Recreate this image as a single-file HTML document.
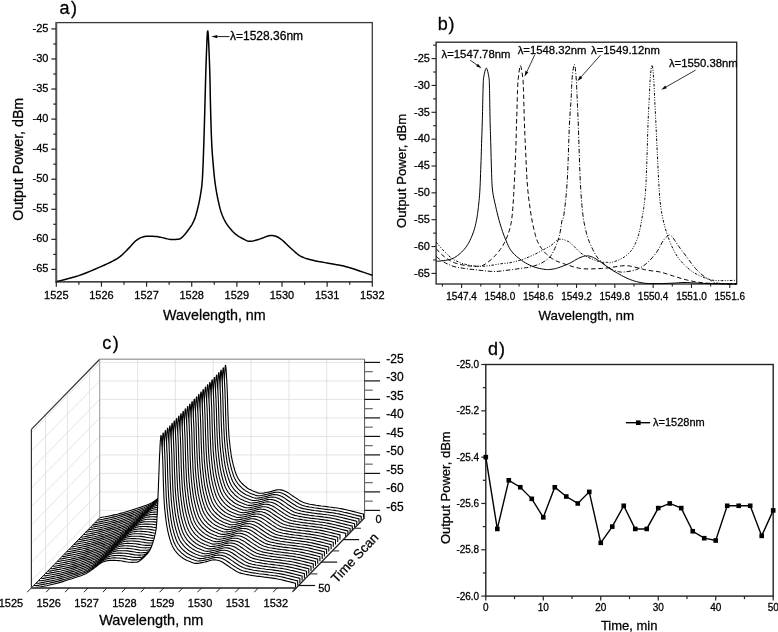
<!DOCTYPE html>
<html><head><meta charset="utf-8"><style>
html,body{margin:0;padding:0;background:#fff;width:778px;height:632px;overflow:hidden}
svg{display:block;will-change:transform}
text{font-family:"Liberation Sans", sans-serif;fill:#000;stroke:#000;stroke-width:0.28px}
</style></head><body>
<svg width="778" height="632" viewBox="0 0 778 632">
<rect x="436.1" y="42.2" width="300.6" height="241.8" fill="none" stroke="#222" stroke-width="1.3"/>
<line x1="442.44" y1="284" x2="442.44" y2="286.5" stroke="#222" stroke-width="1.1" />
<line x1="461.6" y1="284" x2="461.6" y2="288" stroke="#222" stroke-width="1.1" />
<text x="461.6" y="300.2" font-size="10" text-anchor="middle" >1547.4</text>
<line x1="480.75" y1="284" x2="480.75" y2="286.5" stroke="#222" stroke-width="1.1" />
<line x1="499.91" y1="284" x2="499.91" y2="288" stroke="#222" stroke-width="1.1" />
<text x="499.91" y="300.2" font-size="10" text-anchor="middle" >1548.0</text>
<line x1="519.06" y1="284" x2="519.06" y2="286.5" stroke="#222" stroke-width="1.1" />
<line x1="538.22" y1="284" x2="538.22" y2="288" stroke="#222" stroke-width="1.1" />
<text x="538.22" y="300.2" font-size="10" text-anchor="middle" >1548.6</text>
<line x1="557.37" y1="284" x2="557.37" y2="286.5" stroke="#222" stroke-width="1.1" />
<line x1="576.53" y1="284" x2="576.53" y2="288" stroke="#222" stroke-width="1.1" />
<text x="576.53" y="300.2" font-size="10" text-anchor="middle" >1549.2</text>
<line x1="595.68" y1="284" x2="595.68" y2="286.5" stroke="#222" stroke-width="1.1" />
<line x1="614.84" y1="284" x2="614.84" y2="288" stroke="#222" stroke-width="1.1" />
<text x="614.84" y="300.2" font-size="10" text-anchor="middle" >1549.8</text>
<line x1="633.99" y1="284" x2="633.99" y2="286.5" stroke="#222" stroke-width="1.1" />
<line x1="653.15" y1="284" x2="653.15" y2="288" stroke="#222" stroke-width="1.1" />
<text x="653.15" y="300.2" font-size="10" text-anchor="middle" >1550.4</text>
<line x1="672.3" y1="284" x2="672.3" y2="286.5" stroke="#222" stroke-width="1.1" />
<line x1="691.46" y1="284" x2="691.46" y2="288" stroke="#222" stroke-width="1.1" />
<text x="691.46" y="300.2" font-size="10" text-anchor="middle" >1551.0</text>
<line x1="710.61" y1="284" x2="710.61" y2="286.5" stroke="#222" stroke-width="1.1" />
<line x1="729.77" y1="284" x2="729.77" y2="288" stroke="#222" stroke-width="1.1" />
<text x="729.77" y="300.2" font-size="10" text-anchor="middle" >1551.6</text>
<line x1="431.5" y1="273.4" x2="436.1" y2="273.4" stroke="#222" stroke-width="1.1" />
<text x="429.9" y="276.6" font-size="11" text-anchor="end" >-65</text>
<line x1="433.1" y1="259.97" x2="436.1" y2="259.97" stroke="#222" stroke-width="1.1" />
<line x1="431.5" y1="246.55" x2="436.1" y2="246.55" stroke="#222" stroke-width="1.1" />
<text x="429.9" y="249.75" font-size="11" text-anchor="end" >-60</text>
<line x1="433.1" y1="233.12" x2="436.1" y2="233.12" stroke="#222" stroke-width="1.1" />
<line x1="431.5" y1="219.7" x2="436.1" y2="219.7" stroke="#222" stroke-width="1.1" />
<text x="429.9" y="222.9" font-size="11" text-anchor="end" >-55</text>
<line x1="433.1" y1="206.27" x2="436.1" y2="206.27" stroke="#222" stroke-width="1.1" />
<line x1="431.5" y1="192.85" x2="436.1" y2="192.85" stroke="#222" stroke-width="1.1" />
<text x="429.9" y="196.05" font-size="11" text-anchor="end" >-50</text>
<line x1="433.1" y1="179.42" x2="436.1" y2="179.42" stroke="#222" stroke-width="1.1" />
<line x1="431.5" y1="166" x2="436.1" y2="166" stroke="#222" stroke-width="1.1" />
<text x="429.9" y="169.2" font-size="11" text-anchor="end" >-45</text>
<line x1="433.1" y1="152.57" x2="436.1" y2="152.57" stroke="#222" stroke-width="1.1" />
<line x1="431.5" y1="139.15" x2="436.1" y2="139.15" stroke="#222" stroke-width="1.1" />
<text x="429.9" y="142.35" font-size="11" text-anchor="end" >-40</text>
<line x1="433.1" y1="125.72" x2="436.1" y2="125.72" stroke="#222" stroke-width="1.1" />
<line x1="431.5" y1="112.3" x2="436.1" y2="112.3" stroke="#222" stroke-width="1.1" />
<text x="429.9" y="115.5" font-size="11" text-anchor="end" >-35</text>
<line x1="433.1" y1="98.87" x2="436.1" y2="98.87" stroke="#222" stroke-width="1.1" />
<line x1="431.5" y1="85.45" x2="436.1" y2="85.45" stroke="#222" stroke-width="1.1" />
<text x="429.9" y="88.65" font-size="11" text-anchor="end" >-30</text>
<line x1="433.1" y1="72.02" x2="436.1" y2="72.02" stroke="#222" stroke-width="1.1" />
<line x1="431.5" y1="58.6" x2="436.1" y2="58.6" stroke="#222" stroke-width="1.1" />
<text x="429.9" y="61.8" font-size="11" text-anchor="end" >-25</text>
<line x1="433.1" y1="45.17" x2="436.1" y2="45.17" stroke="#222" stroke-width="1.1" />
<text x="437.7" y="30.2" font-size="18" text-anchor="start" letter-spacing="0.8">b)</text>
<text x="405.8" y="170.85" font-size="13.2" text-anchor="middle" transform="rotate(-90 405.8 170.85)">Output Power, dBm</text>
<text x="586.3" y="319.5" font-size="13.3" text-anchor="middle" >Wavelength, nm</text>
<text x="441.6" y="57.8" font-size="11.3" text-anchor="start" >λ=1547.78nm</text>
<text x="517.7" y="54.3" font-size="11.3" text-anchor="start" >λ=1548.32nm</text>
<text x="591.1" y="54.3" font-size="11.3" text-anchor="start" >λ=1549.12nm</text>
<text x="668.9" y="66.9" font-size="11.3" text-anchor="start" >λ=1550.38nm</text>
<line x1="470.1" y1="60.1" x2="477.02" y2="65.01" stroke="#000" stroke-width="0.8" /><path d="M481.5 68.2 L476.09 66.32 L477.94 63.71 Z" fill="#000"/>
<line x1="534.7" y1="55" x2="526.94" y2="71.52" stroke="#000" stroke-width="0.8" /><path d="M524.6 76.5 L525.49 70.84 L528.39 72.2 Z" fill="#000"/>
<line x1="600.6" y1="55" x2="581.15" y2="76.89" stroke="#000" stroke-width="0.8" /><path d="M577.5 81 L579.96 75.83 L582.35 77.95 Z" fill="#000"/>
<line x1="695.6" y1="70.1" x2="666.08" y2="86.97" stroke="#000" stroke-width="0.8" /><path d="M661.3 89.7 L665.28 85.58 L666.87 88.36 Z" fill="#000"/>
<path d="M436.2 261.2L436.75 261.19L437.19 261.2L437.62 261.21L438.17 261.2L438.93 261.14L440 261L441.49 260.81L443.33 260.6L445.38 260.34L447.5 260.01L449.56 259.57L451.4 259L453.04 258.3L454.6 257.49L456.09 256.58L457.53 255.57L458.93 254.48L460.3 253.3L461.65 252.04L462.97 250.71L464.25 249.28L465.49 247.76L466.67 246.13L467.8 244.4L468.88 242.52L469.93 240.48L470.92 238.34L471.85 236.14L472.72 233.95L473.5 231.8L474.19 229.7L474.8 227.62L475.34 225.53L475.82 223.43L476.27 221.29L476.7 219.1L477.1 216.87L477.45 214.6L477.77 212.31L478.06 209.97L478.33 207.61L478.6 205.2L478.85 202.86L479.09 200.59L479.31 198.29L479.51 195.84L479.71 193.12L479.9 190L480.09 186.4L480.26 182.39L480.43 178.11L480.59 173.7L480.75 169.28L480.9 165L481.05 160.72L481.19 156.3L481.33 151.88L481.46 147.59L481.59 143.59L481.7 140L481.8 136.98L481.89 134.45L481.97 132.19L482.04 130.01L482.12 127.68L482.2 125L482.28 121.91L482.37 118.55L482.46 115.06L482.54 111.54L482.62 108.11L482.7 104.9L482.77 101.85L482.83 98.87L482.89 95.98L482.96 93.22L483.02 90.61L483.1 88.2L483.17 86.01L483.21 84.04L483.26 82.23L483.34 80.51L483.48 78.86L483.7 77.2L484.02 75.36L484.42 73.35L484.88 71.39L485.36 69.71L485.84 68.54L486.3 68.1L486.76 68.54L487.24 69.71L487.73 71.39L488.18 73.35L488.58 75.36L488.9 77.2L489.12 78.86L489.26 80.51L489.34 82.23L489.4 84.04L489.44 86.01L489.5 88.2L489.57 90.61L489.62 93.22L489.66 95.98L489.7 98.87L489.75 101.85L489.8 104.9L489.86 108.05L489.92 111.35L489.98 114.74L490.05 118.18L490.12 121.62L490.2 125L490.29 128.28L490.38 131.49L490.48 134.69L490.59 137.97L490.69 141.38L490.8 145L490.91 148.94L491.01 153.15L491.12 157.5L491.24 161.85L491.36 166.06L491.5 170L491.62 173.66L491.73 177.17L491.84 180.53L491.99 183.78L492.2 186.93L492.5 190L492.89 192.95L493.36 195.74L493.89 198.44L494.47 201.09L495.08 203.76L495.7 206.5L496.34 209.32L497.01 212.19L497.72 215.08L498.45 217.94L499.21 220.76L500 223.5L500.82 226.18L501.66 228.83L502.53 231.44L503.43 233.98L504.35 236.44L505.3 238.8L506.23 241.07L507.15 243.27L508.09 245.38L509.1 247.41L510.22 249.35L511.5 251.2L512.95 252.95L514.56 254.61L516.28 256.19L518.06 257.67L519.88 259.08L521.7 260.4L523.52 261.65L525.39 262.81L527.29 263.9L529.22 264.9L531.16 265.8L533.1 266.6L535.11 267.3L537.21 267.9L539.32 268.4L541.38 268.81L543.29 269.15L545 269.4L546.45 269.56L547.7 269.61L548.82 269.57L549.86 269.48L550.9 269.35L552 269.2L553.1 269.05L554.13 268.87L555.15 268.66L556.23 268.39L557.43 268.04L558.8 267.6L560.41 267.04L562.23 266.36L564.17 265.61L566.13 264.81L568.04 264L569.8 263.2L571.43 262.37L573.01 261.47L574.52 260.56L575.98 259.68L577.37 258.88L578.7 258.2L579.94 257.64L581.1 257.16L582.19 256.75L583.24 256.42L584.27 256.17L585.3 256L586.29 255.9L587.23 255.87L588.14 255.91L589.06 256.04L590.04 256.27L591.1 256.6L592.25 257.04L593.46 257.59L594.71 258.24L596.01 258.96L597.34 259.76L598.7 260.6L600.08 261.53L601.5 262.56L602.94 263.66L604.43 264.79L605.94 265.91L607.5 267L609.08 268.06L610.67 269.11L612.31 270.16L613.99 271.2L615.75 272.25L617.6 273.3L619.57 274.38L621.64 275.51L623.79 276.63L625.97 277.71L628.15 278.72L630.3 279.6L632.42 280.37L634.56 281.05L636.69 281.66L638.82 282.18L640.92 282.63L643 283L644.98 283.27L646.87 283.44L648.73 283.54L650.66 283.58L652.72 283.59L655 283.6L657.6 283.59L660.48 283.55L663.5 283.48L666.52 283.39L669.4 283.3L672 283.2L674.29 283.09L676.37 282.94L678.31 282.79L680.19 282.66L682.06 282.55L684 282.5L685.95 282.51L687.85 282.57L689.75 282.66L691.7 282.77L693.77 282.89L696 283L698.34 283.11L700.72 283.23L703.22 283.36L705.89 283.49L708.8 283.6L712 283.7L715.59 283.77L719.54 283.83L723.72 283.87L728.02 283.91L732.32 283.95L736.5 284" fill="none" stroke="#000" stroke-width="1" stroke-linejoin="round" />
<path d="M436.2 248.8L437.28 249.92L438.31 251.04L439.35 252.16L440.43 253.27L441.6 254.39L442.9 255.5L444.34 256.64L445.88 257.83L447.51 259.01L449.21 260.15L450.98 261.19L452.8 262.1L454.71 262.87L456.74 263.53L458.83 264.11L460.93 264.6L463 265.03L465 265.4L466.96 265.71L468.94 265.94L470.89 266.11L472.77 266.22L474.52 266.28L476.1 266.3L477.47 266.3L478.64 266.28L479.69 266.21L480.69 266.06L481.71 265.8L482.8 265.4L484 264.81L485.24 264.06L486.51 263.19L487.74 262.27L488.92 261.35L490 260.5L490.95 259.74L491.79 259.03L492.56 258.33L493.33 257.58L494.12 256.75L495 255.8L495.98 254.71L497.02 253.51L498.09 252.24L499.17 250.9L500.22 249.51L501.2 248.1L502.13 246.68L503.02 245.23L503.88 243.74L504.71 242.18L505.52 240.54L506.3 238.8L507.06 236.95L507.81 235L508.54 232.97L509.22 230.87L509.84 228.71L510.4 226.5L510.87 224.37L511.26 222.33L511.6 220.22L511.9 217.92L512.2 215.26L512.5 212.1L512.81 208.35L513.11 204.11L513.39 199.52L513.67 194.72L513.94 189.83L514.2 185L514.46 180.17L514.71 175.21L514.95 170.18L515.18 165.11L515.4 160.03L515.6 155L515.78 149.89L515.95 144.63L516.1 139.38L516.24 134.27L516.37 129.43L516.5 125L516.62 121.04L516.73 117.44L516.83 114.12L516.92 110.98L517.01 107.94L517.1 104.9L517.19 101.85L517.26 98.87L517.34 95.98L517.41 93.22L517.5 90.61L517.6 88.2L517.7 86.04L517.8 84.14L517.91 82.39L518.03 80.71L518.19 79.01L518.4 77.2L518.66 75.02L518.97 72.49L519.31 69.93L519.67 67.69L520.04 66.1L520.4 65.5L520.78 66.1L521.2 67.69L521.63 69.93L522.04 72.49L522.41 75.02L522.7 77.2L522.91 79.01L523.06 80.71L523.16 82.39L523.24 84.14L523.31 86.04L523.4 88.2L523.49 90.61L523.58 93.22L523.66 95.98L523.73 98.87L523.81 101.85L523.9 104.9L523.99 107.94L524.07 110.98L524.15 114.12L524.24 117.44L524.36 121.04L524.5 125L524.67 129.41L524.87 134.21L525.08 139.29L525.31 144.52L525.55 149.8L525.8 155L526.04 160.23L526.29 165.61L526.54 171.04L526.81 176.4L527.13 181.59L527.5 186.5L527.93 191.16L528.41 195.66L528.92 199.98L529.47 204.13L530.03 208.11L530.6 211.9L531.18 215.51L531.77 218.95L532.39 222.21L533.01 225.29L533.65 228.18L534.3 230.9L534.93 233.39L535.53 235.65L536.14 237.73L536.8 239.67L537.54 241.55L538.4 243.4L539.39 245.23L540.48 246.98L541.66 248.66L542.9 250.26L544.18 251.78L545.5 253.2L546.84 254.52L548.22 255.75L549.65 256.89L551.13 257.95L552.68 258.95L554.3 259.9L556.02 260.78L557.83 261.58L559.71 262.31L561.61 263L563.52 263.66L565.4 264.3L567.27 264.94L569.16 265.56L571.05 266.14L572.92 266.69L574.74 267.18L576.5 267.6L578.07 267.96L579.43 268.26L580.76 268.5L582.19 268.69L583.89 268.82L586 268.9L588.62 268.92L591.63 268.88L594.91 268.79L598.31 268.64L601.72 268.44L605 268.2L608.27 267.84L611.66 267.36L615.06 266.82L618.33 266.32L621.35 265.92L624 265.7L626.17 265.68L627.93 265.79L629.44 266L630.87 266.29L632.37 266.64L634.1 267L636.06 267.43L638.12 267.94L640.26 268.51L642.43 269.09L644.62 269.63L646.8 270.1L648.98 270.46L651.18 270.75L653.4 271.01L655.62 271.27L657.82 271.59L660 272L662.15 272.52L664.27 273.13L666.39 273.78L668.49 274.46L670.59 275.14L672.7 275.8L674.8 276.45L676.9 277.11L679 277.78L681.1 278.42L683.2 279.04L685.3 279.6L687.41 280.12L689.53 280.61L691.65 281.06L693.77 281.48L695.89 281.86L698 282.2L700.08 282.49L702.14 282.73L704.19 282.93L706.27 283.1L708.4 283.26L710.6 283.4L712.93 283.53L715.37 283.63L717.87 283.72L720.35 283.79L722.75 283.85L725 283.9L727.08 283.94L729.05 283.96L730.93 283.97L732.77 283.98L734.62 283.99L736.5 284" fill="none" stroke="#000" stroke-width="1" stroke-linejoin="round" stroke-dasharray="4.5 2.8"/>
<path d="M436.2 256.6L437.48 257.53L438.72 258.47L439.97 259.42L441.24 260.35L442.58 261.25L444 262.1L445.49 262.92L447.02 263.73L448.61 264.5L450.27 265.23L452.03 265.9L453.9 266.5L455.88 267.01L457.96 267.44L460.12 267.81L462.39 268.14L464.75 268.46L467.2 268.8L469.85 269.15L472.73 269.5L475.69 269.84L478.63 270.16L481.41 270.45L483.9 270.7L486.06 270.92L487.99 271.12L489.75 271.29L491.44 271.41L493.13 271.49L494.9 271.5L496.71 271.44L498.49 271.3L500.26 271.12L502.08 270.9L503.98 270.65L506 270.4L508.19 270.13L510.52 269.83L512.93 269.51L515.36 269.17L517.74 268.83L520 268.5L522.15 268.2L524.24 267.93L526.29 267.66L528.29 267.35L530.26 266.97L532.2 266.5L534.14 265.93L536.07 265.29L537.98 264.59L539.81 263.82L541.57 262.99L543.2 262.1L544.71 261.18L546.12 260.23L547.44 259.22L548.69 258.11L549.87 256.89L551 255.5L552.07 253.91L553.08 252.13L554.03 250.23L554.91 248.27L555.73 246.3L556.5 244.4L557.2 242.58L557.83 240.78L558.41 238.99L558.93 237.16L559.43 235.28L559.9 233.3L560.34 231.12L560.74 228.73L561.1 226.28L561.44 223.91L561.77 221.77L562.1 220L562.41 218.99L562.67 218.71L562.93 218.65L563.2 218.31L563.52 217.2L563.9 214.8L564.38 211.14L564.93 206.64L565.52 201.36L566.13 195.36L566.7 188.72L567.2 181.5L567.64 173.07L568.03 163.24L568.4 152.78L568.74 142.41L569.08 132.9L569.4 125L569.72 118.89L570.03 114.02L570.32 110L570.6 106.46L570.86 103.02L571.1 99.3L571.31 95.3L571.47 91.32L571.62 87.44L571.77 83.74L571.96 80.3L572.2 77.2L572.51 74.23L572.87 71.3L573.26 68.62L573.66 66.43L574.05 64.94L574.4 64.4L574.72 64.94L575.03 66.43L575.32 68.62L575.6 71.3L575.86 74.23L576.1 77.2L576.32 80.3L576.51 83.74L576.69 87.44L576.86 91.32L577.02 95.3L577.2 99.3L577.37 103.02L577.53 106.46L577.69 110L577.87 114.02L578.06 118.89L578.3 125L578.57 132.9L578.88 142.41L579.21 152.78L579.56 163.24L579.92 173.07L580.3 181.5L580.69 188.56L581.09 194.87L581.5 200.53L581.94 205.66L582.4 210.38L582.9 214.8L583.45 218.84L584.04 222.39L584.66 225.53L585.29 228.34L585.91 230.9L586.5 233.3L587.03 235.38L587.51 237.04L587.98 238.46L588.49 239.8L589.08 241.22L589.8 242.9L590.67 244.9L591.66 247.1L592.73 249.39L593.84 251.64L594.98 253.75L596.1 255.6L597.21 257.16L598.35 258.53L599.51 259.75L600.67 260.87L601.84 261.94L603 263L604.15 264.06L605.3 265.07L606.46 266.03L607.62 266.93L608.8 267.76L610 268.5L611.25 269.16L612.53 269.74L613.84 270.26L615.13 270.7L616.4 271.08L617.6 271.4L618.66 271.67L619.59 271.89L620.49 272.04L621.45 272.11L622.59 272.11L624 272L625.77 271.81L627.83 271.54L630.06 271.18L632.35 270.73L634.57 270.17L636.6 269.5L638.44 268.73L640.18 267.87L641.86 266.91L643.5 265.82L645.13 264.59L646.8 263.2L648.54 261.59L650.32 259.76L652.11 257.78L653.83 255.74L655.45 253.72L656.9 251.8L658.17 249.9L659.29 247.94L660.29 246L661.23 244.15L662.12 242.46L663 241L663.86 239.77L664.67 238.72L665.44 237.82L666.18 237.08L666.9 236.48L667.6 236L668.24 235.59L668.79 235.23L669.31 235.02L669.88 235.02L670.56 235.32L671.4 236L672.45 237.17L673.65 238.8L674.96 240.72L676.33 242.78L677.69 244.83L679 246.7L680.27 248.42L681.53 250.11L682.8 251.78L684.07 253.45L685.33 255.12L686.6 256.8L687.87 258.52L689.13 260.29L690.4 262.06L691.67 263.79L692.93 265.45L694.2 267L695.47 268.45L696.73 269.82L698 271.12L699.27 272.36L700.53 273.51L701.8 274.6L703.08 275.6L704.38 276.53L705.68 277.38L706.96 278.16L708.21 278.9L709.4 279.6L710.49 280.26L711.49 280.88L712.44 281.45L713.43 281.96L714.49 282.41L715.7 282.8L717.05 283.1L718.5 283.33L720.03 283.49L721.63 283.61L723.29 283.71L725 283.8L726.79 283.88L728.67 283.93L730.61 283.95L732.59 283.96L734.56 283.98L736.5 284" fill="none" stroke="#000" stroke-width="1" stroke-linejoin="round" stroke-dasharray="4.5 1.8 1 1.8"/>
<path d="M436.2 242.2L437.29 243.48L438.36 244.74L439.42 246.01L440.51 247.29L441.66 248.58L442.9 249.9L444.23 251.29L445.63 252.74L447.09 254.22L448.6 255.66L450.14 257L451.7 258.2L453.27 259.25L454.86 260.19L456.49 261.04L458.16 261.82L459.89 262.53L461.7 263.2L463.61 263.83L465.6 264.4L467.66 264.91L469.75 265.36L471.84 265.72L473.9 266L475.91 266.19L477.89 266.29L479.86 266.31L481.87 266.27L483.94 266.16L486.1 266L488.43 265.75L490.92 265.39L493.47 264.97L495.98 264.53L498.36 264.13L500.5 263.8L502.35 263.57L503.97 263.41L505.46 263.29L506.9 263.15L508.38 262.97L510 262.7L511.76 262.35L513.58 261.95L515.45 261.51L517.34 261.01L519.23 260.48L521.1 259.9L522.95 259.27L524.8 258.6L526.66 257.87L528.51 257.11L530.36 256.32L532.2 255.5L534.06 254.63L535.95 253.71L537.84 252.76L539.69 251.79L541.49 250.83L543.2 249.9L544.85 248.99L546.45 248.09L548 247.2L549.47 246.32L550.84 245.45L552.1 244.6L553.21 243.72L554.19 242.8L555.07 241.9L555.9 241.06L556.69 240.35L557.5 239.8L558.31 239.45L559.09 239.25L559.84 239.18L560.57 239.18L561.29 239.24L562 239.3L562.69 239.38L563.34 239.51L563.98 239.69L564.62 239.92L565.29 240.19L566 240.5L566.72 240.8L567.42 241.09L568.14 241.43L568.94 241.86L569.84 242.47L570.9 243.3L572.18 244.47L573.65 245.95L575.24 247.59L576.85 249.26L578.4 250.81L579.8 252.1L580.98 253.09L581.99 253.9L582.94 254.59L583.94 255.23L585.09 255.88L586.5 256.6L588.26 257.44L590.31 258.36L592.52 259.28L594.74 260.16L596.85 260.92L598.7 261.5L600.32 261.88L601.8 262.09L603.17 262.19L604.44 262.23L605.61 262.25L606.7 262.3L607.6 262.41L608.28 262.56L608.87 262.69L609.49 262.75L610.25 262.71L611.3 262.5L612.68 262.13L614.3 261.64L616.08 261.04L617.92 260.34L619.72 259.56L621.4 258.7L622.99 257.76L624.57 256.74L626.12 255.62L627.61 254.43L629.02 253.15L630.3 251.8L631.46 250.35L632.51 248.8L633.48 247.17L634.37 245.48L635.21 243.75L636 242L636.74 240.23L637.4 238.43L638.01 236.59L638.57 234.7L639.09 232.78L639.6 230.8L640.07 228.76L640.5 226.66L640.89 224.51L641.27 222.34L641.63 220.16L642 218L642.37 215.97L642.73 214.07L643.08 212.17L643.42 210.12L643.76 207.78L644.1 205L644.44 202.11L644.77 199.3L645.11 196.19L645.44 192.43L645.77 187.65L646.1 181.5L646.44 173.17L646.8 162.8L647.16 151.42L647.5 140.05L647.82 129.73L648.1 121.5L648.34 115.61L648.53 111.3L648.71 108.03L648.87 105.29L649.03 102.56L649.2 99.3L649.38 95.5L649.54 91.56L649.71 87.62L649.89 83.83L650.08 80.31L650.3 77.2L650.55 74.31L650.83 71.5L651.12 68.96L651.42 66.89L651.72 65.51L652 65L652.28 65.51L652.56 66.89L652.84 68.96L653.11 71.5L653.36 74.31L653.6 77.2L653.81 80.31L654 83.83L654.18 87.63L654.35 91.56L654.52 95.5L654.7 99.3L654.86 102.56L655 105.29L655.14 108.03L655.3 111.3L655.51 115.61L655.8 121.5L656.19 129.73L656.67 140.05L657.21 151.42L657.75 162.8L658.26 173.17L658.7 181.5L659.05 187.6L659.33 192.25L659.58 195.89L659.83 198.95L660.13 201.84L660.5 205L660.94 208.3L661.42 211.38L661.94 214.29L662.51 217.11L663.13 219.89L663.8 222.7L664.53 225.54L665.32 228.36L666.16 231.14L667.04 233.87L667.96 236.53L668.9 239.1L669.87 241.6L670.86 244.06L671.89 246.44L672.96 248.73L674.06 250.93L675.2 253L676.36 254.93L677.54 256.73L678.76 258.42L680.03 260.04L681.37 261.62L682.8 263.2L684.32 264.78L685.93 266.35L687.61 267.88L689.34 269.35L691.11 270.73L692.9 272L694.75 273.17L696.7 274.24L698.67 275.24L700.64 276.14L702.53 276.97L704.3 277.7L705.91 278.34L707.41 278.88L708.83 279.34L710.24 279.72L711.68 280.04L713.2 280.3L714.78 280.49L716.36 280.59L717.98 280.63L719.66 280.63L721.42 280.61L723.3 280.6L725.32 280.58L727.47 280.54L729.71 280.49L731.99 280.42L734.26 280.36L736.5 280.3" fill="none" stroke="#000" stroke-width="1" stroke-linejoin="round" stroke-dasharray="2.6 1.5 1 1.5 1 1.5"/>
<line x1="99.7" y1="510.4" x2="364.58" y2="510.4" stroke="#d9d9d9" stroke-width="0.7" />
<line x1="99.7" y1="491.9" x2="364.58" y2="491.9" stroke="#d9d9d9" stroke-width="0.7" />
<line x1="99.7" y1="473.4" x2="364.58" y2="473.4" stroke="#d9d9d9" stroke-width="0.7" />
<line x1="99.7" y1="454.9" x2="364.58" y2="454.9" stroke="#d9d9d9" stroke-width="0.7" />
<line x1="99.7" y1="436.4" x2="364.58" y2="436.4" stroke="#d9d9d9" stroke-width="0.7" />
<line x1="99.7" y1="417.9" x2="364.58" y2="417.9" stroke="#d9d9d9" stroke-width="0.7" />
<line x1="99.7" y1="399.4" x2="364.58" y2="399.4" stroke="#d9d9d9" stroke-width="0.7" />
<line x1="99.7" y1="380.9" x2="364.58" y2="380.9" stroke="#d9d9d9" stroke-width="0.7" />
<line x1="99.7" y1="362.4" x2="364.58" y2="362.4" stroke="#d9d9d9" stroke-width="0.7" />
<line x1="99.7" y1="359.25" x2="99.7" y2="517.8" stroke="#d9d9d9" stroke-width="0.7" />
<line x1="137.54" y1="359.25" x2="137.54" y2="517.8" stroke="#d9d9d9" stroke-width="0.7" />
<line x1="175.38" y1="359.25" x2="175.38" y2="517.8" stroke="#d9d9d9" stroke-width="0.7" />
<line x1="213.22" y1="359.25" x2="213.22" y2="517.8" stroke="#d9d9d9" stroke-width="0.7" />
<line x1="251.06" y1="359.25" x2="251.06" y2="517.8" stroke="#d9d9d9" stroke-width="0.7" />
<line x1="288.9" y1="359.25" x2="288.9" y2="517.8" stroke="#d9d9d9" stroke-width="0.7" />
<line x1="326.74" y1="359.25" x2="326.74" y2="517.8" stroke="#d9d9d9" stroke-width="0.7" />
<line x1="364.58" y1="359.25" x2="364.58" y2="517.8" stroke="#d9d9d9" stroke-width="0.7" />
<line x1="99.7" y1="510.4" x2="31.4" y2="580.5" stroke="#d9d9d9" stroke-width="0.7" />
<line x1="99.7" y1="491.9" x2="31.4" y2="562" stroke="#d9d9d9" stroke-width="0.7" />
<line x1="99.7" y1="473.4" x2="31.4" y2="543.5" stroke="#d9d9d9" stroke-width="0.7" />
<line x1="99.7" y1="454.9" x2="31.4" y2="525" stroke="#d9d9d9" stroke-width="0.7" />
<line x1="99.7" y1="436.4" x2="31.4" y2="506.5" stroke="#d9d9d9" stroke-width="0.7" />
<line x1="99.7" y1="417.9" x2="31.4" y2="488" stroke="#d9d9d9" stroke-width="0.7" />
<line x1="99.7" y1="399.4" x2="31.4" y2="469.5" stroke="#d9d9d9" stroke-width="0.7" />
<line x1="99.7" y1="380.9" x2="31.4" y2="451" stroke="#d9d9d9" stroke-width="0.7" />
<line x1="99.7" y1="362.4" x2="31.4" y2="432.5" stroke="#d9d9d9" stroke-width="0.7" />
<line x1="45.6" y1="414.78" x2="45.6" y2="573.33" stroke="#d9d9d9" stroke-width="0.7" />
<line x1="67.4" y1="392.41" x2="67.4" y2="550.95" stroke="#d9d9d9" stroke-width="0.7" />
<line x1="89.5" y1="369.72" x2="89.5" y2="528.27" stroke="#d9d9d9" stroke-width="0.7" />
<line x1="99.7" y1="359.25" x2="364.58" y2="359.25" stroke="#a8a8a8" stroke-width="1.6" />
<line x1="99.7" y1="359.25" x2="31.4" y2="429.35" stroke="#333" stroke-width="1.2" />
<line x1="31.4" y1="429.35" x2="31.4" y2="587.9" stroke="#333" stroke-width="1.2" />
<line x1="99.7" y1="359.25" x2="99.7" y2="517.8" stroke="#999" stroke-width="0.9" />
<line x1="364.58" y1="359.25" x2="364.58" y2="517.8" stroke="#555" stroke-width="1.0" />
<path d="M99.7 517.8L102.1 517.3L105.1 516.8L108.2 516.2L111.2 515.6L114.3 514.9L117.4 514.2L120.6 513.4L123.9 512.5L127.2 511.5L130.4 510.5L133.5 509.5L136.4 508.6L139 507.7L141.6 506.9L143.9 506.1L146.2 505.3L148.3 504.4L150.2 503.6L152 502.7L153.5 501.7L154.9 500.8L156.2 499.8L157.5 498.9L158.8 498L160 497L161.2 496.1L162.3 495.1L163.5 494.2L164.6 493.4L165.7 492.7L166.8 492.2L167.9 491.7L168.9 491.3L170 491L171.2 490.7L172.6 490.5L174.1 490.3L175.8 490.3L177.5 490.2L179.3 490.3L181.1 490.4L182.9 490.5L184.7 490.7L186.5 490.9L188.4 491.3L190.2 491.6L191.8 491.9L193.3 492.1L194.5 492.2L195.6 492.2L196.5 492.3L197.3 492.3L198.1 492.2L198.9 492.2L199.7 492.2L200.4 492.1L201 492.1L201.6 492L202.3 491.8L203.1 491.5L204 490.9L204.9 490.3L205.8 489.5L206.8 488.7L207.8 487.8L208.7 486.9L209.6 486L210.6 485.1L211.5 484L212.4 483L213.2 481.9L214 480.7L214.7 479.5L215.3 478.3L215.8 477L216.3 475.7L216.7 474.4L217.2 473.1L217.6 471.8L218 470.6L218.4 469.3L218.7 468L219 466.7L219.4 465.3L219.7 464L220 462.7L220.2 461.4L220.5 459.9L220.7 458.2L221 456.1L221.2 453.6L221.4 450.9L221.5 447.9L221.7 444.7L221.9 441.3L222 437.8L222.2 434.1L222.4 430.1L222.6 425.9L222.7 421.7L222.9 417.5L223 413.4L223.2 409.5L223.3 405.6L223.5 401.7L223.6 397.9L223.7 394.2L223.9 390.6L224 387L224.2 383.3L224.4 379.8L224.6 376.5L224.7 373.6L224.9 371.1L225 369.3L225.1 367.8L225.2 366.7L225.3 365.9L225.4 365.5L225.5 365.4L225.6 365.5L225.7 365.9L225.8 366.7L225.9 367.8L226.1 369.3L226.2 371.1L226.4 373.6L226.5 376.5L226.7 379.8L226.9 383.3L227.1 387L227.2 390.6L227.4 394.2L227.5 398L227.6 401.9L227.7 405.8L227.8 409.7L227.9 413.4L228.1 417.1L228.2 420.9L228.4 424.6L228.5 428.1L228.7 431.6L228.9 434.7L229.1 437.7L229.4 440.4L229.7 443L230 445.5L230.2 447.8L230.5 449.9L230.8 451.9L231 453.7L231.2 455.3L231.5 456.8L231.8 458.4L232.1 460L232.5 461.7L232.9 463.4L233.3 465.2L233.8 466.9L234.3 468.5L234.7 470L235.1 471.3L235.5 472.5L235.9 473.7L236.4 474.8L236.8 475.8L237.4 476.9L238 478L238.6 479L239.3 480.1L240 481.1L240.8 482.1L241.7 483.1L242.6 484L243.6 485L244.7 485.9L245.8 486.8L246.9 487.7L248 488.5L249.2 489.2L250.5 489.8L251.8 490.5L253 491L254.3 491.5L255.4 491.9L256.4 492.3L257.3 492.7L258.1 492.9L258.9 493.2L259.9 493.3L260.9 493.3L262.2 493.3L263.6 493.1L265 492.8L266.5 492.5L268 492.2L269.5 491.9L270.9 491.5L272.4 491.1L273.9 490.6L275.4 490.2L276.8 489.9L278.2 489.8L279.5 489.8L280.7 489.9L281.9 490.1L283.2 490.4L284.5 490.9L285.9 491.5L287.6 492.4L289.4 493.6L291.2 494.9L293.1 496.2L294.9 497.4L296.6 498.5L298 499.4L299.2 500.2L300.4 500.9L301.6 501.6L302.9 502.2L304.4 502.8L306 503.3L307.8 503.7L309.7 504.2L311.7 504.5L313.8 504.9L316 505.3L318.4 505.6L321 506L323.8 506.3L326.5 506.6L329.1 507L331.5 507.3L333.6 507.6L335.4 507.8L337.1 508L338.8 508.3L340.8 508.6L343.2 509.1L346.1 509.7L349.3 510.5L352.8 511.4L356.4 512.3L360 513.2L363.5 514L363.5 517.8L99.7 517.8Z" fill="#fff" stroke="none"/>
<path d="M99.7 517.8L102.1 517.3L105.1 516.8L108.2 516.2L111.2 515.6L114.3 514.9L117.4 514.2L120.6 513.4L123.9 512.5L127.2 511.5L130.4 510.5L133.5 509.5L136.4 508.6L139 507.7L141.6 506.9L143.9 506.1L146.2 505.3L148.3 504.4L150.2 503.6L152 502.7L153.5 501.7L154.9 500.8L156.2 499.8L157.5 498.9L158.8 498L160 497L161.2 496.1L162.3 495.1L163.5 494.2L164.6 493.4L165.7 492.7L166.8 492.2L167.9 491.7L168.9 491.3L170 491L171.2 490.7L172.6 490.5L174.1 490.3L175.8 490.3L177.5 490.2L179.3 490.3L181.1 490.4L182.9 490.5L184.7 490.7L186.5 490.9L188.4 491.3L190.2 491.6L191.8 491.9L193.3 492.1L194.5 492.2L195.6 492.2L196.5 492.3L197.3 492.3L198.1 492.2L198.9 492.2L199.7 492.2L200.4 492.1L201 492.1L201.6 492L202.3 491.8L203.1 491.5L204 490.9L204.9 490.3L205.8 489.5L206.8 488.7L207.8 487.8L208.7 486.9L209.6 486L210.6 485.1L211.5 484L212.4 483L213.2 481.9L214 480.7L214.7 479.5L215.3 478.3L215.8 477L216.3 475.7L216.7 474.4L217.2 473.1L217.6 471.8L218 470.6L218.4 469.3L218.7 468L219 466.7L219.4 465.3L219.7 464L220 462.7L220.2 461.4L220.5 459.9L220.7 458.2L221 456.1L221.2 453.6L221.4 450.9L221.5 447.9L221.7 444.7L221.9 441.3L222 437.8L222.2 434.1L222.4 430.1L222.6 425.9L222.7 421.7L222.9 417.5L223 413.4L223.2 409.5L223.3 405.6L223.5 401.7L223.6 397.9L223.7 394.2L223.9 390.6L224 387L224.2 383.3L224.4 379.8L224.6 376.5L224.7 373.6L224.9 371.1L225 369.3L225.1 367.8L225.2 366.7L225.3 365.9L225.4 365.5L225.5 365.4L225.6 365.5L225.7 365.9L225.8 366.7L225.9 367.8L226.1 369.3L226.2 371.1L226.4 373.6L226.5 376.5L226.7 379.8L226.9 383.3L227.1 387L227.2 390.6L227.4 394.2L227.5 398L227.6 401.9L227.7 405.8L227.8 409.7L227.9 413.4L228.1 417.1L228.2 420.9L228.4 424.6L228.5 428.1L228.7 431.6L228.9 434.7L229.1 437.7L229.4 440.4L229.7 443L230 445.5L230.2 447.8L230.5 449.9L230.8 451.9L231 453.7L231.2 455.3L231.5 456.8L231.8 458.4L232.1 460L232.5 461.7L232.9 463.4L233.3 465.2L233.8 466.9L234.3 468.5L234.7 470L235.1 471.3L235.5 472.5L235.9 473.7L236.4 474.8L236.8 475.8L237.4 476.9L238 478L238.6 479L239.3 480.1L240 481.1L240.8 482.1L241.7 483.1L242.6 484L243.6 485L244.7 485.9L245.8 486.8L246.9 487.7L248 488.5L249.2 489.2L250.5 489.8L251.8 490.5L253 491L254.3 491.5L255.4 491.9L256.4 492.3L257.3 492.7L258.1 492.9L258.9 493.2L259.9 493.3L260.9 493.3L262.2 493.3L263.6 493.1L265 492.8L266.5 492.5L268 492.2L269.5 491.9L270.9 491.5L272.4 491.1L273.9 490.6L275.4 490.2L276.8 489.9L278.2 489.8L279.5 489.8L280.7 489.9L281.9 490.1L283.2 490.4L284.5 490.9L285.9 491.5L287.6 492.4L289.4 493.6L291.2 494.9L293.1 496.2L294.9 497.4L296.6 498.5L298 499.4L299.2 500.2L300.4 500.9L301.6 501.6L302.9 502.2L304.4 502.8L306 503.3L307.8 503.7L309.7 504.2L311.7 504.5L313.8 504.9L316 505.3L318.4 505.6L321 506L323.8 506.3L326.5 506.6L329.1 507L331.5 507.3L333.6 507.6L335.4 507.8L337.1 508L338.8 508.3L340.8 508.6L343.2 509.1L346.1 509.7L349.3 510.5L352.8 511.4L356.4 512.3L360 513.2L363.5 514L363.5 517.8" fill="none" stroke="#000" stroke-width="1.1" stroke-linejoin="round"/>
<path d="M97.3 520.2L99.8 519.7L102.9 519.2L105.9 518.6L109 518L112.1 517.4L115.2 516.6L118.4 515.8L121.7 514.9L125 513.9L128.2 512.9L131.3 512L134.1 511L136.8 510.2L139.3 509.3L141.7 508.5L143.9 507.7L146 506.8L148 506L149.7 505.1L151.3 504.1L152.7 503.2L154 502.2L155.3 501.3L156.5 500.4L157.8 499.5L159 498.5L160.1 497.6L161.2 496.7L162.4 495.8L163.5 495.1L164.6 494.6L165.7 494.1L166.7 493.7L167.8 493.4L169 493.1L170.4 492.9L171.9 492.7L173.5 492.7L175.3 492.7L177.1 492.7L178.9 492.8L180.7 492.9L182.5 493.1L184.3 493.4L186.2 493.7L188 494L189.6 494.3L191.1 494.5L192.3 494.6L193.3 494.7L194.3 494.7L195.1 494.7L195.9 494.6L196.7 494.6L197.4 494.6L198.1 494.6L198.8 494.5L199.4 494.4L200.1 494.2L200.9 493.9L201.7 493.4L202.7 492.7L203.6 492L204.6 491.1L205.6 490.3L206.5 489.4L207.4 488.4L208.4 487.5L209.3 486.5L210.2 485.4L211 484.3L211.8 483.2L212.4 482L213 480.7L213.6 479.4L214 478.1L214.5 476.8L215 475.5L215.4 474.2L215.8 473L216.1 471.7L216.5 470.5L216.8 469.1L217.1 467.8L217.4 466.4L217.7 465.1L218 463.8L218.3 462.3L218.5 460.6L218.7 458.5L218.9 456.1L219.1 453.3L219.3 450.3L219.5 447.1L219.6 443.7L219.8 440.2L220 436.5L220.2 432.5L220.3 428.3L220.5 424.1L220.7 419.9L220.8 415.9L221 411.9L221.1 408L221.2 404.1L221.4 400.3L221.5 396.6L221.7 393L221.8 389.4L222 385.7L222.2 382.2L222.3 378.9L222.5 376L222.6 373.6L222.8 371.7L222.9 370.2L223 369.1L223.1 368.3L223.2 367.9L223.3 367.8L223.4 367.9L223.5 368.3L223.6 369.1L223.7 370.2L223.8 371.7L224 373.6L224.1 376L224.3 378.9L224.5 382.2L224.7 385.7L224.9 389.4L225 393L225.1 396.6L225.3 400.4L225.4 404.3L225.5 408.2L225.6 412.1L225.7 415.9L225.8 419.6L226 423.3L226.1 427L226.3 430.6L226.5 434L226.7 437.2L226.9 440.1L227.2 442.9L227.5 445.5L227.7 447.9L228 450.2L228.3 452.4L228.5 454.3L228.8 456.1L229 457.7L229.3 459.3L229.6 460.8L229.9 462.4L230.3 464.1L230.7 465.9L231.1 467.6L231.6 469.3L232 470.9L232.5 472.4L232.9 473.7L233.3 475L233.7 476.1L234.1 477.2L234.6 478.2L235.2 479.3L235.8 480.4L236.4 481.5L237.1 482.5L237.8 483.5L238.6 484.5L239.4 485.5L240.4 486.4L241.4 487.4L242.4 488.3L243.5 489.3L244.7 490.1L245.8 490.9L247 491.6L248.3 492.3L249.5 492.9L250.8 493.4L252 493.9L253.2 494.4L254.2 494.7L255.1 495.1L255.9 495.4L256.7 495.6L257.6 495.7L258.7 495.8L260 495.7L261.3 495.5L262.8 495.2L264.3 494.9L265.8 494.6L267.3 494.3L268.7 493.9L270.2 493.5L271.7 493.1L273.1 492.7L274.6 492.4L276 492.2L277.3 492.2L278.5 492.3L279.7 492.5L280.9 492.8L282.3 493.3L283.7 493.9L285.3 494.8L287.1 496L289 497.3L290.9 498.6L292.7 499.9L294.3 500.9L295.8 501.8L297 502.6L298.2 503.3L299.4 504L300.6 504.6L302.1 505.2L303.8 505.7L305.6 506.2L307.5 506.6L309.5 507L311.6 507.3L313.8 507.7L316.2 508L318.8 508.4L321.5 508.7L324.3 509.1L326.9 509.4L329.3 509.7L331.4 510L333.1 510.2L334.8 510.4L336.6 510.7L338.6 511L341 511.5L343.8 512.2L347.1 512.9L350.6 513.8L354.2 514.7L357.8 515.6L361.2 516.4L361.2 520.2L97.3 520.2Z" fill="#fff" stroke="none"/>
<path d="M97.3 520.2L99.8 519.7L102.9 519.2L105.9 518.6L109 518L112.1 517.4L115.2 516.6L118.4 515.8L121.7 514.9L125 513.9L128.2 512.9L131.3 512L134.1 511L136.8 510.2L139.3 509.3L141.7 508.5L143.9 507.7L146 506.8L148 506L149.7 505.1L151.3 504.1L152.7 503.2L154 502.2L155.3 501.3L156.5 500.4L157.8 499.5L159 498.5L160.1 497.6L161.2 496.7L162.4 495.8L163.5 495.1L164.6 494.6L165.7 494.1L166.7 493.7L167.8 493.4L169 493.1L170.4 492.9L171.9 492.7L173.5 492.7L175.3 492.7L177.1 492.7L178.9 492.8L180.7 492.9L182.5 493.1L184.3 493.4L186.2 493.7L188 494L189.6 494.3L191.1 494.5L192.3 494.6L193.3 494.7L194.3 494.7L195.1 494.7L195.9 494.6L196.7 494.6L197.4 494.6L198.1 494.6L198.8 494.5L199.4 494.4L200.1 494.2L200.9 493.9L201.7 493.4L202.7 492.7L203.6 492L204.6 491.1L205.6 490.3L206.5 489.4L207.4 488.4L208.4 487.5L209.3 486.5L210.2 485.4L211 484.3L211.8 483.2L212.4 482L213 480.7L213.6 479.4L214 478.1L214.5 476.8L215 475.5L215.4 474.2L215.8 473L216.1 471.7L216.5 470.5L216.8 469.1L217.1 467.8L217.4 466.4L217.7 465.1L218 463.8L218.3 462.3L218.5 460.6L218.7 458.5L218.9 456.1L219.1 453.3L219.3 450.3L219.5 447.1L219.6 443.7L219.8 440.2L220 436.5L220.2 432.5L220.3 428.3L220.5 424.1L220.7 419.9L220.8 415.9L221 411.9L221.1 408L221.2 404.1L221.4 400.3L221.5 396.6L221.7 393L221.8 389.4L222 385.7L222.2 382.2L222.3 378.9L222.5 376L222.6 373.6L222.8 371.7L222.9 370.2L223 369.1L223.1 368.3L223.2 367.9L223.3 367.8L223.4 367.9L223.5 368.3L223.6 369.1L223.7 370.2L223.8 371.7L224 373.6L224.1 376L224.3 378.9L224.5 382.2L224.7 385.7L224.9 389.4L225 393L225.1 396.6L225.3 400.4L225.4 404.3L225.5 408.2L225.6 412.1L225.7 415.9L225.8 419.6L226 423.3L226.1 427L226.3 430.6L226.5 434L226.7 437.2L226.9 440.1L227.2 442.9L227.5 445.5L227.7 447.9L228 450.2L228.3 452.4L228.5 454.3L228.8 456.1L229 457.7L229.3 459.3L229.6 460.8L229.9 462.4L230.3 464.1L230.7 465.9L231.1 467.6L231.6 469.3L232 470.9L232.5 472.4L232.9 473.7L233.3 475L233.7 476.1L234.1 477.2L234.6 478.2L235.2 479.3L235.8 480.4L236.4 481.5L237.1 482.5L237.8 483.5L238.6 484.5L239.4 485.5L240.4 486.4L241.4 487.4L242.4 488.3L243.5 489.3L244.7 490.1L245.8 490.9L247 491.6L248.3 492.3L249.5 492.9L250.8 493.4L252 493.9L253.2 494.4L254.2 494.7L255.1 495.1L255.9 495.4L256.7 495.6L257.6 495.7L258.7 495.8L260 495.7L261.3 495.5L262.8 495.2L264.3 494.9L265.8 494.6L267.3 494.3L268.7 493.9L270.2 493.5L271.7 493.1L273.1 492.7L274.6 492.4L276 492.2L277.3 492.2L278.5 492.3L279.7 492.5L280.9 492.8L282.3 493.3L283.7 493.9L285.3 494.8L287.1 496L289 497.3L290.9 498.6L292.7 499.9L294.3 500.9L295.8 501.8L297 502.6L298.2 503.3L299.4 504L300.6 504.6L302.1 505.2L303.8 505.7L305.6 506.2L307.5 506.6L309.5 507L311.6 507.3L313.8 507.7L316.2 508L318.8 508.4L321.5 508.7L324.3 509.1L326.9 509.4L329.3 509.7L331.4 510L333.1 510.2L334.8 510.4L336.6 510.7L338.6 511L341 511.5L343.8 512.2L347.1 512.9L350.6 513.8L354.2 514.7L357.8 515.6L361.2 516.4L361.2 520.2" fill="none" stroke="#000" stroke-width="1.1" stroke-linejoin="round"/>
<path d="M95 522.6L97.6 522.2L100.7 521.6L103.7 521L106.8 520.4L109.9 519.8L113 519L116.2 518.2L119.4 517.3L122.7 516.3L126 515.3L129.1 514.4L131.9 513.4L134.6 512.6L137.1 511.7L139.5 510.9L141.7 510.1L143.8 509.3L145.8 508.4L147.5 507.5L149.1 506.6L150.5 505.6L151.8 504.7L153 503.7L154.3 502.8L155.6 501.9L156.7 500.9L157.9 500L159 499.1L160.1 498.3L161.3 497.6L162.4 497L163.4 496.5L164.5 496.1L165.6 495.8L166.8 495.5L168.1 495.3L169.7 495.2L171.3 495.1L173.1 495.1L174.9 495.1L176.7 495.2L178.4 495.3L180.2 495.5L182.1 495.8L183.9 496.1L185.7 496.4L187.4 496.7L188.8 496.9L190.1 497L191.1 497.1L192 497.1L192.9 497.1L193.7 497.1L194.5 497L195.2 497L195.9 497L196.6 496.9L197.2 496.8L197.9 496.6L198.6 496.3L199.5 495.8L200.4 495.1L201.4 494.4L202.4 493.5L203.3 492.7L204.3 491.8L205.2 490.9L206.1 489.9L207.1 488.9L208 487.8L208.8 486.7L209.5 485.6L210.2 484.4L210.8 483.1L211.3 481.8L211.8 480.5L212.3 479.2L212.7 477.9L213.2 476.6L213.6 475.4L213.9 474.1L214.3 472.9L214.6 471.6L214.9 470.2L215.2 468.8L215.5 467.5L215.8 466.2L216 464.7L216.3 463L216.5 460.9L216.7 458.5L216.9 455.7L217.1 452.7L217.3 449.5L217.4 446.1L217.6 442.6L217.8 438.9L217.9 434.9L218.1 430.7L218.3 426.5L218.4 422.3L218.6 418.3L218.7 414.3L218.9 410.4L219 406.5L219.2 402.7L219.3 399L219.4 395.4L219.6 391.8L219.8 388.2L219.9 384.6L220.1 381.3L220.3 378.4L220.4 376L220.5 374.1L220.6 372.6L220.7 371.5L220.8 370.8L220.9 370.3L221 370.2L221.1 370.3L221.3 370.8L221.4 371.5L221.5 372.6L221.6 374.1L221.7 376L221.9 378.4L222.1 381.3L222.3 384.6L222.5 388.2L222.6 391.8L222.8 395.4L222.9 399L223 402.8L223.1 406.7L223.2 410.6L223.3 414.5L223.5 418.3L223.6 422L223.8 425.7L223.9 429.4L224.1 433L224.3 436.4L224.5 439.6L224.7 442.5L225 445.3L225.2 447.9L225.5 450.3L225.8 452.6L226.1 454.8L226.3 456.8L226.6 458.5L226.8 460.1L227 461.7L227.3 463.2L227.7 464.8L228 466.5L228.4 468.3L228.9 470L229.3 471.7L229.8 473.3L230.3 474.8L230.7 476.1L231.1 477.4L231.5 478.5L231.9 479.6L232.4 480.7L232.9 481.7L233.5 482.8L234.2 483.9L234.8 484.9L235.6 485.9L236.4 486.9L237.2 487.9L238.1 488.9L239.1 489.8L240.2 490.8L241.3 491.7L242.4 492.5L243.6 493.3L244.8 494L246 494.7L247.3 495.3L248.6 495.8L249.8 496.3L251 496.8L252 497.2L252.8 497.5L253.7 497.8L254.5 498L255.4 498.1L256.5 498.2L257.7 498.1L259.1 497.9L260.6 497.7L262.1 497.3L263.6 497L265 496.7L266.5 496.4L268 495.9L269.5 495.5L270.9 495.1L272.4 494.8L273.8 494.6L275.1 494.6L276.3 494.7L277.5 494.9L278.7 495.2L280 495.7L281.5 496.3L283.1 497.2L284.9 498.4L286.8 499.7L288.7 501L290.5 502.3L292.1 503.3L293.5 504.2L294.8 505L296 505.8L297.1 506.4L298.4 507L299.9 507.6L301.6 508.1L303.4 508.6L305.3 509L307.3 509.4L309.4 509.7L311.6 510.1L314 510.5L316.6 510.8L319.3 511.1L322 511.5L324.7 511.8L327.1 512.1L329.1 512.4L330.9 512.6L332.6 512.8L334.3 513.1L336.3 513.5L338.7 513.9L341.6 514.6L344.8 515.3L348.3 516.2L351.9 517.1L355.5 518L359 518.9L359 522.6L95 522.6Z" fill="#fff" stroke="none"/>
<path d="M95 522.6L97.6 522.2L100.7 521.6L103.7 521L106.8 520.4L109.9 519.8L113 519L116.2 518.2L119.4 517.3L122.7 516.3L126 515.3L129.1 514.4L131.9 513.4L134.6 512.6L137.1 511.7L139.5 510.9L141.7 510.1L143.8 509.3L145.8 508.4L147.5 507.5L149.1 506.6L150.5 505.6L151.8 504.7L153 503.7L154.3 502.8L155.6 501.9L156.7 500.9L157.9 500L159 499.1L160.1 498.3L161.3 497.6L162.4 497L163.4 496.5L164.5 496.1L165.6 495.8L166.8 495.5L168.1 495.3L169.7 495.2L171.3 495.1L173.1 495.1L174.9 495.1L176.7 495.2L178.4 495.3L180.2 495.5L182.1 495.8L183.9 496.1L185.7 496.4L187.4 496.7L188.8 496.9L190.1 497L191.1 497.1L192 497.1L192.9 497.1L193.7 497.1L194.5 497L195.2 497L195.9 497L196.6 496.9L197.2 496.8L197.9 496.6L198.6 496.3L199.5 495.8L200.4 495.1L201.4 494.4L202.4 493.5L203.3 492.7L204.3 491.8L205.2 490.9L206.1 489.9L207.1 488.9L208 487.8L208.8 486.7L209.5 485.6L210.2 484.4L210.8 483.1L211.3 481.8L211.8 480.5L212.3 479.2L212.7 477.9L213.2 476.6L213.6 475.4L213.9 474.1L214.3 472.9L214.6 471.6L214.9 470.2L215.2 468.8L215.5 467.5L215.8 466.2L216 464.7L216.3 463L216.5 460.9L216.7 458.5L216.9 455.7L217.1 452.7L217.3 449.5L217.4 446.1L217.6 442.6L217.8 438.9L217.9 434.9L218.1 430.7L218.3 426.5L218.4 422.3L218.6 418.3L218.7 414.3L218.9 410.4L219 406.5L219.2 402.7L219.3 399L219.4 395.4L219.6 391.8L219.8 388.2L219.9 384.6L220.1 381.3L220.3 378.4L220.4 376L220.5 374.1L220.6 372.6L220.7 371.5L220.8 370.8L220.9 370.3L221 370.2L221.1 370.3L221.3 370.8L221.4 371.5L221.5 372.6L221.6 374.1L221.7 376L221.9 378.4L222.1 381.3L222.3 384.6L222.5 388.2L222.6 391.8L222.8 395.4L222.9 399L223 402.8L223.1 406.7L223.2 410.6L223.3 414.5L223.5 418.3L223.6 422L223.8 425.7L223.9 429.4L224.1 433L224.3 436.4L224.5 439.6L224.7 442.5L225 445.3L225.2 447.9L225.5 450.3L225.8 452.6L226.1 454.8L226.3 456.8L226.6 458.5L226.8 460.1L227 461.7L227.3 463.2L227.7 464.8L228 466.5L228.4 468.3L228.9 470L229.3 471.7L229.8 473.3L230.3 474.8L230.7 476.1L231.1 477.4L231.5 478.5L231.9 479.6L232.4 480.7L232.9 481.7L233.5 482.8L234.2 483.9L234.8 484.9L235.6 485.9L236.4 486.9L237.2 487.9L238.1 488.9L239.1 489.8L240.2 490.8L241.3 491.7L242.4 492.5L243.6 493.3L244.8 494L246 494.7L247.3 495.3L248.6 495.8L249.8 496.3L251 496.8L252 497.2L252.8 497.5L253.7 497.8L254.5 498L255.4 498.1L256.5 498.2L257.7 498.1L259.1 497.9L260.6 497.7L262.1 497.3L263.6 497L265 496.7L266.5 496.4L268 495.9L269.5 495.5L270.9 495.1L272.4 494.8L273.8 494.6L275.1 494.6L276.3 494.7L277.5 494.9L278.7 495.2L280 495.7L281.5 496.3L283.1 497.2L284.9 498.4L286.8 499.7L288.7 501L290.5 502.3L292.1 503.3L293.5 504.2L294.8 505L296 505.8L297.1 506.4L298.4 507L299.9 507.6L301.6 508.1L303.4 508.6L305.3 509L307.3 509.4L309.4 509.7L311.6 510.1L314 510.5L316.6 510.8L319.3 511.1L322 511.5L324.7 511.8L327.1 512.1L329.1 512.4L330.9 512.6L332.6 512.8L334.3 513.1L336.3 513.5L338.7 513.9L341.6 514.6L344.8 515.3L348.3 516.2L351.9 517.1L355.5 518L359 518.9L359 522.6" fill="none" stroke="#000" stroke-width="1.1" stroke-linejoin="round"/>
<path d="M92.6 525.1L95.4 524.6L98.4 524L101.5 523.4L104.6 522.8L107.6 522.2L110.8 521.5L113.9 520.6L117.2 519.7L120.5 518.7L123.7 517.8L126.8 516.8L129.7 515.9L132.4 515L134.9 514.2L137.3 513.3L139.5 512.5L141.6 511.7L143.5 510.8L145.3 509.9L146.8 509L148.2 508L149.5 507.1L150.8 506.1L152.1 505.2L153.3 504.3L154.5 503.3L155.7 502.4L156.8 501.5L157.9 500.7L159 500L160.1 499.4L161.2 498.9L162.3 498.5L163.4 498.2L164.6 497.9L165.9 497.7L167.4 497.6L169.1 497.5L170.8 497.5L172.7 497.5L174.5 497.6L176.2 497.7L178 497.9L179.9 498.2L181.7 498.5L183.5 498.8L185.2 499.1L186.6 499.3L187.8 499.4L188.9 499.5L189.8 499.5L190.6 499.5L191.4 499.5L192.2 499.4L193 499.4L193.7 499.4L194.3 499.4L195 499.3L195.7 499.1L196.4 498.7L197.3 498.2L198.2 497.5L199.2 496.8L200.1 496L201.1 495.1L202 494.2L203 493.3L203.9 492.3L204.8 491.3L205.7 490.2L206.6 489.1L207.3 488L208 486.8L208.6 485.5L209.1 484.3L209.6 482.9L210.1 481.6L210.5 480.3L210.9 479.1L211.3 477.8L211.7 476.6L212 475.3L212.4 474L212.7 472.6L213 471.2L213.3 470L213.6 468.6L213.8 467.2L214.1 465.4L214.3 463.3L214.5 460.9L214.7 458.1L214.9 455.1L215 451.9L215.2 448.5L215.4 445L215.5 441.3L215.7 437.3L215.9 433.1L216.1 428.9L216.2 424.7L216.4 420.7L216.5 416.8L216.7 412.8L216.8 408.9L216.9 405.1L217.1 401.4L217.2 397.8L217.4 394.2L217.5 390.6L217.7 387L217.9 383.7L218 380.8L218.2 378.4L218.3 376.5L218.4 375L218.5 373.9L218.6 373.2L218.7 372.8L218.8 372.6L218.9 372.8L219 373.2L219.1 373.9L219.3 375L219.4 376.5L219.5 378.4L219.7 380.8L219.9 383.7L220 387L220.2 390.6L220.4 394.2L220.6 397.8L220.7 401.4L220.8 405.2L220.9 409.1L221 413.1L221.1 416.9L221.2 420.7L221.4 424.4L221.5 428.1L221.7 431.8L221.9 435.4L222 438.8L222.2 442L222.5 444.9L222.7 447.7L223 450.3L223.3 452.7L223.6 455L223.8 457.2L224.1 459.2L224.3 460.9L224.6 462.5L224.8 464.1L225.1 465.6L225.4 467.2L225.8 468.9L226.2 470.7L226.7 472.4L227.1 474.1L227.6 475.7L228 477.2L228.5 478.6L228.9 479.8L229.3 480.9L229.7 482L230.2 483.1L230.7 484.2L231.3 485.2L231.9 486.3L232.6 487.3L233.3 488.3L234.1 489.3L235 490.3L235.9 491.3L236.9 492.2L238 493.2L239.1 494.1L240.2 494.9L241.4 495.7L242.5 496.4L243.8 497.1L245.1 497.7L246.4 498.3L247.6 498.8L248.7 499.2L249.7 499.6L250.6 499.9L251.4 500.2L252.3 500.4L253.2 500.5L254.3 500.6L255.5 500.5L256.9 500.3L258.3 500.1L259.8 499.8L261.3 499.4L262.8 499.1L264.3 498.8L265.7 498.3L267.2 497.9L268.7 497.5L270.1 497.2L271.5 497.1L272.8 497.1L274.1 497.2L275.3 497.3L276.5 497.7L277.8 498.1L279.2 498.8L280.9 499.7L282.7 500.8L284.6 502.1L286.4 503.4L288.2 504.7L289.9 505.8L291.3 506.7L292.6 507.4L293.7 508.2L294.9 508.8L296.2 509.4L297.7 510L299.4 510.5L301.1 511L303 511.4L305 511.8L307.1 512.1L309.3 512.5L311.7 512.9L314.4 513.2L317.1 513.6L319.8 513.9L322.4 514.2L324.8 514.5L326.9 514.8L328.7 515L330.4 515.3L332.1 515.5L334.1 515.9L336.5 516.3L339.4 517L342.6 517.8L346.1 518.6L349.7 519.5L353.3 520.4L356.8 521.3L356.8 525.1L92.6 525.1Z" fill="#fff" stroke="none"/>
<path d="M92.6 525.1L95.4 524.6L98.4 524L101.5 523.4L104.6 522.8L107.6 522.2L110.8 521.5L113.9 520.6L117.2 519.7L120.5 518.7L123.7 517.8L126.8 516.8L129.7 515.9L132.4 515L134.9 514.2L137.3 513.3L139.5 512.5L141.6 511.7L143.5 510.8L145.3 509.9L146.8 509L148.2 508L149.5 507.1L150.8 506.1L152.1 505.2L153.3 504.3L154.5 503.3L155.7 502.4L156.8 501.5L157.9 500.7L159 500L160.1 499.4L161.2 498.9L162.3 498.5L163.4 498.2L164.6 497.9L165.9 497.7L167.4 497.6L169.1 497.5L170.8 497.5L172.7 497.5L174.5 497.6L176.2 497.7L178 497.9L179.9 498.2L181.7 498.5L183.5 498.8L185.2 499.1L186.6 499.3L187.8 499.4L188.9 499.5L189.8 499.5L190.6 499.5L191.4 499.5L192.2 499.4L193 499.4L193.7 499.4L194.3 499.4L195 499.3L195.7 499.1L196.4 498.7L197.3 498.2L198.2 497.5L199.2 496.8L200.1 496L201.1 495.1L202 494.2L203 493.3L203.9 492.3L204.8 491.3L205.7 490.2L206.6 489.1L207.3 488L208 486.8L208.6 485.5L209.1 484.3L209.6 482.9L210.1 481.6L210.5 480.3L210.9 479.1L211.3 477.8L211.7 476.6L212 475.3L212.4 474L212.7 472.6L213 471.2L213.3 470L213.6 468.6L213.8 467.2L214.1 465.4L214.3 463.3L214.5 460.9L214.7 458.1L214.9 455.1L215 451.9L215.2 448.5L215.4 445L215.5 441.3L215.7 437.3L215.9 433.1L216.1 428.9L216.2 424.7L216.4 420.7L216.5 416.8L216.7 412.8L216.8 408.9L216.9 405.1L217.1 401.4L217.2 397.8L217.4 394.2L217.5 390.6L217.7 387L217.9 383.7L218 380.8L218.2 378.4L218.3 376.5L218.4 375L218.5 373.9L218.6 373.2L218.7 372.8L218.8 372.6L218.9 372.8L219 373.2L219.1 373.9L219.3 375L219.4 376.5L219.5 378.4L219.7 380.8L219.9 383.7L220 387L220.2 390.6L220.4 394.2L220.6 397.8L220.7 401.4L220.8 405.2L220.9 409.1L221 413.1L221.1 416.9L221.2 420.7L221.4 424.4L221.5 428.1L221.7 431.8L221.9 435.4L222 438.8L222.2 442L222.5 444.9L222.7 447.7L223 450.3L223.3 452.7L223.6 455L223.8 457.2L224.1 459.2L224.3 460.9L224.6 462.5L224.8 464.1L225.1 465.6L225.4 467.2L225.8 468.9L226.2 470.7L226.7 472.4L227.1 474.1L227.6 475.7L228 477.2L228.5 478.6L228.9 479.8L229.3 480.9L229.7 482L230.2 483.1L230.7 484.2L231.3 485.2L231.9 486.3L232.6 487.3L233.3 488.3L234.1 489.3L235 490.3L235.9 491.3L236.9 492.2L238 493.2L239.1 494.1L240.2 494.9L241.4 495.7L242.5 496.4L243.8 497.1L245.1 497.7L246.4 498.3L247.6 498.8L248.7 499.2L249.7 499.6L250.6 499.9L251.4 500.2L252.3 500.4L253.2 500.5L254.3 500.6L255.5 500.5L256.9 500.3L258.3 500.1L259.8 499.8L261.3 499.4L262.8 499.1L264.3 498.8L265.7 498.3L267.2 497.9L268.7 497.5L270.1 497.2L271.5 497.1L272.8 497.1L274.1 497.2L275.3 497.3L276.5 497.7L277.8 498.1L279.2 498.8L280.9 499.7L282.7 500.8L284.6 502.1L286.4 503.4L288.2 504.7L289.9 505.8L291.3 506.7L292.6 507.4L293.7 508.2L294.9 508.8L296.2 509.4L297.7 510L299.4 510.5L301.1 511L303 511.4L305 511.8L307.1 512.1L309.3 512.5L311.7 512.9L314.4 513.2L317.1 513.6L319.8 513.9L322.4 514.2L324.8 514.5L326.9 514.8L328.7 515L330.4 515.3L332.1 515.5L334.1 515.9L336.5 516.3L339.4 517L342.6 517.8L346.1 518.6L349.7 519.5L353.3 520.4L356.8 521.3L356.8 525.1" fill="none" stroke="#000" stroke-width="1.1" stroke-linejoin="round"/>
<path d="M90.3 527.5L93.2 527L96.2 526.4L99.3 525.9L102.3 525.3L105.4 524.6L108.5 523.9L111.7 523L115 522.1L118.3 521.2L121.5 520.2L124.6 519.2L127.5 518.3L130.1 517.4L132.7 516.6L135 515.8L137.3 514.9L139.4 514.1L141.3 513.2L143.1 512.3L144.6 511.4L146 510.4L147.3 509.5L148.6 508.5L149.9 507.6L151.1 506.7L152.3 505.7L153.4 504.8L154.6 503.9L155.7 503.1L156.8 502.4L157.9 501.8L159 501.3L160 500.9L161.1 500.6L162.3 500.4L163.7 500.1L165.2 500L166.9 499.9L168.6 499.9L170.4 499.9L172.2 500L174 500.1L175.8 500.3L177.6 500.6L179.5 500.9L181.3 501.3L182.9 501.5L184.4 501.7L185.6 501.8L186.7 501.9L187.6 501.9L188.4 501.9L189.2 501.9L190 501.8L190.8 501.8L191.5 501.8L192.1 501.8L192.7 501.7L193.4 501.5L194.2 501.1L195.1 500.6L196 500L196.9 499.2L197.9 498.4L198.9 497.5L199.8 496.6L200.7 495.7L201.7 494.7L202.6 493.7L203.5 492.6L204.3 491.5L205.1 490.4L205.8 489.2L206.4 488L206.9 486.7L207.4 485.4L207.8 484L208.3 482.7L208.7 481.5L209.1 480.2L209.5 479L209.8 477.7L210.1 476.4L210.5 475L210.8 473.7L211.1 472.4L211.3 471.1L211.6 469.6L211.8 467.8L212.1 465.8L212.3 463.3L212.5 460.6L212.6 457.5L212.8 454.3L213 451L213.1 447.4L213.3 443.7L213.5 439.7L213.7 435.6L213.8 431.3L214 427.1L214.2 423.1L214.3 419.2L214.4 415.2L214.6 411.4L214.7 407.5L214.8 403.8L215 400.2L215.1 396.6L215.3 393L215.5 389.5L215.7 386.1L215.8 383.2L216 380.8L216.1 378.9L216.2 377.4L216.3 376.3L216.4 375.6L216.5 375.2L216.6 375L216.7 375.2L216.8 375.6L216.9 376.3L217 377.4L217.2 378.9L217.3 380.8L217.5 383.2L217.6 386.1L217.8 389.5L218 393L218.2 396.6L218.3 400.2L218.5 403.9L218.6 407.7L218.7 411.5L218.8 415.5L218.9 419.3L219 423.1L219.2 426.8L219.3 430.5L219.5 434.2L219.6 437.8L219.8 441.2L220 444.4L220.3 447.4L220.5 450.1L220.8 452.7L221.1 455.2L221.3 457.5L221.6 459.6L221.9 461.6L222.1 463.4L222.3 465L222.6 466.5L222.9 468L223.2 469.7L223.6 471.4L224 473.1L224.4 474.8L224.9 476.5L225.4 478.2L225.8 479.6L226.2 481L226.6 482.2L227 483.3L227.5 484.4L227.9 485.5L228.5 486.6L229.1 487.7L229.7 488.7L230.4 489.7L231.1 490.8L231.9 491.7L232.8 492.7L233.7 493.7L234.7 494.7L235.8 495.6L236.9 496.5L238 497.4L239.1 498.1L240.3 498.9L241.6 499.5L242.9 500.1L244.1 500.7L245.4 501.2L246.5 501.6L247.5 502L248.4 502.3L249.2 502.6L250 502.8L251 503L252 503L253.3 502.9L254.7 502.8L256.1 502.5L257.6 502.2L259.1 501.9L260.6 501.5L262 501.2L263.5 500.8L265 500.3L266.5 499.9L267.9 499.6L269.3 499.5L270.6 499.5L271.8 499.6L273 499.8L274.3 500.1L275.6 500.5L277 501.2L278.7 502.1L280.5 503.2L282.3 504.5L284.2 505.9L286 507.1L287.7 508.2L289.1 509.1L290.3 509.9L291.5 510.6L292.7 511.3L294 511.9L295.5 512.4L297.1 513L298.9 513.4L300.8 513.8L302.8 514.2L304.9 514.6L307.1 514.9L309.5 515.3L312.1 515.6L314.9 516L317.6 516.3L320.2 516.6L322.6 516.9L324.7 517.2L326.5 517.4L328.2 517.7L329.9 517.9L331.9 518.3L334.3 518.8L337.2 519.4L340.4 520.2L343.9 521L347.5 521.9L351.1 522.8L354.6 523.7L354.6 527.5L90.3 527.5Z" fill="#fff" stroke="none"/>
<path d="M90.3 527.5L93.2 527L96.2 526.4L99.3 525.9L102.3 525.3L105.4 524.6L108.5 523.9L111.7 523L115 522.1L118.3 521.2L121.5 520.2L124.6 519.2L127.5 518.3L130.1 517.4L132.7 516.6L135 515.8L137.3 514.9L139.4 514.1L141.3 513.2L143.1 512.3L144.6 511.4L146 510.4L147.3 509.5L148.6 508.5L149.9 507.6L151.1 506.7L152.3 505.7L153.4 504.8L154.6 503.9L155.7 503.1L156.8 502.4L157.9 501.8L159 501.3L160 500.9L161.1 500.6L162.3 500.4L163.7 500.1L165.2 500L166.9 499.9L168.6 499.9L170.4 499.9L172.2 500L174 500.1L175.8 500.3L177.6 500.6L179.5 500.9L181.3 501.3L182.9 501.5L184.4 501.7L185.6 501.8L186.7 501.9L187.6 501.9L188.4 501.9L189.2 501.9L190 501.8L190.8 501.8L191.5 501.8L192.1 501.8L192.7 501.7L193.4 501.5L194.2 501.1L195.1 500.6L196 500L196.9 499.2L197.9 498.4L198.9 497.5L199.8 496.6L200.7 495.7L201.7 494.7L202.6 493.7L203.5 492.6L204.3 491.5L205.1 490.4L205.8 489.2L206.4 488L206.9 486.7L207.4 485.4L207.8 484L208.3 482.7L208.7 481.5L209.1 480.2L209.5 479L209.8 477.7L210.1 476.4L210.5 475L210.8 473.7L211.1 472.4L211.3 471.1L211.6 469.6L211.8 467.8L212.1 465.8L212.3 463.3L212.5 460.6L212.6 457.5L212.8 454.3L213 451L213.1 447.4L213.3 443.7L213.5 439.7L213.7 435.6L213.8 431.3L214 427.1L214.2 423.1L214.3 419.2L214.4 415.2L214.6 411.4L214.7 407.5L214.8 403.8L215 400.2L215.1 396.6L215.3 393L215.5 389.5L215.7 386.1L215.8 383.2L216 380.8L216.1 378.9L216.2 377.4L216.3 376.3L216.4 375.6L216.5 375.2L216.6 375L216.7 375.2L216.8 375.6L216.9 376.3L217 377.4L217.2 378.9L217.3 380.8L217.5 383.2L217.6 386.1L217.8 389.5L218 393L218.2 396.6L218.3 400.2L218.5 403.9L218.6 407.7L218.7 411.5L218.8 415.5L218.9 419.3L219 423.1L219.2 426.8L219.3 430.5L219.5 434.2L219.6 437.8L219.8 441.2L220 444.4L220.3 447.4L220.5 450.1L220.8 452.7L221.1 455.2L221.3 457.5L221.6 459.6L221.9 461.6L222.1 463.4L222.3 465L222.6 466.5L222.9 468L223.2 469.7L223.6 471.4L224 473.1L224.4 474.8L224.9 476.5L225.4 478.2L225.8 479.6L226.2 481L226.6 482.2L227 483.3L227.5 484.4L227.9 485.5L228.5 486.6L229.1 487.7L229.7 488.7L230.4 489.7L231.1 490.8L231.9 491.7L232.8 492.7L233.7 493.7L234.7 494.7L235.8 495.6L236.9 496.5L238 497.4L239.1 498.1L240.3 498.9L241.6 499.5L242.9 500.1L244.1 500.7L245.4 501.2L246.5 501.6L247.5 502L248.4 502.3L249.2 502.6L250 502.8L251 503L252 503L253.3 502.9L254.7 502.8L256.1 502.5L257.6 502.2L259.1 501.9L260.6 501.5L262 501.2L263.5 500.8L265 500.3L266.5 499.9L267.9 499.6L269.3 499.5L270.6 499.5L271.8 499.6L273 499.8L274.3 500.1L275.6 500.5L277 501.2L278.7 502.1L280.5 503.2L282.3 504.5L284.2 505.9L286 507.1L287.7 508.2L289.1 509.1L290.3 509.9L291.5 510.6L292.7 511.3L294 511.9L295.5 512.4L297.1 513L298.9 513.4L300.8 513.8L302.8 514.2L304.9 514.6L307.1 514.9L309.5 515.3L312.1 515.6L314.9 516L317.6 516.3L320.2 516.6L322.6 516.9L324.7 517.2L326.5 517.4L328.2 517.7L329.9 517.9L331.9 518.3L334.3 518.8L337.2 519.4L340.4 520.2L343.9 521L347.5 521.9L351.1 522.8L354.6 523.7L354.6 527.5" fill="none" stroke="#000" stroke-width="1.1" stroke-linejoin="round"/>
<path d="M87.9 529.9L90.9 529.4L94 528.8L97.1 528.3L100.1 527.7L103.2 527L106.3 526.3L109.5 525.5L112.8 524.5L116.1 523.6L119.3 522.6L122.4 521.6L125.2 520.7L127.9 519.8L130.4 519L132.8 518.2L135 517.4L137.1 516.5L139.1 515.6L140.8 514.7L142.4 513.8L143.8 512.9L145.1 511.9L146.4 511L147.6 510L148.9 509.1L150.1 508.2L151.2 507.2L152.3 506.3L153.5 505.5L154.6 504.8L155.7 504.2L156.8 503.8L157.8 503.4L158.9 503L160.1 502.8L161.5 502.6L163 502.4L164.6 502.3L166.4 502.3L168.2 502.4L170 502.4L171.8 502.6L173.6 502.8L175.4 503L177.3 503.3L179.1 503.7L180.7 503.9L182.2 504.1L183.4 504.3L184.4 504.3L185.4 504.4L186.2 504.3L187 504.3L187.8 504.3L188.5 504.2L189.2 504.2L189.9 504.2L190.5 504.1L191.2 503.9L192 503.5L192.8 503L193.8 502.4L194.7 501.6L195.7 500.8L196.7 499.9L197.6 499L198.5 498.1L199.5 497.1L200.4 496.1L201.3 495.1L202.1 494L202.9 492.8L203.5 491.6L204.1 490.4L204.7 489.1L205.1 487.8L205.6 486.5L206.1 485.2L206.5 483.9L206.9 482.6L207.2 481.4L207.6 480.1L207.9 478.8L208.2 477.4L208.5 476.1L208.8 474.8L209.1 473.5L209.4 472L209.6 470.3L209.8 468.2L210 465.7L210.2 463L210.4 460L210.6 456.8L210.7 453.4L210.9 449.9L211.1 446.1L211.3 442.1L211.4 438L211.6 433.8L211.8 429.6L211.9 425.5L212.1 421.6L212.2 417.7L212.3 413.8L212.5 410L212.6 406.2L212.8 402.6L212.9 399L213.1 395.4L213.3 391.9L213.4 388.6L213.6 385.6L213.7 383.2L213.9 381.3L214 379.9L214.1 378.8L214.2 378L214.3 377.6L214.4 377.5L214.5 377.6L214.6 378L214.7 378.8L214.8 379.9L214.9 381.3L215.1 383.2L215.2 385.6L215.4 388.6L215.6 391.9L215.8 395.4L216 399L216.1 402.6L216.2 406.3L216.4 410.1L216.5 414L216.6 417.9L216.7 421.8L216.8 425.5L216.9 429.2L217.1 433L217.2 436.7L217.4 440.2L217.6 443.6L217.8 446.8L218 449.8L218.3 452.5L218.6 455.1L218.8 457.6L219.1 459.9L219.4 462L219.6 464L219.9 465.8L220.1 467.4L220.4 468.9L220.7 470.5L221 472.1L221.4 473.8L221.8 475.5L222.2 477.3L222.7 479L223.1 480.6L223.6 482.1L224 483.4L224.4 484.6L224.8 485.8L225.2 486.9L225.7 487.9L226.3 489L226.9 490.1L227.5 491.1L228.2 492.2L228.9 493.2L229.7 494.2L230.5 495.1L231.5 496.1L232.5 497.1L233.5 498L234.6 498.9L235.8 499.8L236.9 500.6L238.1 501.3L239.4 501.9L240.6 502.5L241.9 503.1L243.1 503.6L244.3 504L245.3 504.4L246.2 504.7L247 505L247.8 505.2L248.7 505.4L249.8 505.4L251.1 505.4L252.4 505.2L253.9 504.9L255.4 504.6L256.9 504.3L258.4 504L259.8 503.6L261.3 503.2L262.8 502.7L264.2 502.3L265.7 502L267.1 501.9L268.4 501.9L269.6 502L270.8 502.2L272 502.5L273.4 503L274.8 503.6L276.4 504.5L278.2 505.6L280.1 506.9L282 508.3L283.8 509.5L285.4 510.6L286.9 511.5L288.1 512.3L289.3 513L290.5 513.7L291.7 514.3L293.2 514.9L294.9 515.4L296.7 515.8L298.6 516.2L300.6 516.6L302.7 517L304.9 517.4L307.3 517.7L309.9 518.1L312.6 518.4L315.4 518.7L318 519L320.4 519.4L322.5 519.6L324.2 519.9L325.9 520.1L327.7 520.4L329.7 520.7L332.1 521.2L334.9 521.8L338.2 522.6L341.7 523.5L345.3 524.4L348.9 525.3L352.3 526.1L352.3 529.9L87.9 529.9Z" fill="#fff" stroke="none"/>
<path d="M87.9 529.9L90.9 529.4L94 528.8L97.1 528.3L100.1 527.7L103.2 527L106.3 526.3L109.5 525.5L112.8 524.5L116.1 523.6L119.3 522.6L122.4 521.6L125.2 520.7L127.9 519.8L130.4 519L132.8 518.2L135 517.4L137.1 516.5L139.1 515.6L140.8 514.7L142.4 513.8L143.8 512.9L145.1 511.9L146.4 511L147.6 510L148.9 509.1L150.1 508.2L151.2 507.2L152.3 506.3L153.5 505.5L154.6 504.8L155.7 504.2L156.8 503.8L157.8 503.4L158.9 503L160.1 502.8L161.5 502.6L163 502.4L164.6 502.3L166.4 502.3L168.2 502.4L170 502.4L171.8 502.6L173.6 502.8L175.4 503L177.3 503.3L179.1 503.7L180.7 503.9L182.2 504.1L183.4 504.3L184.4 504.3L185.4 504.4L186.2 504.3L187 504.3L187.8 504.3L188.5 504.2L189.2 504.2L189.9 504.2L190.5 504.1L191.2 503.9L192 503.5L192.8 503L193.8 502.4L194.7 501.6L195.7 500.8L196.7 499.9L197.6 499L198.5 498.1L199.5 497.1L200.4 496.1L201.3 495.1L202.1 494L202.9 492.8L203.5 491.6L204.1 490.4L204.7 489.1L205.1 487.8L205.6 486.5L206.1 485.2L206.5 483.9L206.9 482.6L207.2 481.4L207.6 480.1L207.9 478.8L208.2 477.4L208.5 476.1L208.8 474.8L209.1 473.5L209.4 472L209.6 470.3L209.8 468.2L210 465.7L210.2 463L210.4 460L210.6 456.8L210.7 453.4L210.9 449.9L211.1 446.1L211.3 442.1L211.4 438L211.6 433.8L211.8 429.6L211.9 425.5L212.1 421.6L212.2 417.7L212.3 413.8L212.5 410L212.6 406.2L212.8 402.6L212.9 399L213.1 395.4L213.3 391.9L213.4 388.6L213.6 385.6L213.7 383.2L213.9 381.3L214 379.9L214.1 378.8L214.2 378L214.3 377.6L214.4 377.5L214.5 377.6L214.6 378L214.7 378.8L214.8 379.9L214.9 381.3L215.1 383.2L215.2 385.6L215.4 388.6L215.6 391.9L215.8 395.4L216 399L216.1 402.6L216.2 406.3L216.4 410.1L216.5 414L216.6 417.9L216.7 421.8L216.8 425.5L216.9 429.2L217.1 433L217.2 436.7L217.4 440.2L217.6 443.6L217.8 446.8L218 449.8L218.3 452.5L218.6 455.1L218.8 457.6L219.1 459.9L219.4 462L219.6 464L219.9 465.8L220.1 467.4L220.4 468.9L220.7 470.5L221 472.1L221.4 473.8L221.8 475.5L222.2 477.3L222.7 479L223.1 480.6L223.6 482.1L224 483.4L224.4 484.6L224.8 485.8L225.2 486.9L225.7 487.9L226.3 489L226.9 490.1L227.5 491.1L228.2 492.2L228.9 493.2L229.7 494.2L230.5 495.1L231.5 496.1L232.5 497.1L233.5 498L234.6 498.9L235.8 499.8L236.9 500.6L238.1 501.3L239.4 501.9L240.6 502.5L241.9 503.1L243.1 503.6L244.3 504L245.3 504.4L246.2 504.7L247 505L247.8 505.2L248.7 505.4L249.8 505.4L251.1 505.4L252.4 505.2L253.9 504.9L255.4 504.6L256.9 504.3L258.4 504L259.8 503.6L261.3 503.2L262.8 502.7L264.2 502.3L265.7 502L267.1 501.9L268.4 501.9L269.6 502L270.8 502.2L272 502.5L273.4 503L274.8 503.6L276.4 504.5L278.2 505.6L280.1 506.9L282 508.3L283.8 509.5L285.4 510.6L286.9 511.5L288.1 512.3L289.3 513L290.5 513.7L291.7 514.3L293.2 514.9L294.9 515.4L296.7 515.8L298.6 516.2L300.6 516.6L302.7 517L304.9 517.4L307.3 517.7L309.9 518.1L312.6 518.4L315.4 518.7L318 519L320.4 519.4L322.5 519.6L324.2 519.9L325.9 520.1L327.7 520.4L329.7 520.7L332.1 521.2L334.9 521.8L338.2 522.6L341.7 523.5L345.3 524.4L348.9 525.3L352.3 526.1L352.3 529.9" fill="none" stroke="#000" stroke-width="1.1" stroke-linejoin="round"/>
<path d="M85.6 532.3L88.7 531.8L91.8 531.3L94.8 530.7L97.9 530.1L101 529.4L104.1 528.7L107.3 527.9L110.5 527L113.8 526L117.1 525L120.2 524L123 523.1L125.7 522.2L128.2 521.4L130.6 520.6L132.8 519.8L134.9 518.9L136.9 518.1L138.6 517.2L140.2 516.2L141.6 515.3L142.9 514.3L144.1 513.4L145.4 512.5L146.7 511.5L147.8 510.6L149 509.6L150.1 508.7L151.2 507.9L152.4 507.2L153.5 506.7L154.5 506.2L155.6 505.8L156.7 505.5L157.9 505.2L159.2 505L160.8 504.8L162.4 504.8L164.2 504.7L166 504.8L167.8 504.9L169.5 505L171.3 505.2L173.2 505.4L175 505.8L176.8 506.1L178.5 506.4L179.9 506.6L181.2 506.7L182.2 506.7L183.1 506.8L184 506.8L184.8 506.7L185.6 506.7L186.3 506.7L187 506.6L187.7 506.6L188.3 506.5L189 506.3L189.8 506L190.6 505.4L191.5 504.8L192.5 504L193.5 503.2L194.4 502.3L195.4 501.5L196.3 500.5L197.2 499.6L198.2 498.5L199.1 497.5L199.9 496.4L200.6 495.2L201.3 494.1L201.9 492.8L202.4 491.5L202.9 490.2L203.4 488.9L203.8 487.6L204.3 486.3L204.7 485.1L205 483.8L205.4 482.5L205.7 481.2L206 479.8L206.3 478.5L206.6 477.2L206.9 475.9L207.1 474.4L207.4 472.7L207.6 470.6L207.8 468.1L208 465.4L208.2 462.4L208.4 459.2L208.5 455.8L208.7 452.3L208.9 448.6L209 444.6L209.2 440.4L209.4 436.2L209.5 432L209.7 427.9L209.8 424L210 420.1L210.1 416.2L210.3 412.4L210.4 408.7L210.5 405.1L210.7 401.5L210.9 397.8L211 394.3L211.2 391L211.4 388.1L211.5 385.6L211.6 383.8L211.7 382.3L211.8 381.2L211.9 380.4L212 380L212.1 379.9L212.2 380L212.4 380.4L212.5 381.2L212.6 382.3L212.7 383.8L212.8 385.6L213 388.1L213.2 391L213.4 394.3L213.6 397.8L213.7 401.5L213.9 405.1L214 408.7L214.1 412.5L214.2 416.4L214.3 420.3L214.4 424.2L214.6 427.9L214.7 431.7L214.9 435.4L215 439.1L215.2 442.6L215.4 446.1L215.6 449.2L215.8 452.2L216.1 455L216.3 457.5L216.6 460L216.9 462.3L217.2 464.5L217.4 466.4L217.7 468.2L217.9 469.8L218.1 471.3L218.4 472.9L218.8 474.5L219.1 476.2L219.5 477.9L220 479.7L220.4 481.4L220.9 483L221.4 484.5L221.8 485.8L222.2 487L222.6 488.2L223 489.3L223.5 490.3L224 491.4L224.6 492.5L225.3 493.5L225.9 494.6L226.7 495.6L227.5 496.6L228.3 497.6L229.2 498.5L230.2 499.5L231.3 500.4L232.4 501.3L233.5 502.2L234.7 503L235.9 503.7L237.1 504.3L238.4 505L239.7 505.5L240.9 506L242.1 506.4L243.1 506.8L243.9 507.2L244.8 507.4L245.6 507.7L246.5 507.8L247.6 507.8L248.8 507.8L250.2 507.6L251.7 507.3L253.2 507L254.7 506.7L256.1 506.4L257.6 506L259.1 505.6L260.6 505.1L262 504.7L263.5 504.4L264.9 504.3L266.2 504.3L267.4 504.4L268.6 504.6L269.8 504.9L271.1 505.4L272.6 506L274.2 506.9L276 508.1L277.9 509.4L279.8 510.7L281.6 511.9L283.2 513L284.6 513.9L285.9 514.7L287.1 515.4L288.2 516.1L289.5 516.7L291 517.3L292.7 517.8L294.5 518.3L296.4 518.7L298.4 519L300.5 519.4L302.7 519.8L305.1 520.1L307.7 520.5L310.4 520.8L313.1 521.1L315.8 521.5L318.2 521.8L320.2 522.1L322 522.3L323.7 522.5L325.4 522.8L327.4 523.1L329.8 523.6L332.7 524.2L335.9 525L339.4 525.9L343 526.8L346.6 527.7L350.1 528.5L350.1 532.3L85.6 532.3Z" fill="#fff" stroke="none"/>
<path d="M85.6 532.3L88.7 531.8L91.8 531.3L94.8 530.7L97.9 530.1L101 529.4L104.1 528.7L107.3 527.9L110.5 527L113.8 526L117.1 525L120.2 524L123 523.1L125.7 522.2L128.2 521.4L130.6 520.6L132.8 519.8L134.9 518.9L136.9 518.1L138.6 517.2L140.2 516.2L141.6 515.3L142.9 514.3L144.1 513.4L145.4 512.5L146.7 511.5L147.8 510.6L149 509.6L150.1 508.7L151.2 507.9L152.4 507.2L153.5 506.7L154.5 506.2L155.6 505.8L156.7 505.5L157.9 505.2L159.2 505L160.8 504.8L162.4 504.8L164.2 504.7L166 504.8L167.8 504.9L169.5 505L171.3 505.2L173.2 505.4L175 505.8L176.8 506.1L178.5 506.4L179.9 506.6L181.2 506.7L182.2 506.7L183.1 506.8L184 506.8L184.8 506.7L185.6 506.7L186.3 506.7L187 506.6L187.7 506.6L188.3 506.5L189 506.3L189.8 506L190.6 505.4L191.5 504.8L192.5 504L193.5 503.2L194.4 502.3L195.4 501.5L196.3 500.5L197.2 499.6L198.2 498.5L199.1 497.5L199.9 496.4L200.6 495.2L201.3 494.1L201.9 492.8L202.4 491.5L202.9 490.2L203.4 488.9L203.8 487.6L204.3 486.3L204.7 485.1L205 483.8L205.4 482.5L205.7 481.2L206 479.8L206.3 478.5L206.6 477.2L206.9 475.9L207.1 474.4L207.4 472.7L207.6 470.6L207.8 468.1L208 465.4L208.2 462.4L208.4 459.2L208.5 455.8L208.7 452.3L208.9 448.6L209 444.6L209.2 440.4L209.4 436.2L209.5 432L209.7 427.9L209.8 424L210 420.1L210.1 416.2L210.3 412.4L210.4 408.7L210.5 405.1L210.7 401.5L210.9 397.8L211 394.3L211.2 391L211.4 388.1L211.5 385.6L211.6 383.8L211.7 382.3L211.8 381.2L211.9 380.4L212 380L212.1 379.9L212.2 380L212.4 380.4L212.5 381.2L212.6 382.3L212.7 383.8L212.8 385.6L213 388.1L213.2 391L213.4 394.3L213.6 397.8L213.7 401.5L213.9 405.1L214 408.7L214.1 412.5L214.2 416.4L214.3 420.3L214.4 424.2L214.6 427.9L214.7 431.7L214.9 435.4L215 439.1L215.2 442.6L215.4 446.1L215.6 449.2L215.8 452.2L216.1 455L216.3 457.5L216.6 460L216.9 462.3L217.2 464.5L217.4 466.4L217.7 468.2L217.9 469.8L218.1 471.3L218.4 472.9L218.8 474.5L219.1 476.2L219.5 477.9L220 479.7L220.4 481.4L220.9 483L221.4 484.5L221.8 485.8L222.2 487L222.6 488.2L223 489.3L223.5 490.3L224 491.4L224.6 492.5L225.3 493.5L225.9 494.6L226.7 495.6L227.5 496.6L228.3 497.6L229.2 498.5L230.2 499.5L231.3 500.4L232.4 501.3L233.5 502.2L234.7 503L235.9 503.7L237.1 504.3L238.4 505L239.7 505.5L240.9 506L242.1 506.4L243.1 506.8L243.9 507.2L244.8 507.4L245.6 507.7L246.5 507.8L247.6 507.8L248.8 507.8L250.2 507.6L251.7 507.3L253.2 507L254.7 506.7L256.1 506.4L257.6 506L259.1 505.6L260.6 505.1L262 504.7L263.5 504.4L264.9 504.3L266.2 504.3L267.4 504.4L268.6 504.6L269.8 504.9L271.1 505.4L272.6 506L274.2 506.9L276 508.1L277.9 509.4L279.8 510.7L281.6 511.9L283.2 513L284.6 513.9L285.9 514.7L287.1 515.4L288.2 516.1L289.5 516.7L291 517.3L292.7 517.8L294.5 518.3L296.4 518.7L298.4 519L300.5 519.4L302.7 519.8L305.1 520.1L307.7 520.5L310.4 520.8L313.1 521.1L315.8 521.5L318.2 521.8L320.2 522.1L322 522.3L323.7 522.5L325.4 522.8L327.4 523.1L329.8 523.6L332.7 524.2L335.9 525L339.4 525.9L343 526.8L346.6 527.7L350.1 528.5L350.1 532.3" fill="none" stroke="#000" stroke-width="1.1" stroke-linejoin="round"/>
<path d="M83.2 534.7L86.5 534.2L89.5 533.7L92.6 533.1L95.7 532.5L98.8 531.9L101.9 531.1L105 530.3L108.3 529.4L111.6 528.4L114.8 527.4L117.9 526.5L120.8 525.5L123.5 524.7L126 523.8L128.4 523L130.6 522.2L132.7 521.3L134.6 520.5L136.4 519.6L137.9 518.6L139.3 517.7L140.6 516.7L141.9 515.8L143.2 514.9L144.4 514L145.6 513L146.8 512.1L147.9 511.2L149 510.3L150.1 509.6L151.2 509.1L152.3 508.6L153.4 508.2L154.5 507.9L155.7 507.6L157 507.4L158.5 507.2L160.2 507.2L161.9 507.2L163.8 507.2L165.6 507.3L167.3 507.4L169.1 507.6L171 507.9L172.8 508.2L174.6 508.5L176.3 508.8L177.7 509L178.9 509.1L180 509.2L180.9 509.2L181.7 509.2L182.5 509.1L183.3 509.1L184.1 509.1L184.8 509.1L185.4 509L186.1 508.9L186.8 508.7L187.5 508.4L188.4 507.9L189.3 507.2L190.3 506.5L191.2 505.6L192.2 504.8L193.1 503.9L194.1 502.9L195 502L195.9 501L196.8 499.9L197.7 498.8L198.4 497.7L199.1 496.5L199.7 495.2L200.2 493.9L200.7 492.6L201.2 491.3L201.6 490L202 488.7L202.4 487.5L202.8 486.2L203.1 485L203.5 483.6L203.8 482.3L204.1 480.9L204.4 479.6L204.7 478.3L204.9 476.8L205.2 475.1L205.4 473L205.6 470.6L205.8 467.8L206 464.8L206.1 461.6L206.3 458.2L206.5 454.7L206.6 451L206.8 447L207 442.8L207.2 438.6L207.3 434.4L207.5 430.4L207.6 426.4L207.8 422.5L207.9 418.6L208 414.8L208.2 411.1L208.3 407.5L208.5 403.9L208.6 400.2L208.8 396.7L209 393.4L209.1 390.5L209.3 388.1L209.4 386.2L209.5 384.7L209.6 383.6L209.7 382.9L209.8 382.4L209.9 382.3L210 382.4L210.1 382.9L210.2 383.6L210.4 384.7L210.5 386.2L210.6 388.1L210.8 390.5L211 393.4L211.1 396.7L211.3 400.2L211.5 403.9L211.7 407.5L211.8 411.1L211.9 414.9L212 418.8L212.1 422.7L212.2 426.6L212.3 430.4L212.5 434.1L212.6 437.8L212.8 441.5L213 445.1L213.1 448.5L213.3 451.7L213.6 454.6L213.8 457.4L214.1 460L214.4 462.4L214.7 464.7L214.9 466.9L215.2 468.8L215.4 470.6L215.7 472.2L215.9 473.8L216.2 475.3L216.5 476.9L216.9 478.6L217.3 480.4L217.8 482.1L218.2 483.8L218.7 485.4L219.1 486.9L219.6 488.2L220 489.5L220.4 490.6L220.8 491.7L221.3 492.8L221.8 493.8L222.4 494.9L223 496L223.7 497L224.4 498L225.2 499L226.1 500L227 500.9L228 501.9L229.1 502.8L230.2 503.8L231.3 504.6L232.5 505.4L233.7 506.1L234.9 506.8L236.2 507.4L237.5 507.9L238.7 508.4L239.8 508.9L240.8 509.2L241.7 509.6L242.5 509.9L243.4 510.1L244.3 510.2L245.4 510.3L246.6 510.2L248 510L249.4 509.7L250.9 509.4L252.4 509.1L253.9 508.8L255.4 508.4L256.8 508L258.3 507.6L259.8 507.2L261.2 506.9L262.6 506.7L263.9 506.7L265.2 506.8L266.4 507L267.6 507.3L268.9 507.8L270.3 508.4L272 509.3L273.8 510.5L275.7 511.8L277.5 513.1L279.4 514.4L281 515.4L282.4 516.3L283.7 517.1L284.8 517.8L286 518.5L287.3 519.1L288.8 519.7L290.5 520.2L292.2 520.7L294.1 521.1L296.1 521.5L298.2 521.8L300.4 522.2L302.8 522.6L305.5 522.9L308.2 523.2L310.9 523.6L313.5 523.9L316 524.2L318 524.5L319.8 524.7L321.5 524.9L323.2 525.2L325.2 525.5L327.6 526L330.5 526.7L333.7 527.4L337.2 528.3L340.8 529.2L344.4 530.1L347.9 530.9L347.9 534.7L83.2 534.7Z" fill="#fff" stroke="none"/>
<path d="M83.2 534.7L86.5 534.2L89.5 533.7L92.6 533.1L95.7 532.5L98.8 531.9L101.9 531.1L105 530.3L108.3 529.4L111.6 528.4L114.8 527.4L117.9 526.5L120.8 525.5L123.5 524.7L126 523.8L128.4 523L130.6 522.2L132.7 521.3L134.6 520.5L136.4 519.6L137.9 518.6L139.3 517.7L140.6 516.7L141.9 515.8L143.2 514.9L144.4 514L145.6 513L146.8 512.1L147.9 511.2L149 510.3L150.1 509.6L151.2 509.1L152.3 508.6L153.4 508.2L154.5 507.9L155.7 507.6L157 507.4L158.5 507.2L160.2 507.2L161.9 507.2L163.8 507.2L165.6 507.3L167.3 507.4L169.1 507.6L171 507.9L172.8 508.2L174.6 508.5L176.3 508.8L177.7 509L178.9 509.1L180 509.2L180.9 509.2L181.7 509.2L182.5 509.1L183.3 509.1L184.1 509.1L184.8 509.1L185.4 509L186.1 508.9L186.8 508.7L187.5 508.4L188.4 507.9L189.3 507.2L190.3 506.5L191.2 505.6L192.2 504.8L193.1 503.9L194.1 502.9L195 502L195.9 501L196.8 499.9L197.7 498.8L198.4 497.7L199.1 496.5L199.7 495.2L200.2 493.9L200.7 492.6L201.2 491.3L201.6 490L202 488.7L202.4 487.5L202.8 486.2L203.1 485L203.5 483.6L203.8 482.3L204.1 480.9L204.4 479.6L204.7 478.3L204.9 476.8L205.2 475.1L205.4 473L205.6 470.6L205.8 467.8L206 464.8L206.1 461.6L206.3 458.2L206.5 454.7L206.6 451L206.8 447L207 442.8L207.2 438.6L207.3 434.4L207.5 430.4L207.6 426.4L207.8 422.5L207.9 418.6L208 414.8L208.2 411.1L208.3 407.5L208.5 403.9L208.6 400.2L208.8 396.7L209 393.4L209.1 390.5L209.3 388.1L209.4 386.2L209.5 384.7L209.6 383.6L209.7 382.9L209.8 382.4L209.9 382.3L210 382.4L210.1 382.9L210.2 383.6L210.4 384.7L210.5 386.2L210.6 388.1L210.8 390.5L211 393.4L211.1 396.7L211.3 400.2L211.5 403.9L211.7 407.5L211.8 411.1L211.9 414.9L212 418.8L212.1 422.7L212.2 426.6L212.3 430.4L212.5 434.1L212.6 437.8L212.8 441.5L213 445.1L213.1 448.5L213.3 451.7L213.6 454.6L213.8 457.4L214.1 460L214.4 462.4L214.7 464.7L214.9 466.9L215.2 468.8L215.4 470.6L215.7 472.2L215.9 473.8L216.2 475.3L216.5 476.9L216.9 478.6L217.3 480.4L217.8 482.1L218.2 483.8L218.7 485.4L219.1 486.9L219.6 488.2L220 489.5L220.4 490.6L220.8 491.7L221.3 492.8L221.8 493.8L222.4 494.9L223 496L223.7 497L224.4 498L225.2 499L226.1 500L227 500.9L228 501.9L229.1 502.8L230.2 503.8L231.3 504.6L232.5 505.4L233.7 506.1L234.9 506.8L236.2 507.4L237.5 507.9L238.7 508.4L239.8 508.9L240.8 509.2L241.7 509.6L242.5 509.9L243.4 510.1L244.3 510.2L245.4 510.3L246.6 510.2L248 510L249.4 509.7L250.9 509.4L252.4 509.1L253.9 508.8L255.4 508.4L256.8 508L258.3 507.6L259.8 507.2L261.2 506.9L262.6 506.7L263.9 506.7L265.2 506.8L266.4 507L267.6 507.3L268.9 507.8L270.3 508.4L272 509.3L273.8 510.5L275.7 511.8L277.5 513.1L279.4 514.4L281 515.4L282.4 516.3L283.7 517.1L284.8 517.8L286 518.5L287.3 519.1L288.8 519.7L290.5 520.2L292.2 520.7L294.1 521.1L296.1 521.5L298.2 521.8L300.4 522.2L302.8 522.6L305.5 522.9L308.2 523.2L310.9 523.6L313.5 523.9L316 524.2L318 524.5L319.8 524.7L321.5 524.9L323.2 525.2L325.2 525.5L327.6 526L330.5 526.7L333.7 527.4L337.2 528.3L340.8 529.2L344.4 530.1L347.9 530.9L347.9 534.7" fill="none" stroke="#000" stroke-width="1.1" stroke-linejoin="round"/>
<path d="M80.9 537.1L84.3 536.7L87.3 536.1L90.4 535.5L93.4 534.9L96.5 534.3L99.6 533.5L102.8 532.7L106.1 531.8L109.4 530.8L112.6 529.8L115.7 528.9L118.6 527.9L121.2 527.1L123.8 526.2L126.1 525.4L128.4 524.6L130.5 523.8L132.4 522.9L134.2 522L135.7 521.1L137.1 520.1L138.4 519.2L139.7 518.2L141 517.3L142.2 516.4L143.4 515.4L144.5 514.5L145.7 513.6L146.8 512.8L147.9 512.1L149 511.5L150.1 511L151.1 510.6L152.2 510.3L153.4 510L154.8 509.8L156.3 509.7L158 509.6L159.7 509.6L161.5 509.6L163.3 509.7L165.1 509.8L166.9 510L168.7 510.3L170.6 510.6L172.4 510.9L174 511.2L175.5 511.4L176.7 511.5L177.8 511.6L178.7 511.6L179.5 511.6L180.3 511.6L181.1 511.5L181.9 511.5L182.6 511.5L183.2 511.4L183.9 511.3L184.5 511.1L185.3 510.8L186.2 510.3L187.1 509.6L188 508.9L189 508.1L190 507.2L190.9 506.3L191.8 505.4L192.8 504.4L193.7 503.4L194.6 502.3L195.4 501.2L196.2 500.1L196.9 498.9L197.5 497.6L198 496.3L198.5 495L198.9 493.7L199.4 492.4L199.8 491.1L200.2 489.9L200.6 488.6L200.9 487.4L201.2 486.1L201.6 484.7L201.9 483.3L202.2 482L202.4 480.7L202.7 479.2L202.9 477.5L203.2 475.4L203.4 473L203.6 470.2L203.7 467.2L203.9 464L204.1 460.6L204.2 457.1L204.4 453.4L204.6 449.4L204.8 445.2L204.9 441L205.1 436.8L205.3 432.8L205.4 428.8L205.5 424.9L205.7 421L205.8 417.2L205.9 413.5L206.1 409.9L206.2 406.3L206.4 402.7L206.6 399.1L206.8 395.8L206.9 392.9L207.1 390.5L207.2 388.6L207.3 387.1L207.4 386L207.5 385.3L207.6 384.8L207.7 384.7L207.8 384.8L207.9 385.3L208 386L208.1 387.1L208.3 388.6L208.4 390.5L208.6 392.9L208.7 395.8L208.9 399.1L209.1 402.7L209.3 406.3L209.4 409.9L209.6 413.5L209.7 417.3L209.8 421.2L209.9 425.1L210 429L210.1 432.8L210.3 436.5L210.4 440.2L210.6 443.9L210.7 447.5L210.9 450.9L211.1 454.1L211.4 457L211.6 459.8L211.9 462.4L212.2 464.8L212.4 467.1L212.7 469.3L213 471.3L213.2 473L213.4 474.6L213.7 476.2L214 477.7L214.3 479.3L214.7 481L215.1 482.8L215.5 484.5L216 486.2L216.5 487.8L216.9 489.3L217.3 490.6L217.7 491.9L218.1 493L218.6 494.1L219 495.2L219.6 496.2L220.2 497.3L220.8 498.4L221.5 499.4L222.2 500.4L223 501.4L223.9 502.4L224.8 503.4L225.8 504.3L226.9 505.3L228 506.2L229.1 507L230.2 507.8L231.4 508.5L232.7 509.2L234 509.8L235.3 510.3L236.5 510.8L237.6 511.3L238.6 511.7L239.5 512L240.3 512.3L241.1 512.5L242.1 512.6L243.1 512.7L244.4 512.6L245.8 512.4L247.2 512.2L248.7 511.9L250.2 511.5L251.7 511.2L253.1 510.9L254.6 510.4L256.1 510L257.6 509.6L259 509.3L260.4 509.1L261.7 509.2L262.9 509.2L264.1 509.4L265.4 509.7L266.7 510.2L268.1 510.8L269.8 511.7L271.6 512.9L273.4 514.2L275.3 515.5L277.1 516.8L278.8 517.8L280.2 518.7L281.4 519.5L282.6 520.3L283.8 520.9L285.1 521.5L286.6 522.1L288.2 522.6L290 523.1L291.9 523.5L293.9 523.9L296 524.2L298.2 524.6L300.6 525L303.2 525.3L306 525.6L308.7 526L311.3 526.3L313.7 526.6L315.8 526.9L317.6 527.1L319.3 527.3L321 527.6L323 528L325.4 528.4L328.3 529.1L331.5 529.8L335 530.7L338.6 531.6L342.2 532.5L345.7 533.4L345.7 537.1L80.9 537.1Z" fill="#fff" stroke="none"/>
<path d="M80.9 537.1L84.3 536.7L87.3 536.1L90.4 535.5L93.4 534.9L96.5 534.3L99.6 533.5L102.8 532.7L106.1 531.8L109.4 530.8L112.6 529.8L115.7 528.9L118.6 527.9L121.2 527.1L123.8 526.2L126.1 525.4L128.4 524.6L130.5 523.8L132.4 522.9L134.2 522L135.7 521.1L137.1 520.1L138.4 519.2L139.7 518.2L141 517.3L142.2 516.4L143.4 515.4L144.5 514.5L145.7 513.6L146.8 512.8L147.9 512.1L149 511.5L150.1 511L151.1 510.6L152.2 510.3L153.4 510L154.8 509.8L156.3 509.7L158 509.6L159.7 509.6L161.5 509.6L163.3 509.7L165.1 509.8L166.9 510L168.7 510.3L170.6 510.6L172.4 510.9L174 511.2L175.5 511.4L176.7 511.5L177.8 511.6L178.7 511.6L179.5 511.6L180.3 511.6L181.1 511.5L181.9 511.5L182.6 511.5L183.2 511.4L183.9 511.3L184.5 511.1L185.3 510.8L186.2 510.3L187.1 509.6L188 508.9L189 508.1L190 507.2L190.9 506.3L191.8 505.4L192.8 504.4L193.7 503.4L194.6 502.3L195.4 501.2L196.2 500.1L196.9 498.9L197.5 497.6L198 496.3L198.5 495L198.9 493.7L199.4 492.4L199.8 491.1L200.2 489.9L200.6 488.6L200.9 487.4L201.2 486.1L201.6 484.7L201.9 483.3L202.2 482L202.4 480.7L202.7 479.2L202.9 477.5L203.2 475.4L203.4 473L203.6 470.2L203.7 467.2L203.9 464L204.1 460.6L204.2 457.1L204.4 453.4L204.6 449.4L204.8 445.2L204.9 441L205.1 436.8L205.3 432.8L205.4 428.8L205.5 424.9L205.7 421L205.8 417.2L205.9 413.5L206.1 409.9L206.2 406.3L206.4 402.7L206.6 399.1L206.8 395.8L206.9 392.9L207.1 390.5L207.2 388.6L207.3 387.1L207.4 386L207.5 385.3L207.6 384.8L207.7 384.7L207.8 384.8L207.9 385.3L208 386L208.1 387.1L208.3 388.6L208.4 390.5L208.6 392.9L208.7 395.8L208.9 399.1L209.1 402.7L209.3 406.3L209.4 409.9L209.6 413.5L209.7 417.3L209.8 421.2L209.9 425.1L210 429L210.1 432.8L210.3 436.5L210.4 440.2L210.6 443.9L210.7 447.5L210.9 450.9L211.1 454.1L211.4 457L211.6 459.8L211.9 462.4L212.2 464.8L212.4 467.1L212.7 469.3L213 471.3L213.2 473L213.4 474.6L213.7 476.2L214 477.7L214.3 479.3L214.7 481L215.1 482.8L215.5 484.5L216 486.2L216.5 487.8L216.9 489.3L217.3 490.6L217.7 491.9L218.1 493L218.6 494.1L219 495.2L219.6 496.2L220.2 497.3L220.8 498.4L221.5 499.4L222.2 500.4L223 501.4L223.9 502.4L224.8 503.4L225.8 504.3L226.9 505.3L228 506.2L229.1 507L230.2 507.8L231.4 508.5L232.7 509.2L234 509.8L235.3 510.3L236.5 510.8L237.6 511.3L238.6 511.7L239.5 512L240.3 512.3L241.1 512.5L242.1 512.6L243.1 512.7L244.4 512.6L245.8 512.4L247.2 512.2L248.7 511.9L250.2 511.5L251.7 511.2L253.1 510.9L254.6 510.4L256.1 510L257.6 509.6L259 509.3L260.4 509.1L261.7 509.2L262.9 509.2L264.1 509.4L265.4 509.7L266.7 510.2L268.1 510.8L269.8 511.7L271.6 512.9L273.4 514.2L275.3 515.5L277.1 516.8L278.8 517.8L280.2 518.7L281.4 519.5L282.6 520.3L283.8 520.9L285.1 521.5L286.6 522.1L288.2 522.6L290 523.1L291.9 523.5L293.9 523.9L296 524.2L298.2 524.6L300.6 525L303.2 525.3L306 525.6L308.7 526L311.3 526.3L313.7 526.6L315.8 526.9L317.6 527.1L319.3 527.3L321 527.6L323 528L325.4 528.4L328.3 529.1L331.5 529.8L335 530.7L338.6 531.6L342.2 532.5L345.7 533.4L345.7 537.1" fill="none" stroke="#000" stroke-width="1.1" stroke-linejoin="round"/>
<path d="M78.5 539.6L82 539.1L85.1 538.5L88.2 537.9L91.2 537.3L94.3 536.7L97.4 536L100.6 535.1L103.9 534.2L107.2 533.2L110.4 532.3L113.5 531.3L116.3 530.4L119 529.5L121.5 528.7L123.9 527.8L126.2 527L128.2 526.2L130.2 525.3L131.9 524.4L133.5 523.5L134.9 522.5L136.2 521.6L137.5 520.6L138.7 519.7L140 518.8L141.2 517.8L142.3 516.9L143.4 516L144.6 515.2L145.7 514.5L146.8 513.9L147.9 513.4L148.9 513L150 512.7L151.2 512.4L152.6 512.2L154.1 512.1L155.7 512L157.5 512L159.3 512L161.1 512.1L162.9 512.2L164.7 512.4L166.5 512.7L168.4 513L170.2 513.3L171.8 513.6L173.3 513.8L174.5 513.9L175.5 514L176.5 514L177.3 514L178.1 514L178.9 513.9L179.6 513.9L180.3 513.9L181 513.9L181.6 513.8L182.3 513.6L183.1 513.2L183.9 512.7L184.9 512L185.8 511.3L186.8 510.5L187.8 509.6L188.7 508.7L189.6 507.8L190.6 506.8L191.5 505.8L192.4 504.7L193.2 503.6L194 502.5L194.6 501.3L195.2 500.1L195.8 498.8L196.2 497.4L196.7 496.1L197.2 494.8L197.6 493.6L198 492.3L198.3 491.1L198.7 489.8L199 488.5L199.3 487.1L199.6 485.8L199.9 484.5L200.2 483.1L200.5 481.7L200.7 479.9L200.9 477.9L201.1 475.4L201.3 472.6L201.5 469.6L201.7 466.4L201.9 463L202 459.5L202.2 455.8L202.4 451.8L202.5 447.6L202.7 443.4L202.9 439.2L203 435.2L203.2 431.3L203.3 427.3L203.4 423.4L203.6 419.6L203.7 415.9L203.9 412.3L204 408.7L204.2 405.1L204.4 401.5L204.5 398.2L204.7 395.3L204.8 392.9L205 391L205.1 389.5L205.2 388.4L205.3 387.7L205.4 387.3L205.5 387.1L205.6 387.3L205.7 387.7L205.8 388.4L205.9 389.5L206 391L206.2 392.9L206.3 395.3L206.5 398.2L206.7 401.5L206.9 405.1L207.1 408.7L207.2 412.3L207.3 415.9L207.5 419.7L207.6 423.6L207.7 427.6L207.8 431.4L207.9 435.2L208 438.9L208.2 442.6L208.3 446.3L208.5 449.9L208.7 453.3L208.9 456.5L209.1 459.4L209.4 462.2L209.7 464.8L209.9 467.2L210.2 469.5L210.5 471.7L210.7 473.7L211 475.4L211.2 477.1L211.5 478.6L211.8 480.1L212.1 481.7L212.5 483.4L212.9 485.2L213.3 486.9L213.8 488.6L214.2 490.2L214.7 491.7L215.1 493.1L215.5 494.3L215.9 495.4L216.3 496.5L216.8 497.6L217.4 498.7L218 499.7L218.6 500.8L219.3 501.8L220 502.8L220.8 503.8L221.6 504.8L222.6 505.8L223.6 506.7L224.6 507.7L225.7 508.6L226.9 509.4L228 510.2L229.2 510.9L230.5 511.6L231.7 512.2L233 512.8L234.3 513.3L235.4 513.7L236.4 514.1L237.3 514.4L238.1 514.7L238.9 514.9L239.8 515L240.9 515.1L242.2 515L243.5 514.8L245 514.6L246.5 514.3L248 513.9L249.5 513.6L250.9 513.3L252.4 512.8L253.9 512.4L255.3 512L256.8 511.7L258.2 511.6L259.5 511.6L260.7 511.7L261.9 511.8L263.1 512.2L264.5 512.6L265.9 513.3L267.5 514.2L269.3 515.3L271.2 516.6L273.1 517.9L274.9 519.2L276.5 520.3L278 521.2L279.2 522L280.4 522.7L281.6 523.3L282.9 523.9L284.3 524.5L286 525L287.8 525.5L289.7 525.9L291.7 526.3L293.8 526.7L296 527L298.4 527.4L301 527.7L303.7 528.1L306.5 528.4L309.1 528.7L311.5 529L313.6 529.3L315.4 529.5L317 529.8L318.8 530L320.8 530.4L323.2 530.9L326 531.5L329.3 532.3L332.8 533.1L336.4 534L340 534.9L340 539.6L78.5 539.6Z" fill="#fff" stroke="none"/>
<path d="M78.5 539.6L82 539.1L85.1 538.5L88.2 537.9L91.2 537.3L94.3 536.7L97.4 536L100.6 535.1L103.9 534.2L107.2 533.2L110.4 532.3L113.5 531.3L116.3 530.4L119 529.5L121.5 528.7L123.9 527.8L126.2 527L128.2 526.2L130.2 525.3L131.9 524.4L133.5 523.5L134.9 522.5L136.2 521.6L137.5 520.6L138.7 519.7L140 518.8L141.2 517.8L142.3 516.9L143.4 516L144.6 515.2L145.7 514.5L146.8 513.9L147.9 513.4L148.9 513L150 512.7L151.2 512.4L152.6 512.2L154.1 512.1L155.7 512L157.5 512L159.3 512L161.1 512.1L162.9 512.2L164.7 512.4L166.5 512.7L168.4 513L170.2 513.3L171.8 513.6L173.3 513.8L174.5 513.9L175.5 514L176.5 514L177.3 514L178.1 514L178.9 513.9L179.6 513.9L180.3 513.9L181 513.9L181.6 513.8L182.3 513.6L183.1 513.2L183.9 512.7L184.9 512L185.8 511.3L186.8 510.5L187.8 509.6L188.7 508.7L189.6 507.8L190.6 506.8L191.5 505.8L192.4 504.7L193.2 503.6L194 502.5L194.6 501.3L195.2 500.1L195.8 498.8L196.2 497.4L196.7 496.1L197.2 494.8L197.6 493.6L198 492.3L198.3 491.1L198.7 489.8L199 488.5L199.3 487.1L199.6 485.8L199.9 484.5L200.2 483.1L200.5 481.7L200.7 479.9L200.9 477.9L201.1 475.4L201.3 472.6L201.5 469.6L201.7 466.4L201.9 463L202 459.5L202.2 455.8L202.4 451.8L202.5 447.6L202.7 443.4L202.9 439.2L203 435.2L203.2 431.3L203.3 427.3L203.4 423.4L203.6 419.6L203.7 415.9L203.9 412.3L204 408.7L204.2 405.1L204.4 401.5L204.5 398.2L204.7 395.3L204.8 392.9L205 391L205.1 389.5L205.2 388.4L205.3 387.7L205.4 387.3L205.5 387.1L205.6 387.3L205.7 387.7L205.8 388.4L205.9 389.5L206 391L206.2 392.9L206.3 395.3L206.5 398.2L206.7 401.5L206.9 405.1L207.1 408.7L207.2 412.3L207.3 415.9L207.5 419.7L207.6 423.6L207.7 427.6L207.8 431.4L207.9 435.2L208 438.9L208.2 442.6L208.3 446.3L208.5 449.9L208.7 453.3L208.9 456.5L209.1 459.4L209.4 462.2L209.7 464.8L209.9 467.2L210.2 469.5L210.5 471.7L210.7 473.7L211 475.4L211.2 477.1L211.5 478.6L211.8 480.1L212.1 481.7L212.5 483.4L212.9 485.2L213.3 486.9L213.8 488.6L214.2 490.2L214.7 491.7L215.1 493.1L215.5 494.3L215.9 495.4L216.3 496.5L216.8 497.6L217.4 498.7L218 499.7L218.6 500.8L219.3 501.8L220 502.8L220.8 503.8L221.6 504.8L222.6 505.8L223.6 506.7L224.6 507.7L225.7 508.6L226.9 509.4L228 510.2L229.2 510.9L230.5 511.6L231.7 512.2L233 512.8L234.3 513.3L235.4 513.7L236.4 514.1L237.3 514.4L238.1 514.7L238.9 514.9L239.8 515L240.9 515.1L242.2 515L243.5 514.8L245 514.6L246.5 514.3L248 513.9L249.5 513.6L250.9 513.3L252.4 512.8L253.9 512.4L255.3 512L256.8 511.7L258.2 511.6L259.5 511.6L260.7 511.7L261.9 511.8L263.1 512.2L264.5 512.6L265.9 513.3L267.5 514.2L269.3 515.3L271.2 516.6L273.1 517.9L274.9 519.2L276.5 520.3L278 521.2L279.2 522L280.4 522.7L281.6 523.3L282.9 523.9L284.3 524.5L286 525L287.8 525.5L289.7 525.9L291.7 526.3L293.8 526.7L296 527L298.4 527.4L301 527.7L303.7 528.1L306.5 528.4L309.1 528.7L311.5 529L313.6 529.3L315.4 529.5L317 529.8L318.8 530L320.8 530.4L323.2 530.9L326 531.5L329.3 532.3L332.8 533.1L336.4 534L340 534.9L340 539.6" fill="none" stroke="#000" stroke-width="1.1" stroke-linejoin="round"/>
<path d="M76.1 542L79.8 541.5L82.9 540.9L85.9 540.4L89 539.8L92.1 539.1L95.2 538.4L98.4 537.6L101.6 536.6L104.9 535.7L108.2 534.7L111.3 533.7L114.1 532.8L116.8 531.9L119.3 531.1L121.7 530.3L123.9 529.4L126 528.6L128 527.7L129.7 526.8L131.3 525.9L132.7 524.9L134 524L135.2 523.1L136.5 522.1L137.8 521.2L138.9 520.3L140.1 519.3L141.2 518.4L142.3 517.6L143.5 516.9L144.6 516.3L145.6 515.8L146.7 515.4L147.8 515.1L149 514.9L150.3 514.6L151.9 514.5L153.5 514.4L155.3 514.4L157.1 514.4L158.9 514.5L160.6 514.6L162.4 514.8L164.3 515.1L166.1 515.4L167.9 515.8L169.6 516L171 516.2L172.3 516.3L173.3 516.4L174.2 516.4L175.1 516.4L175.9 516.4L176.7 516.4L177.4 516.3L178.1 516.3L178.8 516.3L179.4 516.2L180.1 516L180.9 515.6L181.7 515.1L182.6 514.5L183.6 513.7L184.6 512.9L185.5 512L186.5 511.1L187.4 510.2L188.3 509.2L189.3 508.2L190.2 507.2L191 506.1L191.7 504.9L192.4 503.7L193 502.5L193.5 501.2L194 499.9L194.5 498.5L194.9 497.2L195.4 496L195.8 494.7L196.1 493.5L196.5 492.2L196.8 490.9L197.1 489.5L197.4 488.2L197.7 486.9L198 485.6L198.2 484.1L198.5 482.4L198.7 480.3L198.9 477.8L199.1 475.1L199.3 472.1L199.5 468.8L199.6 465.5L199.8 462L200 458.2L200.1 454.2L200.3 450.1L200.5 445.8L200.6 441.7L200.8 437.6L201 433.7L201.1 429.7L201.2 425.9L201.4 422L201.5 418.3L201.6 414.7L201.8 411.1L202 407.5L202.1 404L202.3 400.6L202.5 397.7L202.6 395.3L202.7 393.4L202.8 392L202.9 390.9L203 390.1L203.1 389.7L203.2 389.5L203.3 389.7L203.5 390.1L203.6 390.9L203.7 392L203.8 393.4L203.9 395.3L204.1 397.7L204.3 400.6L204.5 404L204.7 407.5L204.8 411.1L205 414.7L205.1 418.4L205.2 422.2L205.3 426.1L205.4 430L205.5 433.8L205.7 437.6L205.8 441.3L206 445.1L206.1 448.7L206.3 452.3L206.5 455.7L206.7 458.9L206.9 461.9L207.2 464.6L207.4 467.2L207.7 469.7L208 472L208.3 474.1L208.5 476.1L208.8 477.9L209 479.5L209.3 481L209.5 482.6L209.9 484.2L210.2 485.9L210.6 487.6L211.1 489.3L211.5 491L212 492.7L212.5 494.1L212.9 495.5L213.3 496.7L213.7 497.9L214.1 498.9L214.6 500L215.1 501.1L215.7 502.2L216.4 503.2L217 504.2L217.8 505.3L218.6 506.3L219.4 507.2L220.3 508.2L221.3 509.2L222.4 510.1L223.5 511L224.6 511.9L225.8 512.6L227 513.4L228.2 514L229.5 514.6L230.8 515.2L232 515.7L233.2 516.1L234.2 516.5L235 516.8L235.9 517.1L236.7 517.3L237.6 517.5L238.7 517.5L239.9 517.4L241.3 517.3L242.8 517L244.3 516.7L245.8 516.4L247.2 516L248.7 515.7L250.2 515.3L251.7 514.8L253.1 514.4L254.6 514.1L256 514L257.3 514L258.5 514.1L259.7 514.3L260.9 514.6L262.2 515.1L263.7 515.7L265.3 516.6L267.1 517.7L269 519L270.9 520.4L272.7 521.6L274.3 522.7L275.7 523.6L277 524.4L278.2 525.1L279.3 525.8L280.6 526.4L282.1 526.9L283.8 527.5L285.6 527.9L287.5 528.3L289.5 528.7L291.6 529.1L293.8 529.4L296.2 529.8L298.8 530.1L301.5 530.5L304.2 530.8L306.9 531.1L309.3 531.4L311.3 531.7L313.1 532L314.8 532.2L316.5 532.4L318.5 532.8L320.9 533.3L323.8 533.9L327.1 534.7L330.5 535.5L334.1 536.4L337.7 537.3L337.7 542L76.1 542Z" fill="#fff" stroke="none"/>
<path d="M76.1 542L79.8 541.5L82.9 540.9L85.9 540.4L89 539.8L92.1 539.1L95.2 538.4L98.4 537.6L101.6 536.6L104.9 535.7L108.2 534.7L111.3 533.7L114.1 532.8L116.8 531.9L119.3 531.1L121.7 530.3L123.9 529.4L126 528.6L128 527.7L129.7 526.8L131.3 525.9L132.7 524.9L134 524L135.2 523.1L136.5 522.1L137.8 521.2L138.9 520.3L140.1 519.3L141.2 518.4L142.3 517.6L143.5 516.9L144.6 516.3L145.6 515.8L146.7 515.4L147.8 515.1L149 514.9L150.3 514.6L151.9 514.5L153.5 514.4L155.3 514.4L157.1 514.4L158.9 514.5L160.6 514.6L162.4 514.8L164.3 515.1L166.1 515.4L167.9 515.8L169.6 516L171 516.2L172.3 516.3L173.3 516.4L174.2 516.4L175.1 516.4L175.9 516.4L176.7 516.4L177.4 516.3L178.1 516.3L178.8 516.3L179.4 516.2L180.1 516L180.9 515.6L181.7 515.1L182.6 514.5L183.6 513.7L184.6 512.9L185.5 512L186.5 511.1L187.4 510.2L188.3 509.2L189.3 508.2L190.2 507.2L191 506.1L191.7 504.9L192.4 503.7L193 502.5L193.5 501.2L194 499.9L194.5 498.5L194.9 497.2L195.4 496L195.8 494.7L196.1 493.5L196.5 492.2L196.8 490.9L197.1 489.5L197.4 488.2L197.7 486.9L198 485.6L198.2 484.1L198.5 482.4L198.7 480.3L198.9 477.8L199.1 475.1L199.3 472.1L199.5 468.8L199.6 465.5L199.8 462L200 458.2L200.1 454.2L200.3 450.1L200.5 445.8L200.6 441.7L200.8 437.6L201 433.7L201.1 429.7L201.2 425.9L201.4 422L201.5 418.3L201.6 414.7L201.8 411.1L202 407.5L202.1 404L202.3 400.6L202.5 397.7L202.6 395.3L202.7 393.4L202.8 392L202.9 390.9L203 390.1L203.1 389.7L203.2 389.5L203.3 389.7L203.5 390.1L203.6 390.9L203.7 392L203.8 393.4L203.9 395.3L204.1 397.7L204.3 400.6L204.5 404L204.7 407.5L204.8 411.1L205 414.7L205.1 418.4L205.2 422.2L205.3 426.1L205.4 430L205.5 433.8L205.7 437.6L205.8 441.3L206 445.1L206.1 448.7L206.3 452.3L206.5 455.7L206.7 458.9L206.9 461.9L207.2 464.6L207.4 467.2L207.7 469.7L208 472L208.3 474.1L208.5 476.1L208.8 477.9L209 479.5L209.3 481L209.5 482.6L209.9 484.2L210.2 485.9L210.6 487.6L211.1 489.3L211.5 491L212 492.7L212.5 494.1L212.9 495.5L213.3 496.7L213.7 497.9L214.1 498.9L214.6 500L215.1 501.1L215.7 502.2L216.4 503.2L217 504.2L217.8 505.3L218.6 506.3L219.4 507.2L220.3 508.2L221.3 509.2L222.4 510.1L223.5 511L224.6 511.9L225.8 512.6L227 513.4L228.2 514L229.5 514.6L230.8 515.2L232 515.7L233.2 516.1L234.2 516.5L235 516.8L235.9 517.1L236.7 517.3L237.6 517.5L238.7 517.5L239.9 517.4L241.3 517.3L242.8 517L244.3 516.7L245.8 516.4L247.2 516L248.7 515.7L250.2 515.3L251.7 514.8L253.1 514.4L254.6 514.1L256 514L257.3 514L258.5 514.1L259.7 514.3L260.9 514.6L262.2 515.1L263.7 515.7L265.3 516.6L267.1 517.7L269 519L270.9 520.4L272.7 521.6L274.3 522.7L275.7 523.6L277 524.4L278.2 525.1L279.3 525.8L280.6 526.4L282.1 526.9L283.8 527.5L285.6 527.9L287.5 528.3L289.5 528.7L291.6 529.1L293.8 529.4L296.2 529.8L298.8 530.1L301.5 530.5L304.2 530.8L306.9 531.1L309.3 531.4L311.3 531.7L313.1 532L314.8 532.2L316.5 532.4L318.5 532.8L320.9 533.3L323.8 533.9L327.1 534.7L330.5 535.5L334.1 536.4L337.7 537.3L337.7 542" fill="none" stroke="#000" stroke-width="1.1" stroke-linejoin="round"/>
<path d="M73.8 544.4L77.6 543.9L80.6 543.3L83.7 542.8L86.8 542.2L89.9 541.5L93 540.8L96.1 540L99.4 539.1L102.7 538.1L105.9 537.1L109 536.1L111.9 535.2L114.6 534.3L117.1 533.5L119.5 532.7L121.7 531.9L123.8 531L125.7 530.2L127.5 529.2L129 528.3L130.4 527.4L131.7 526.4L133 525.5L134.3 524.6L135.5 523.6L136.7 522.7L137.9 521.7L139 520.8L140.1 520L141.2 519.3L142.4 518.7L143.4 518.3L144.5 517.9L145.6 517.5L146.8 517.3L148.1 517.1L149.6 516.9L151.3 516.8L153 516.8L154.9 516.9L156.7 516.9L158.4 517.1L160.2 517.3L162.1 517.5L163.9 517.9L165.7 518.2L167.4 518.5L168.8 518.6L170 518.8L171.1 518.8L172 518.9L172.8 518.8L173.6 518.8L174.4 518.8L175.2 518.7L175.9 518.7L176.5 518.7L177.2 518.6L177.9 518.4L178.6 518L179.5 517.5L180.4 516.9L181.4 516.1L182.3 515.3L183.3 514.4L184.2 513.5L185.2 512.6L186.1 511.6L187 510.6L187.9 509.6L188.8 508.5L189.5 507.3L190.2 506.1L190.8 504.9L191.3 503.6L191.8 502.3L192.3 501L192.7 499.7L193.1 498.4L193.5 497.1L193.9 495.9L194.2 494.6L194.6 493.3L194.9 491.9L195.2 490.6L195.5 489.3L195.8 488L196 486.5L196.3 484.8L196.5 482.7L196.7 480.2L196.9 477.5L197.1 474.5L197.2 471.3L197.4 467.9L197.6 464.4L197.7 460.6L197.9 456.6L198.1 452.5L198.3 448.3L198.4 444.1L198.6 440L198.7 436.1L198.9 432.2L199 428.3L199.1 424.5L199.3 420.7L199.4 417.1L199.6 413.6L199.7 409.9L199.9 406.4L200.1 403.1L200.2 400.1L200.4 397.7L200.5 395.8L200.6 394.4L200.7 393.3L200.8 392.5L200.9 392.1L201 392L201.1 392.1L201.2 392.5L201.3 393.3L201.5 394.4L201.6 395.8L201.7 397.7L201.9 400.1L202.1 403.1L202.2 406.4L202.4 409.9L202.6 413.6L202.8 417.1L202.9 420.8L203 424.6L203.1 428.5L203.2 432.4L203.3 436.3L203.4 440L203.6 443.7L203.7 447.5L203.9 451.2L204.1 454.7L204.2 458.1L204.4 461.3L204.7 464.3L204.9 467L205.2 469.6L205.5 472.1L205.8 474.4L206 476.5L206.3 478.5L206.5 480.3L206.8 481.9L207 483.4L207.3 485L207.6 486.6L208 488.3L208.4 490L208.9 491.8L209.3 493.5L209.8 495.1L210.2 496.6L210.7 497.9L211.1 499.1L211.5 500.3L211.9 501.4L212.4 502.4L212.9 503.5L213.5 504.6L214.1 505.6L214.8 506.7L215.5 507.7L216.3 508.7L217.2 509.6L218.1 510.6L219.1 511.6L220.2 512.5L221.3 513.4L222.4 514.3L223.6 515.1L224.8 515.8L226 516.4L227.3 517L228.6 517.6L229.8 518.1L230.9 518.5L231.9 518.9L232.8 519.3L233.6 519.5L234.5 519.7L235.4 519.9L236.5 519.9L237.7 519.9L239.1 519.7L240.5 519.4L242 519.1L243.5 518.8L245 518.5L246.5 518.1L247.9 517.7L249.4 517.2L250.9 516.8L252.3 516.5L253.7 516.4L255 516.4L256.3 516.5L257.5 516.7L258.7 517L260 517.5L261.4 518.1L263.1 519L264.9 520.1L266.8 521.4L268.6 522.8L270.5 524L272.1 525.1L273.5 526L274.8 526.8L275.9 527.5L277.1 528.2L278.4 528.8L279.9 529.4L281.6 529.9L283.3 530.3L285.2 530.7L287.2 531.1L289.3 531.5L291.5 531.9L293.9 532.2L296.6 532.6L299.3 532.9L302 533.2L304.6 533.5L307.1 533.9L309.1 534.1L310.9 534.4L312.6 534.6L314.3 534.9L316.3 535.2L318.7 535.7L321.6 536.3L324.8 537.1L328.3 538L331.9 538.9L335.5 539.8L335.5 544.4L73.8 544.4Z" fill="#fff" stroke="none"/>
<path d="M73.8 544.4L77.6 543.9L80.6 543.3L83.7 542.8L86.8 542.2L89.9 541.5L93 540.8L96.1 540L99.4 539.1L102.7 538.1L105.9 537.1L109 536.1L111.9 535.2L114.6 534.3L117.1 533.5L119.5 532.7L121.7 531.9L123.8 531L125.7 530.2L127.5 529.2L129 528.3L130.4 527.4L131.7 526.4L133 525.5L134.3 524.6L135.5 523.6L136.7 522.7L137.9 521.7L139 520.8L140.1 520L141.2 519.3L142.4 518.7L143.4 518.3L144.5 517.9L145.6 517.5L146.8 517.3L148.1 517.1L149.6 516.9L151.3 516.8L153 516.8L154.9 516.9L156.7 516.9L158.4 517.1L160.2 517.3L162.1 517.5L163.9 517.9L165.7 518.2L167.4 518.5L168.8 518.6L170 518.8L171.1 518.8L172 518.9L172.8 518.8L173.6 518.8L174.4 518.8L175.2 518.7L175.9 518.7L176.5 518.7L177.2 518.6L177.9 518.4L178.6 518L179.5 517.5L180.4 516.9L181.4 516.1L182.3 515.3L183.3 514.4L184.2 513.5L185.2 512.6L186.1 511.6L187 510.6L187.9 509.6L188.8 508.5L189.5 507.3L190.2 506.1L190.8 504.9L191.3 503.6L191.8 502.3L192.3 501L192.7 499.7L193.1 498.4L193.5 497.1L193.9 495.9L194.2 494.6L194.6 493.3L194.9 491.9L195.2 490.6L195.5 489.3L195.8 488L196 486.5L196.3 484.8L196.5 482.7L196.7 480.2L196.9 477.5L197.1 474.5L197.2 471.3L197.4 467.9L197.6 464.4L197.7 460.6L197.9 456.6L198.1 452.5L198.3 448.3L198.4 444.1L198.6 440L198.7 436.1L198.9 432.2L199 428.3L199.1 424.5L199.3 420.7L199.4 417.1L199.6 413.6L199.7 409.9L199.9 406.4L200.1 403.1L200.2 400.1L200.4 397.7L200.5 395.8L200.6 394.4L200.7 393.3L200.8 392.5L200.9 392.1L201 392L201.1 392.1L201.2 392.5L201.3 393.3L201.5 394.4L201.6 395.8L201.7 397.7L201.9 400.1L202.1 403.1L202.2 406.4L202.4 409.9L202.6 413.6L202.8 417.1L202.9 420.8L203 424.6L203.1 428.5L203.2 432.4L203.3 436.3L203.4 440L203.6 443.7L203.7 447.5L203.9 451.2L204.1 454.7L204.2 458.1L204.4 461.3L204.7 464.3L204.9 467L205.2 469.6L205.5 472.1L205.8 474.4L206 476.5L206.3 478.5L206.5 480.3L206.8 481.9L207 483.4L207.3 485L207.6 486.6L208 488.3L208.4 490L208.9 491.8L209.3 493.5L209.8 495.1L210.2 496.6L210.7 497.9L211.1 499.1L211.5 500.3L211.9 501.4L212.4 502.4L212.9 503.5L213.5 504.6L214.1 505.6L214.8 506.7L215.5 507.7L216.3 508.7L217.2 509.6L218.1 510.6L219.1 511.6L220.2 512.5L221.3 513.4L222.4 514.3L223.6 515.1L224.8 515.8L226 516.4L227.3 517L228.6 517.6L229.8 518.1L230.9 518.5L231.9 518.9L232.8 519.3L233.6 519.5L234.5 519.7L235.4 519.9L236.5 519.9L237.7 519.9L239.1 519.7L240.5 519.4L242 519.1L243.5 518.8L245 518.5L246.5 518.1L247.9 517.7L249.4 517.2L250.9 516.8L252.3 516.5L253.7 516.4L255 516.4L256.3 516.5L257.5 516.7L258.7 517L260 517.5L261.4 518.1L263.1 519L264.9 520.1L266.8 521.4L268.6 522.8L270.5 524L272.1 525.1L273.5 526L274.8 526.8L275.9 527.5L277.1 528.2L278.4 528.8L279.9 529.4L281.6 529.9L283.3 530.3L285.2 530.7L287.2 531.1L289.3 531.5L291.5 531.9L293.9 532.2L296.6 532.6L299.3 532.9L302 533.2L304.6 533.5L307.1 533.9L309.1 534.1L310.9 534.4L312.6 534.6L314.3 534.9L316.3 535.2L318.7 535.7L321.6 536.3L324.8 537.1L328.3 538L331.9 538.9L335.5 539.8L335.5 544.4" fill="none" stroke="#000" stroke-width="1.1" stroke-linejoin="round"/>
<path d="M71.4 546.8L72.3 546.9L75.4 546.3L78.4 545.8L81.5 545.2L84.5 544.6L87.6 543.9L90.7 543.2L93.9 542.4L97.2 541.5L100.5 540.5L103.7 539.5L106.8 538.5L109.7 537.6L112.3 536.8L114.9 535.9L117.2 535.1L119.5 534.3L121.6 533.4L123.5 532.6L125.3 531.7L126.8 530.7L128.2 529.8L129.5 528.8L130.8 527.9L132.1 527L133.3 526L134.5 525.1L135.6 524.1L136.8 523.2L137.9 522.4L139 521.7L140.1 521.2L141.2 520.7L142.2 520.3L143.3 520L144.5 519.7L145.9 519.5L147.4 519.3L149.1 519.3L150.8 519.2L152.6 519.3L154.4 519.4L156.2 519.5L158 519.7L159.8 519.9L161.7 520.3L163.5 520.6L165.1 520.9L166.6 521.1L167.8 521.2L168.9 521.2L169.8 521.3L170.6 521.3L171.4 521.2L172.2 521.2L173 521.2L173.7 521.1L174.3 521.1L175 521L175.6 520.8L176.4 520.5L177.3 519.9L178.2 519.3L179.1 518.5L180.1 517.7L181.1 516.8L182 516L182.9 515L183.9 514.1L184.8 513L185.7 512L186.5 510.9L187.3 509.7L188 508.6L188.6 507.3L189.1 506L189.6 504.7L190 503.4L190.5 502.1L190.9 500.8L191.3 499.6L191.7 498.3L192 497L192.3 495.7L192.7 494.4L193 493L193.3 491.7L193.5 490.4L193.8 488.9L194 487.2L194.3 485.1L194.5 482.6L194.7 479.9L194.8 476.9L195 473.7L195.2 470.3L195.3 466.8L195.5 463.1L195.7 459.1L195.9 454.9L196 450.7L196.2 446.5L196.4 442.4L196.5 438.5L196.6 434.6L196.8 430.7L196.9 426.9L197 423.2L197.2 419.6L197.3 416L197.5 412.3L197.7 408.8L197.9 405.5L198 402.6L198.2 400.2L198.3 398.3L198.4 396.8L198.5 395.7L198.6 394.9L198.7 394.5L198.8 394.4L198.9 394.5L199 394.9L199.1 395.7L199.2 396.8L199.4 398.3L199.5 400.2L199.7 402.6L199.8 405.5L200 408.8L200.2 412.3L200.4 416L200.5 419.6L200.7 423.2L200.8 427L200.9 430.9L201 434.8L201.1 438.7L201.2 442.4L201.4 446.2L201.5 449.9L201.7 453.6L201.8 457.2L202 460.6L202.2 463.7L202.5 466.7L202.7 469.5L203 472.1L203.3 474.5L203.5 476.8L203.8 479L204.1 480.9L204.3 482.7L204.5 484.3L204.8 485.8L205.1 487.4L205.4 489L205.8 490.7L206.2 492.4L206.6 494.2L207.1 495.9L207.6 497.5L208 499L208.4 500.3L208.8 501.5L209.2 502.7L209.7 503.8L210.1 504.8L210.7 505.9L211.3 507L211.9 508L212.6 509.1L213.3 510.1L214.1 511.1L215 512.1L215.9 513L216.9 514L218 514.9L219.1 515.8L220.2 516.7L221.3 517.5L222.5 518.2L223.8 518.9L225.1 519.5L226.4 520L227.6 520.5L228.7 520.9L229.7 521.3L230.6 521.7L231.4 522L232.2 522.2L233.2 522.3L234.2 522.3L235.5 522.3L236.9 522.1L238.3 521.8L239.8 521.5L241.3 521.2L242.8 520.9L244.2 520.5L245.7 520.1L247.2 519.7L248.7 519.2L250.1 518.9L251.5 518.8L252.8 518.8L254 518.9L255.2 519.1L256.5 519.4L257.8 519.9L259.2 520.5L260.9 521.4L262.7 522.6L264.5 523.9L266.4 525.2L268.2 526.4L269.9 527.5L271.3 528.4L272.5 529.2L273.7 529.9L274.9 530.6L276.2 531.2L277.7 531.8L279.3 532.3L281.1 532.8L283 533.2L285 533.5L287.1 533.9L289.3 534.3L291.7 534.6L294.3 535L297.1 535.3L299.8 535.6L302.4 536L304.8 536.3L306.9 536.6L308.7 536.8L310.4 537L312.1 537.3L314.1 537.6L316.5 538.1L319.4 538.7L322.6 539.5L326.1 540.4L329.7 541.3L333.3 542.2L333.3 546.8L71.4 546.8Z" fill="#fff" stroke="none"/>
<path d="M71.4 546.8L72.3 546.9L75.4 546.3L78.4 545.8L81.5 545.2L84.5 544.6L87.6 543.9L90.7 543.2L93.9 542.4L97.2 541.5L100.5 540.5L103.7 539.5L106.8 538.5L109.7 537.6L112.3 536.8L114.9 535.9L117.2 535.1L119.5 534.3L121.6 533.4L123.5 532.6L125.3 531.7L126.8 530.7L128.2 529.8L129.5 528.8L130.8 527.9L132.1 527L133.3 526L134.5 525.1L135.6 524.1L136.8 523.2L137.9 522.4L139 521.7L140.1 521.2L141.2 520.7L142.2 520.3L143.3 520L144.5 519.7L145.9 519.5L147.4 519.3L149.1 519.3L150.8 519.2L152.6 519.3L154.4 519.4L156.2 519.5L158 519.7L159.8 519.9L161.7 520.3L163.5 520.6L165.1 520.9L166.6 521.1L167.8 521.2L168.9 521.2L169.8 521.3L170.6 521.3L171.4 521.2L172.2 521.2L173 521.2L173.7 521.1L174.3 521.1L175 521L175.6 520.8L176.4 520.5L177.3 519.9L178.2 519.3L179.1 518.5L180.1 517.7L181.1 516.8L182 516L182.9 515L183.9 514.1L184.8 513L185.7 512L186.5 510.9L187.3 509.7L188 508.6L188.6 507.3L189.1 506L189.6 504.7L190 503.4L190.5 502.1L190.9 500.8L191.3 499.6L191.7 498.3L192 497L192.3 495.7L192.7 494.4L193 493L193.3 491.7L193.5 490.4L193.8 488.9L194 487.2L194.3 485.1L194.5 482.6L194.7 479.9L194.8 476.9L195 473.7L195.2 470.3L195.3 466.8L195.5 463.1L195.7 459.1L195.9 454.9L196 450.7L196.2 446.5L196.4 442.4L196.5 438.5L196.6 434.6L196.8 430.7L196.9 426.9L197 423.2L197.2 419.6L197.3 416L197.5 412.3L197.7 408.8L197.9 405.5L198 402.6L198.2 400.2L198.3 398.3L198.4 396.8L198.5 395.7L198.6 394.9L198.7 394.5L198.8 394.4L198.9 394.5L199 394.9L199.1 395.7L199.2 396.8L199.4 398.3L199.5 400.2L199.7 402.6L199.8 405.5L200 408.8L200.2 412.3L200.4 416L200.5 419.6L200.7 423.2L200.8 427L200.9 430.9L201 434.8L201.1 438.7L201.2 442.4L201.4 446.2L201.5 449.9L201.7 453.6L201.8 457.2L202 460.6L202.2 463.7L202.5 466.7L202.7 469.5L203 472.1L203.3 474.5L203.5 476.8L203.8 479L204.1 480.9L204.3 482.7L204.5 484.3L204.8 485.8L205.1 487.4L205.4 489L205.8 490.7L206.2 492.4L206.6 494.2L207.1 495.9L207.6 497.5L208 499L208.4 500.3L208.8 501.5L209.2 502.7L209.7 503.8L210.1 504.8L210.7 505.9L211.3 507L211.9 508L212.6 509.1L213.3 510.1L214.1 511.1L215 512.1L215.9 513L216.9 514L218 514.9L219.1 515.8L220.2 516.7L221.3 517.5L222.5 518.2L223.8 518.9L225.1 519.5L226.4 520L227.6 520.5L228.7 520.9L229.7 521.3L230.6 521.7L231.4 522L232.2 522.2L233.2 522.3L234.2 522.3L235.5 522.3L236.9 522.1L238.3 521.8L239.8 521.5L241.3 521.2L242.8 520.9L244.2 520.5L245.7 520.1L247.2 519.7L248.7 519.2L250.1 518.9L251.5 518.8L252.8 518.8L254 518.9L255.2 519.1L256.5 519.4L257.8 519.9L259.2 520.5L260.9 521.4L262.7 522.6L264.5 523.9L266.4 525.2L268.2 526.4L269.9 527.5L271.3 528.4L272.5 529.2L273.7 529.9L274.9 530.6L276.2 531.2L277.7 531.8L279.3 532.3L281.1 532.8L283 533.2L285 533.5L287.1 533.9L289.3 534.3L291.7 534.6L294.3 535L297.1 535.3L299.8 535.6L302.4 536L304.8 536.3L306.9 536.6L308.7 536.8L310.4 537L312.1 537.3L314.1 537.6L316.5 538.1L319.4 538.7L322.6 539.5L326.1 540.4L329.7 541.3L333.3 542.2L333.3 546.8" fill="none" stroke="#000" stroke-width="1.1" stroke-linejoin="round"/>
<path d="M69.1 549.2L70.1 549.3L73.1 548.7L76.2 548.2L79.3 547.6L82.3 547L85.4 546.4L88.5 545.6L91.7 544.8L95 543.9L98.3 542.9L101.5 541.9L104.6 541L107.5 540L110.1 539.2L112.6 538.3L115 537.5L117.3 536.7L119.3 535.9L121.3 535L123 534.1L124.6 533.1L126 532.2L127.3 531.2L128.6 530.3L129.8 529.4L131.1 528.5L132.3 527.5L133.4 526.6L134.5 525.7L135.7 524.8L136.8 524.2L137.9 523.6L139 523.1L140 522.7L141.1 522.4L142.3 522.1L143.7 521.9L145.2 521.8L146.8 521.7L148.6 521.7L150.4 521.7L152.2 521.8L154 521.9L155.8 522.1L157.6 522.4L159.5 522.7L161.3 523L162.9 523.3L164.4 523.5L165.6 523.6L166.6 523.7L167.6 523.7L168.4 523.7L169.2 523.7L170 523.6L170.8 523.6L171.4 523.6L172.1 523.5L172.7 523.4L173.4 523.2L174.2 522.9L175 522.4L176 521.7L176.9 521L177.9 520.1L178.9 519.3L179.8 518.4L180.7 517.5L181.7 516.5L182.6 515.5L183.5 514.4L184.3 513.3L185.1 512.2L185.7 511L186.3 509.7L186.9 508.4L187.4 507.1L187.8 505.8L188.3 504.5L188.7 503.2L189.1 502L189.4 500.7L189.8 499.5L190.1 498.1L190.4 496.8L190.7 495.4L191 494.1L191.3 492.8L191.6 491.3L191.8 489.6L192 487.5L192.2 485.1L192.4 482.3L192.6 479.3L192.8 476.1L193 472.7L193.1 469.2L193.3 465.5L193.5 461.5L193.6 457.3L193.8 453.1L194 448.9L194.1 444.9L194.3 440.9L194.4 437L194.6 433.1L194.7 429.3L194.8 425.6L195 422L195.1 418.4L195.3 414.7L195.5 411.2L195.6 407.9L195.8 405L195.9 402.6L196.1 400.7L196.2 399.2L196.3 398.1L196.4 397.4L196.5 396.9L196.6 396.8L196.7 396.9L196.8 397.4L196.9 398.1L197 399.2L197.1 400.7L197.3 402.6L197.4 405L197.6 407.9L197.8 411.2L198 414.7L198.2 418.4L198.3 422L198.4 425.6L198.6 429.4L198.7 433.3L198.8 437.2L198.9 441.1L199 444.9L199.1 448.6L199.3 452.3L199.4 456L199.6 459.6L199.8 463L200 466.2L200.2 469.1L200.5 471.9L200.8 474.5L201 476.9L201.3 479.2L201.6 481.4L201.8 483.3L202.1 485.1L202.3 486.7L202.6 488.3L202.9 489.8L203.2 491.4L203.6 493.1L204 494.9L204.4 496.6L204.9 498.3L205.3 499.9L205.8 501.4L206.2 502.7L206.6 504L207 505.1L207.4 506.2L207.9 507.3L208.5 508.3L209.1 509.4L209.7 510.5L210.4 511.5L211.1 512.5L211.9 513.5L212.7 514.5L213.7 515.4L214.7 516.4L215.7 517.4L216.8 518.3L218 519.1L219.1 519.9L220.3 520.6L221.6 521.3L222.9 521.9L224.1 522.4L225.4 522.9L226.5 523.4L227.5 523.7L228.4 524.1L229.2 524.4L230 524.6L230.9 524.7L232 524.8L233.3 524.7L234.6 524.5L236.1 524.2L237.6 523.9L239.1 523.6L240.6 523.3L242 522.9L243.5 522.5L245 522.1L246.4 521.7L247.9 521.4L249.3 521.2L250.6 521.2L251.8 521.3L253 521.5L254.2 521.8L255.6 522.3L257 522.9L258.6 523.8L260.4 525L262.3 526.3L264.2 527.6L266 528.9L267.6 529.9L269.1 530.8L270.3 531.6L271.5 532.3L272.7 533L274 533.6L275.4 534.2L277.1 534.7L278.9 535.2L280.8 535.6L282.8 536L284.9 536.3L287.1 536.7L289.5 537.1L292.1 537.4L294.8 537.7L297.6 538.1L300.2 538.4L302.6 538.7L304.7 539L306.5 539.2L308.1 539.4L309.9 539.7L311.9 540L314.3 540.5L317.1 541.2L320.4 541.9L323.9 542.8L327.5 543.7L331.1 544.6L331.1 549.2L69.1 549.2Z" fill="#fff" stroke="none"/>
<path d="M69.1 549.2L70.1 549.3L73.1 548.7L76.2 548.2L79.3 547.6L82.3 547L85.4 546.4L88.5 545.6L91.7 544.8L95 543.9L98.3 542.9L101.5 541.9L104.6 541L107.5 540L110.1 539.2L112.6 538.3L115 537.5L117.3 536.7L119.3 535.9L121.3 535L123 534.1L124.6 533.1L126 532.2L127.3 531.2L128.6 530.3L129.8 529.4L131.1 528.5L132.3 527.5L133.4 526.6L134.5 525.7L135.7 524.8L136.8 524.2L137.9 523.6L139 523.1L140 522.7L141.1 522.4L142.3 522.1L143.7 521.9L145.2 521.8L146.8 521.7L148.6 521.7L150.4 521.7L152.2 521.8L154 521.9L155.8 522.1L157.6 522.4L159.5 522.7L161.3 523L162.9 523.3L164.4 523.5L165.6 523.6L166.6 523.7L167.6 523.7L168.4 523.7L169.2 523.7L170 523.6L170.8 523.6L171.4 523.6L172.1 523.5L172.7 523.4L173.4 523.2L174.2 522.9L175 522.4L176 521.7L176.9 521L177.9 520.1L178.9 519.3L179.8 518.4L180.7 517.5L181.7 516.5L182.6 515.5L183.5 514.4L184.3 513.3L185.1 512.2L185.7 511L186.3 509.7L186.9 508.4L187.4 507.1L187.8 505.8L188.3 504.5L188.7 503.2L189.1 502L189.4 500.7L189.8 499.5L190.1 498.1L190.4 496.8L190.7 495.4L191 494.1L191.3 492.8L191.6 491.3L191.8 489.6L192 487.5L192.2 485.1L192.4 482.3L192.6 479.3L192.8 476.1L193 472.7L193.1 469.2L193.3 465.5L193.5 461.5L193.6 457.3L193.8 453.1L194 448.9L194.1 444.9L194.3 440.9L194.4 437L194.6 433.1L194.7 429.3L194.8 425.6L195 422L195.1 418.4L195.3 414.7L195.5 411.2L195.6 407.9L195.8 405L195.9 402.6L196.1 400.7L196.2 399.2L196.3 398.1L196.4 397.4L196.5 396.9L196.6 396.8L196.7 396.9L196.8 397.4L196.9 398.1L197 399.2L197.1 400.7L197.3 402.6L197.4 405L197.6 407.9L197.8 411.2L198 414.7L198.2 418.4L198.3 422L198.4 425.6L198.6 429.4L198.7 433.3L198.8 437.2L198.9 441.1L199 444.9L199.1 448.6L199.3 452.3L199.4 456L199.6 459.6L199.8 463L200 466.2L200.2 469.1L200.5 471.9L200.8 474.5L201 476.9L201.3 479.2L201.6 481.4L201.8 483.3L202.1 485.1L202.3 486.7L202.6 488.3L202.9 489.8L203.2 491.4L203.6 493.1L204 494.9L204.4 496.6L204.9 498.3L205.3 499.9L205.8 501.4L206.2 502.7L206.6 504L207 505.1L207.4 506.2L207.9 507.3L208.5 508.3L209.1 509.4L209.7 510.5L210.4 511.5L211.1 512.5L211.9 513.5L212.7 514.5L213.7 515.4L214.7 516.4L215.7 517.4L216.8 518.3L218 519.1L219.1 519.9L220.3 520.6L221.6 521.3L222.9 521.9L224.1 522.4L225.4 522.9L226.5 523.4L227.5 523.7L228.4 524.1L229.2 524.4L230 524.6L230.9 524.7L232 524.8L233.3 524.7L234.6 524.5L236.1 524.2L237.6 523.9L239.1 523.6L240.6 523.3L242 522.9L243.5 522.5L245 522.1L246.4 521.7L247.9 521.4L249.3 521.2L250.6 521.2L251.8 521.3L253 521.5L254.2 521.8L255.6 522.3L257 522.9L258.6 523.8L260.4 525L262.3 526.3L264.2 527.6L266 528.9L267.6 529.9L269.1 530.8L270.3 531.6L271.5 532.3L272.7 533L274 533.6L275.4 534.2L277.1 534.7L278.9 535.2L280.8 535.6L282.8 536L284.9 536.3L287.1 536.7L289.5 537.1L292.1 537.4L294.8 537.7L297.6 538.1L300.2 538.4L302.6 538.7L304.7 539L306.5 539.2L308.1 539.4L309.9 539.7L311.9 540L314.3 540.5L317.1 541.2L320.4 541.9L323.9 542.8L327.5 543.7L331.1 544.6L331.1 549.2" fill="none" stroke="#000" stroke-width="1.1" stroke-linejoin="round"/>
<path d="M66.7 551.6L67.8 551.8L70.9 551.2L74 550.6L77 550L80.1 549.4L83.2 548.8L86.3 548.1L89.5 547.2L92.7 546.3L96 545.3L99.3 544.3L102.4 543.4L105.2 542.5L107.9 541.6L110.4 540.7L112.8 539.9L115 539.1L117.1 538.3L119.1 537.4L120.8 536.5L122.4 535.6L123.8 534.6L125.1 533.7L126.3 532.7L127.6 531.8L128.9 530.9L130 529.9L131.2 529L132.3 528.1L133.4 527.3L134.6 526.6L135.7 526L136.7 525.5L137.8 525.1L138.9 524.8L140.1 524.5L141.4 524.3L143 524.2L144.6 524.1L146.4 524.1L148.2 524.1L150 524.2L151.8 524.3L153.5 524.5L155.4 524.8L157.2 525.1L159 525.4L160.7 525.7L162.1 525.9L163.4 526L164.4 526.1L165.3 526.1L166.2 526.1L167 526.1L167.8 526L168.5 526L169.2 526L169.9 525.9L170.5 525.8L171.2 525.6L172 525.3L172.8 524.8L173.7 524.1L174.7 523.4L175.7 522.6L176.6 521.7L177.6 520.8L178.5 519.9L179.4 518.9L180.4 517.9L181.3 516.8L182.1 515.7L182.9 514.6L183.5 513.4L184.1 512.1L184.6 510.8L185.1 509.5L185.6 508.2L186 506.9L186.5 505.6L186.9 504.4L187.2 503.1L187.6 501.9L187.9 500.6L188.2 499.2L188.5 497.8L188.8 496.6L189.1 495.2L189.3 493.7L189.6 492L189.8 489.9L190 487.5L190.2 484.7L190.4 481.7L190.6 478.5L190.7 475.1L190.9 471.6L191.1 467.9L191.2 463.9L191.4 459.7L191.6 455.5L191.7 451.3L191.9 447.3L192.1 443.3L192.2 439.4L192.3 435.5L192.5 431.7L192.6 428L192.7 424.4L192.9 420.8L193.1 417.2L193.2 413.6L193.4 410.3L193.6 407.4L193.7 405L193.8 403.1L193.9 401.6L194 400.5L194.1 399.8L194.2 399.3L194.3 399.2L194.4 399.3L194.6 399.8L194.7 400.5L194.8 401.6L194.9 403.1L195 405L195.2 407.4L195.4 410.3L195.6 413.6L195.8 417.2L195.9 420.8L196.1 424.4L196.2 428L196.3 431.8L196.4 435.7L196.5 439.6L196.6 443.5L196.8 447.3L196.9 451L197.1 454.7L197.2 458.4L197.4 462L197.6 465.4L197.8 468.6L198 471.5L198.3 474.3L198.5 476.9L198.8 479.3L199.1 481.6L199.4 483.8L199.6 485.8L199.9 487.5L200.1 489.1L200.4 490.7L200.6 492.2L201 493.8L201.3 495.5L201.7 497.3L202.2 499L202.6 500.7L203.1 502.3L203.6 503.8L204 505.2L204.4 506.4L204.8 507.5L205.2 508.6L205.7 509.7L206.2 510.7L206.8 511.8L207.5 512.9L208.1 513.9L208.9 514.9L209.7 515.9L210.5 516.9L211.4 517.9L212.4 518.8L213.5 519.8L214.6 520.7L215.7 521.5L216.9 522.3L218.1 523L219.3 523.7L220.6 524.3L221.9 524.8L223.1 525.3L224.3 525.8L225.3 526.2L226.1 526.5L227 526.8L227.8 527L228.7 527.1L229.8 527.2L231 527.1L232.4 526.9L233.9 526.7L235.4 526.4L236.9 526L238.3 525.7L239.8 525.4L241.3 524.9L242.8 524.5L244.2 524.1L245.7 523.8L247.1 523.6L248.4 523.7L249.6 523.7L250.8 523.9L252 524.3L253.3 524.7L254.8 525.4L256.4 526.2L258.2 527.4L260.1 528.7L262 530L263.8 531.3L265.4 532.4L266.8 533.2L268.1 534L269.3 534.8L270.4 535.4L271.7 536L273.2 536.6L274.9 537.1L276.7 537.6L278.6 538L280.6 538.4L282.7 538.7L284.9 539.1L287.3 539.5L289.9 539.8L292.6 540.2L295.4 540.5L298 540.8L300.4 541.1L302.4 541.4L304.2 541.6L305.9 541.8L307.6 542.1L309.6 542.5L312 542.9L314.9 543.6L318.2 544.4L321.6 545.2L325.2 546.1L328.8 547L328.8 551.6L66.7 551.6Z" fill="#fff" stroke="none"/>
<path d="M66.7 551.6L67.8 551.8L70.9 551.2L74 550.6L77 550L80.1 549.4L83.2 548.8L86.3 548.1L89.5 547.2L92.7 546.3L96 545.3L99.3 544.3L102.4 543.4L105.2 542.5L107.9 541.6L110.4 540.7L112.8 539.9L115 539.1L117.1 538.3L119.1 537.4L120.8 536.5L122.4 535.6L123.8 534.6L125.1 533.7L126.3 532.7L127.6 531.8L128.9 530.9L130 529.9L131.2 529L132.3 528.1L133.4 527.3L134.6 526.6L135.7 526L136.7 525.5L137.8 525.1L138.9 524.8L140.1 524.5L141.4 524.3L143 524.2L144.6 524.1L146.4 524.1L148.2 524.1L150 524.2L151.8 524.3L153.5 524.5L155.4 524.8L157.2 525.1L159 525.4L160.7 525.7L162.1 525.9L163.4 526L164.4 526.1L165.3 526.1L166.2 526.1L167 526.1L167.8 526L168.5 526L169.2 526L169.9 525.9L170.5 525.8L171.2 525.6L172 525.3L172.8 524.8L173.7 524.1L174.7 523.4L175.7 522.6L176.6 521.7L177.6 520.8L178.5 519.9L179.4 518.9L180.4 517.9L181.3 516.8L182.1 515.7L182.9 514.6L183.5 513.4L184.1 512.1L184.6 510.8L185.1 509.5L185.6 508.2L186 506.9L186.5 505.6L186.9 504.4L187.2 503.1L187.6 501.9L187.9 500.6L188.2 499.2L188.5 497.8L188.8 496.6L189.1 495.2L189.3 493.7L189.6 492L189.8 489.9L190 487.5L190.2 484.7L190.4 481.7L190.6 478.5L190.7 475.1L190.9 471.6L191.1 467.9L191.2 463.9L191.4 459.7L191.6 455.5L191.7 451.3L191.9 447.3L192.1 443.3L192.2 439.4L192.3 435.5L192.5 431.7L192.6 428L192.7 424.4L192.9 420.8L193.1 417.2L193.2 413.6L193.4 410.3L193.6 407.4L193.7 405L193.8 403.1L193.9 401.6L194 400.5L194.1 399.8L194.2 399.3L194.3 399.2L194.4 399.3L194.6 399.8L194.7 400.5L194.8 401.6L194.9 403.1L195 405L195.2 407.4L195.4 410.3L195.6 413.6L195.8 417.2L195.9 420.8L196.1 424.4L196.2 428L196.3 431.8L196.4 435.7L196.5 439.6L196.6 443.5L196.8 447.3L196.9 451L197.1 454.7L197.2 458.4L197.4 462L197.6 465.4L197.8 468.6L198 471.5L198.3 474.3L198.5 476.9L198.8 479.3L199.1 481.6L199.4 483.8L199.6 485.8L199.9 487.5L200.1 489.1L200.4 490.7L200.6 492.2L201 493.8L201.3 495.5L201.7 497.3L202.2 499L202.6 500.7L203.1 502.3L203.6 503.8L204 505.2L204.4 506.4L204.8 507.5L205.2 508.6L205.7 509.7L206.2 510.7L206.8 511.8L207.5 512.9L208.1 513.9L208.9 514.9L209.7 515.9L210.5 516.9L211.4 517.9L212.4 518.8L213.5 519.8L214.6 520.7L215.7 521.5L216.9 522.3L218.1 523L219.3 523.7L220.6 524.3L221.9 524.8L223.1 525.3L224.3 525.8L225.3 526.2L226.1 526.5L227 526.8L227.8 527L228.7 527.1L229.8 527.2L231 527.1L232.4 526.9L233.9 526.7L235.4 526.4L236.9 526L238.3 525.7L239.8 525.4L241.3 524.9L242.8 524.5L244.2 524.1L245.7 523.8L247.1 523.6L248.4 523.7L249.6 523.7L250.8 523.9L252 524.3L253.3 524.7L254.8 525.4L256.4 526.2L258.2 527.4L260.1 528.7L262 530L263.8 531.3L265.4 532.4L266.8 533.2L268.1 534L269.3 534.8L270.4 535.4L271.7 536L273.2 536.6L274.9 537.1L276.7 537.6L278.6 538L280.6 538.4L282.7 538.7L284.9 539.1L287.3 539.5L289.9 539.8L292.6 540.2L295.4 540.5L298 540.8L300.4 541.1L302.4 541.4L304.2 541.6L305.9 541.8L307.6 542.1L309.6 542.5L312 542.9L314.9 543.6L318.2 544.4L321.6 545.2L325.2 546.1L328.8 547L328.8 551.6" fill="none" stroke="#000" stroke-width="1.1" stroke-linejoin="round"/>
<path d="M64.4 554.1L65.6 554.2L68.7 553.6L71.7 553L74.8 552.4L77.9 551.8L81 551.2L84.1 550.5L87.2 549.6L90.5 548.7L93.8 547.8L97 546.8L100.1 545.8L103 544.9L105.7 544L108.2 543.2L110.6 542.3L112.8 541.5L114.9 540.7L116.8 539.8L118.6 538.9L120.1 538L121.5 537L122.8 536.1L124.1 535.1L125.4 534.2L126.6 533.3L127.8 532.3L129 531.4L130.1 530.5L131.2 529.7L132.3 529L133.5 528.4L134.5 527.9L135.6 527.5L136.7 527.2L137.9 526.9L139.2 526.7L140.7 526.6L142.4 526.5L144.2 526.5L146 526.5L147.8 526.6L149.5 526.7L151.3 526.9L153.2 527.2L155 527.5L156.8 527.8L158.5 528.1L159.9 528.3L161.1 528.4L162.2 528.5L163.1 528.5L163.9 528.5L164.7 528.5L165.5 528.4L166.3 528.4L167 528.4L167.6 528.4L168.3 528.3L169 528.1L169.7 527.7L170.6 527.2L171.5 526.6L172.5 525.8L173.4 525L174.4 524.1L175.3 523.2L176.3 522.3L177.2 521.3L178.1 520.3L179 519.2L179.9 518.1L180.6 517L181.3 515.8L181.9 514.6L182.4 513.3L182.9 511.9L183.4 510.6L183.8 509.3L184.2 508.1L184.6 506.8L185 505.6L185.3 504.3L185.7 503L186 501.6L186.3 500.3L186.6 499L186.9 497.6L187.1 496.2L187.4 494.4L187.6 492.4L187.8 489.9L188 487.1L188.2 484.1L188.3 480.9L188.5 477.5L188.7 474L188.8 470.3L189 466.3L189.2 462.2L189.4 457.9L189.5 453.7L189.7 449.7L189.8 445.8L190 441.8L190.1 437.9L190.2 434.1L190.4 430.4L190.5 426.8L190.7 423.2L190.8 419.6L191 416L191.2 412.7L191.3 409.8L191.5 407.4L191.6 405.5L191.7 404L191.8 402.9L191.9 402.2L192 401.8L192.1 401.6L192.2 401.8L192.3 402.2L192.4 402.9L192.6 404L192.7 405.5L192.8 407.4L193 409.8L193.2 412.7L193.3 416L193.5 419.6L193.7 423.2L193.9 426.8L194 430.4L194.1 434.2L194.2 438.1L194.3 442.1L194.4 445.9L194.5 449.7L194.7 453.4L194.8 457.1L195 460.8L195.2 464.4L195.3 467.8L195.5 471L195.8 473.9L196 476.7L196.3 479.3L196.6 481.7L196.9 484L197.1 486.2L197.4 488.2L197.6 489.9L197.9 491.6L198.1 493.1L198.4 494.6L198.7 496.2L199.1 498L199.5 499.7L200 501.4L200.4 503.1L200.9 504.7L201.3 506.2L201.8 507.6L202.2 508.8L202.6 509.9L203 511L203.5 512.1L204 513.2L204.6 514.2L205.2 515.3L205.9 516.3L206.6 517.3L207.4 518.3L208.3 519.3L209.2 520.3L210.2 521.2L211.3 522.2L212.4 523.1L213.5 523.9L214.7 524.7L215.9 525.4L217.1 526.1L218.4 526.7L219.7 527.3L220.9 527.8L222 528.2L223 528.6L223.9 528.9L224.7 529.2L225.6 529.4L226.5 529.6L227.6 529.6L228.8 529.5L230.2 529.3L231.6 529.1L233.1 528.8L234.7 528.4L236.1 528.1L237.6 527.8L239.1 527.4L240.5 526.9L242 526.5L243.4 526.2L244.8 526.1L246.1 526.1L247.4 526.2L248.6 526.4L249.8 526.7L251.1 527.1L252.6 527.8L254.2 528.7L256 529.8L257.9 531.1L259.8 532.4L261.6 533.7L263.2 534.8L264.6 535.7L265.9 536.5L267 537.2L268.2 537.8L269.5 538.5L271 539L272.7 539.6L274.4 540L276.3 540.4L278.3 540.8L280.4 541.2L282.6 541.5L285.1 541.9L287.7 542.2L290.4 542.6L293.1 542.9L295.7 543.2L298.2 543.5L300.2 543.8L302 544L303.7 544.3L305.4 544.5L307.4 544.9L309.8 545.4L312.7 546L315.9 546.8L319.4 547.6L323 548.5L326.6 549.4L326.6 554.1L64.4 554.1Z" fill="#fff" stroke="none"/>
<path d="M64.4 554.1L65.6 554.2L68.7 553.6L71.7 553L74.8 552.4L77.9 551.8L81 551.2L84.1 550.5L87.2 549.6L90.5 548.7L93.8 547.8L97 546.8L100.1 545.8L103 544.9L105.7 544L108.2 543.2L110.6 542.3L112.8 541.5L114.9 540.7L116.8 539.8L118.6 538.9L120.1 538L121.5 537L122.8 536.1L124.1 535.1L125.4 534.2L126.6 533.3L127.8 532.3L129 531.4L130.1 530.5L131.2 529.7L132.3 529L133.5 528.4L134.5 527.9L135.6 527.5L136.7 527.2L137.9 526.9L139.2 526.7L140.7 526.6L142.4 526.5L144.2 526.5L146 526.5L147.8 526.6L149.5 526.7L151.3 526.9L153.2 527.2L155 527.5L156.8 527.8L158.5 528.1L159.9 528.3L161.1 528.4L162.2 528.5L163.1 528.5L163.9 528.5L164.7 528.5L165.5 528.4L166.3 528.4L167 528.4L167.6 528.4L168.3 528.3L169 528.1L169.7 527.7L170.6 527.2L171.5 526.6L172.5 525.8L173.4 525L174.4 524.1L175.3 523.2L176.3 522.3L177.2 521.3L178.1 520.3L179 519.2L179.9 518.1L180.6 517L181.3 515.8L181.9 514.6L182.4 513.3L182.9 511.9L183.4 510.6L183.8 509.3L184.2 508.1L184.6 506.8L185 505.6L185.3 504.3L185.7 503L186 501.6L186.3 500.3L186.6 499L186.9 497.6L187.1 496.2L187.4 494.4L187.6 492.4L187.8 489.9L188 487.1L188.2 484.1L188.3 480.9L188.5 477.5L188.7 474L188.8 470.3L189 466.3L189.2 462.2L189.4 457.9L189.5 453.7L189.7 449.7L189.8 445.8L190 441.8L190.1 437.9L190.2 434.1L190.4 430.4L190.5 426.8L190.7 423.2L190.8 419.6L191 416L191.2 412.7L191.3 409.8L191.5 407.4L191.6 405.5L191.7 404L191.8 402.9L191.9 402.2L192 401.8L192.1 401.6L192.2 401.8L192.3 402.2L192.4 402.9L192.6 404L192.7 405.5L192.8 407.4L193 409.8L193.2 412.7L193.3 416L193.5 419.6L193.7 423.2L193.9 426.8L194 430.4L194.1 434.2L194.2 438.1L194.3 442.1L194.4 445.9L194.5 449.7L194.7 453.4L194.8 457.1L195 460.8L195.2 464.4L195.3 467.8L195.5 471L195.8 473.9L196 476.7L196.3 479.3L196.6 481.7L196.9 484L197.1 486.2L197.4 488.2L197.6 489.9L197.9 491.6L198.1 493.1L198.4 494.6L198.7 496.2L199.1 498L199.5 499.7L200 501.4L200.4 503.1L200.9 504.7L201.3 506.2L201.8 507.6L202.2 508.8L202.6 509.9L203 511L203.5 512.1L204 513.2L204.6 514.2L205.2 515.3L205.9 516.3L206.6 517.3L207.4 518.3L208.3 519.3L209.2 520.3L210.2 521.2L211.3 522.2L212.4 523.1L213.5 523.9L214.7 524.7L215.9 525.4L217.1 526.1L218.4 526.7L219.7 527.3L220.9 527.8L222 528.2L223 528.6L223.9 528.9L224.7 529.2L225.6 529.4L226.5 529.6L227.6 529.6L228.8 529.5L230.2 529.3L231.6 529.1L233.1 528.8L234.7 528.4L236.1 528.1L237.6 527.8L239.1 527.4L240.5 526.9L242 526.5L243.4 526.2L244.8 526.1L246.1 526.1L247.4 526.2L248.6 526.4L249.8 526.7L251.1 527.1L252.6 527.8L254.2 528.7L256 529.8L257.9 531.1L259.8 532.4L261.6 533.7L263.2 534.8L264.6 535.7L265.9 536.5L267 537.2L268.2 537.8L269.5 538.5L271 539L272.7 539.6L274.4 540L276.3 540.4L278.3 540.8L280.4 541.2L282.6 541.5L285.1 541.9L287.7 542.2L290.4 542.6L293.1 542.9L295.7 543.2L298.2 543.5L300.2 543.8L302 544L303.7 544.3L305.4 544.5L307.4 544.9L309.8 545.4L312.7 546L315.9 546.8L319.4 547.6L323 548.5L326.6 549.4L326.6 554.1" fill="none" stroke="#000" stroke-width="1.1" stroke-linejoin="round"/>
<path d="M62 556.5L63.4 556.6L66.5 556L69.5 555.4L72.6 554.9L75.6 554.3L78.7 553.6L81.8 552.9L85 552.1L88.3 551.1L91.6 550.2L94.8 549.2L97.9 548.2L100.8 547.3L103.4 546.4L106 545.6L108.3 544.8L110.6 543.9L112.7 543.1L114.6 542.2L116.4 541.3L117.9 540.4L119.3 539.4L120.6 538.5L121.9 537.6L123.2 536.6L124.4 535.7L125.6 534.8L126.7 533.8L127.9 532.9L129 532.1L130.1 531.4L131.2 530.8L132.3 530.3L133.3 530L134.4 529.6L135.6 529.4L137 529.2L138.5 529L140.2 528.9L141.9 528.9L143.7 529L145.5 529L147.3 529.2L149.1 529.3L150.9 529.6L152.8 529.9L154.6 530.3L156.2 530.5L157.7 530.7L158.9 530.8L160 530.9L160.9 530.9L161.7 530.9L162.5 530.9L163.3 530.9L164.1 530.8L164.8 530.8L165.4 530.8L166.1 530.7L166.7 530.5L167.5 530.1L168.4 529.6L169.3 529L170.2 528.2L171.2 527.4L172.2 526.5L173.1 525.6L174 524.7L175 523.7L175.9 522.7L176.8 521.7L177.6 520.6L178.4 519.4L179.1 518.2L179.7 517L180.2 515.7L180.7 514.4L181.1 513L181.6 511.7L182 510.5L182.4 509.2L182.8 508L183.1 506.7L183.4 505.4L183.8 504L184.1 502.7L184.4 501.4L184.6 500.1L184.9 498.6L185.1 496.9L185.4 494.8L185.6 492.3L185.8 489.6L185.9 486.6L186.1 483.3L186.3 480L186.4 476.5L186.6 472.7L186.8 468.7L187 464.6L187.1 460.3L187.3 456.2L187.5 452.1L187.6 448.2L187.7 444.3L187.9 440.4L188 436.5L188.1 432.8L188.3 429.2L188.5 425.6L188.6 422L188.8 418.5L189 415.2L189.1 412.2L189.3 409.8L189.4 407.9L189.5 406.5L189.6 405.4L189.7 404.6L189.8 404.2L189.9 404L190 404.2L190.1 404.6L190.2 405.4L190.3 406.5L190.5 407.9L190.6 409.8L190.8 412.2L190.9 415.2L191.1 418.5L191.3 422L191.5 425.6L191.6 429.2L191.8 432.9L191.9 436.7L192 440.6L192.1 444.5L192.2 448.4L192.3 452.1L192.5 455.8L192.6 459.6L192.8 463.2L192.9 466.8L193.1 470.2L193.3 473.4L193.6 476.4L193.8 479.1L194.1 481.7L194.4 484.2L194.6 486.5L194.9 488.6L195.2 490.6L195.4 492.4L195.6 494L195.9 495.5L196.2 497.1L196.5 498.7L196.9 500.4L197.3 502.1L197.7 503.8L198.2 505.5L198.7 507.2L199.1 508.6L199.5 510L199.9 511.2L200.3 512.4L200.8 513.4L201.2 514.5L201.8 515.6L202.4 516.7L203 517.7L203.7 518.8L204.4 519.8L205.2 520.8L206.1 521.7L207 522.7L208 523.7L209.1 524.6L210.2 525.5L211.3 526.4L212.4 527.1L213.6 527.9L214.9 528.5L216.2 529.1L217.5 529.7L218.7 530.2L219.8 530.6L220.8 531L221.7 531.3L222.5 531.6L223.3 531.8L224.3 532L225.3 532L226.6 531.9L228 531.8L229.4 531.5L230.9 531.2L232.4 530.9L233.9 530.6L235.4 530.2L236.8 529.8L238.3 529.3L239.8 528.9L241.2 528.6L242.6 528.5L243.9 528.5L245.1 528.6L246.3 528.8L247.6 529.1L248.9 529.6L250.3 530.2L252 531.1L253.8 532.2L255.6 533.5L257.5 534.9L259.3 536.1L261 537.2L262.4 538.1L263.6 538.9L264.8 539.6L266 540.3L267.3 540.9L268.8 541.4L270.4 542L272.2 542.4L274.1 542.8L276.1 543.2L278.2 543.6L280.4 543.9L282.8 544.3L285.4 544.7L288.2 545L290.9 545.3L293.5 545.6L295.9 545.9L298 546.2L299.8 546.5L301.5 546.7L303.2 546.9L305.2 547.3L307.6 547.8L310.5 548.4L313.7 549.2L317.2 550L320.8 550.9L324.4 551.8L324.4 556.5L62 556.5Z" fill="#fff" stroke="none"/>
<path d="M62 556.5L63.4 556.6L66.5 556L69.5 555.4L72.6 554.9L75.6 554.3L78.7 553.6L81.8 552.9L85 552.1L88.3 551.1L91.6 550.2L94.8 549.2L97.9 548.2L100.8 547.3L103.4 546.4L106 545.6L108.3 544.8L110.6 543.9L112.7 543.1L114.6 542.2L116.4 541.3L117.9 540.4L119.3 539.4L120.6 538.5L121.9 537.6L123.2 536.6L124.4 535.7L125.6 534.8L126.7 533.8L127.9 532.9L129 532.1L130.1 531.4L131.2 530.8L132.3 530.3L133.3 530L134.4 529.6L135.6 529.4L137 529.2L138.5 529L140.2 528.9L141.9 528.9L143.7 529L145.5 529L147.3 529.2L149.1 529.3L150.9 529.6L152.8 529.9L154.6 530.3L156.2 530.5L157.7 530.7L158.9 530.8L160 530.9L160.9 530.9L161.7 530.9L162.5 530.9L163.3 530.9L164.1 530.8L164.8 530.8L165.4 530.8L166.1 530.7L166.7 530.5L167.5 530.1L168.4 529.6L169.3 529L170.2 528.2L171.2 527.4L172.2 526.5L173.1 525.6L174 524.7L175 523.7L175.9 522.7L176.8 521.7L177.6 520.6L178.4 519.4L179.1 518.2L179.7 517L180.2 515.7L180.7 514.4L181.1 513L181.6 511.7L182 510.5L182.4 509.2L182.8 508L183.1 506.7L183.4 505.4L183.8 504L184.1 502.7L184.4 501.4L184.6 500.1L184.9 498.6L185.1 496.9L185.4 494.8L185.6 492.3L185.8 489.6L185.9 486.6L186.1 483.3L186.3 480L186.4 476.5L186.6 472.7L186.8 468.7L187 464.6L187.1 460.3L187.3 456.2L187.5 452.1L187.6 448.2L187.7 444.3L187.9 440.4L188 436.5L188.1 432.8L188.3 429.2L188.5 425.6L188.6 422L188.8 418.5L189 415.2L189.1 412.2L189.3 409.8L189.4 407.9L189.5 406.5L189.6 405.4L189.7 404.6L189.8 404.2L189.9 404L190 404.2L190.1 404.6L190.2 405.4L190.3 406.5L190.5 407.9L190.6 409.8L190.8 412.2L190.9 415.2L191.1 418.5L191.3 422L191.5 425.6L191.6 429.2L191.8 432.9L191.9 436.7L192 440.6L192.1 444.5L192.2 448.4L192.3 452.1L192.5 455.8L192.6 459.6L192.8 463.2L192.9 466.8L193.1 470.2L193.3 473.4L193.6 476.4L193.8 479.1L194.1 481.7L194.4 484.2L194.6 486.5L194.9 488.6L195.2 490.6L195.4 492.4L195.6 494L195.9 495.5L196.2 497.1L196.5 498.7L196.9 500.4L197.3 502.1L197.7 503.8L198.2 505.5L198.7 507.2L199.1 508.6L199.5 510L199.9 511.2L200.3 512.4L200.8 513.4L201.2 514.5L201.8 515.6L202.4 516.7L203 517.7L203.7 518.8L204.4 519.8L205.2 520.8L206.1 521.7L207 522.7L208 523.7L209.1 524.6L210.2 525.5L211.3 526.4L212.4 527.1L213.6 527.9L214.9 528.5L216.2 529.1L217.5 529.7L218.7 530.2L219.8 530.6L220.8 531L221.7 531.3L222.5 531.6L223.3 531.8L224.3 532L225.3 532L226.6 531.9L228 531.8L229.4 531.5L230.9 531.2L232.4 530.9L233.9 530.6L235.4 530.2L236.8 529.8L238.3 529.3L239.8 528.9L241.2 528.6L242.6 528.5L243.9 528.5L245.1 528.6L246.3 528.8L247.6 529.1L248.9 529.6L250.3 530.2L252 531.1L253.8 532.2L255.6 533.5L257.5 534.9L259.3 536.1L261 537.2L262.4 538.1L263.6 538.9L264.8 539.6L266 540.3L267.3 540.9L268.8 541.4L270.4 542L272.2 542.4L274.1 542.8L276.1 543.2L278.2 543.6L280.4 543.9L282.8 544.3L285.4 544.7L288.2 545L290.9 545.3L293.5 545.6L295.9 545.9L298 546.2L299.8 546.5L301.5 546.7L303.2 546.9L305.2 547.3L307.6 547.8L310.5 548.4L313.7 549.2L317.2 550L320.8 550.9L324.4 551.8L324.4 556.5" fill="none" stroke="#000" stroke-width="1.1" stroke-linejoin="round"/>
<path d="M59.7 558.9L61.2 559L64.2 558.4L67.3 557.8L70.4 557.3L73.4 556.7L76.5 556L79.6 555.3L82.8 554.5L86.1 553.6L89.4 552.6L92.6 551.6L95.7 550.6L98.6 549.7L101.2 548.8L103.7 548L106.1 547.2L108.4 546.4L110.4 545.5L112.4 544.7L114.1 543.7L115.7 542.8L117.1 541.9L118.4 540.9L119.7 540L120.9 539.1L122.2 538.1L123.4 537.2L124.5 536.2L125.6 535.3L126.8 534.5L127.9 533.8L129 533.2L130.1 532.8L131.1 532.4L132.2 532L133.4 531.8L134.8 531.6L136.3 531.4L137.9 531.3L139.7 531.3L141.5 531.4L143.3 531.5L145.1 531.6L146.9 531.8L148.7 532L150.6 532.4L152.4 532.7L154 533L155.5 533.2L156.7 533.3L157.7 533.3L158.7 533.4L159.5 533.4L160.3 533.3L161.1 533.3L161.9 533.2L162.5 533.2L163.2 533.2L163.8 533.1L164.5 532.9L165.3 532.5L166.1 532L167.1 531.4L168 530.6L169 529.8L170 528.9L170.9 528L171.8 527.1L172.8 526.2L173.7 525.1L174.6 524.1L175.4 523L176.2 521.8L176.8 520.6L177.4 519.4L178 518.1L178.5 516.8L178.9 515.5L179.4 514.2L179.8 512.9L180.2 511.7L180.6 510.4L180.9 509.1L181.2 507.8L181.5 506.4L181.8 505.1L182.1 503.8L182.4 502.5L182.7 501L182.9 499.3L183.1 497.2L183.3 494.7L183.5 492L183.7 489L183.9 485.8L184.1 482.4L184.2 478.9L184.4 475.1L184.6 471.2L184.7 467L184.9 462.8L185.1 458.6L185.2 454.5L185.4 450.6L185.5 446.7L185.7 442.8L185.8 439L185.9 435.2L186.1 431.7L186.2 428.1L186.4 424.4L186.6 420.9L186.7 417.6L186.9 414.6L187 412.2L187.2 410.4L187.3 408.9L187.4 407.8L187.5 407L187.6 406.6L187.7 406.5L187.8 406.6L187.9 407L188 407.8L188.1 408.9L188.2 410.4L188.4 412.2L188.5 414.6L188.7 417.6L188.9 420.9L189.1 424.4L189.3 428.1L189.4 431.7L189.6 435.3L189.7 439.1L189.8 443L189.9 446.9L190 450.8L190.1 454.5L190.2 458.2L190.4 462L190.5 465.7L190.7 469.2L190.9 472.6L191.1 475.8L191.3 478.8L191.6 481.5L191.9 484.1L192.1 486.6L192.4 488.9L192.7 491L192.9 493L193.2 494.8L193.4 496.4L193.7 497.9L194 499.5L194.3 501.1L194.7 502.8L195.1 504.5L195.5 506.3L196 508L196.4 509.6L196.9 511.1L197.3 512.4L197.7 513.6L198.1 514.8L198.5 515.9L199 516.9L199.6 518L200.2 519.1L200.8 520.1L201.5 521.2L202.2 522.2L203 523.2L203.8 524.1L204.8 525.1L205.8 526.1L206.8 527L207.9 527.9L209.1 528.8L210.2 529.6L211.4 530.3L212.7 530.9L214 531.5L215.2 532.1L216.5 532.6L217.6 533L218.6 533.4L219.5 533.8L220.3 534L221.1 534.3L222 534.4L223.1 534.4L224.4 534.4L225.7 534.2L227.2 533.9L228.7 533.6L230.2 533.3L231.7 533L233.1 532.6L234.6 532.2L236.1 531.7L237.6 531.3L239 531L240.4 530.9L241.7 530.9L242.9 531L244.1 531.2L245.4 531.5L246.7 532L248.1 532.6L249.7 533.5L251.5 534.6L253.4 535.9L255.3 537.3L257.1 538.5L258.7 539.6L260.2 540.5L261.4 541.3L262.6 542L263.8 542.7L265.1 543.3L266.5 543.9L268.2 544.4L270 544.8L271.9 545.3L273.9 545.6L276 546L278.2 546.4L280.6 546.7L283.2 547.1L285.9 547.4L288.7 547.7L291.3 548L293.7 548.4L295.8 548.6L297.6 548.9L299.2 549.1L301 549.4L303 549.7L305.4 550.2L308.2 550.8L311.5 551.6L315 552.5L318.6 553.4L322.2 554.3L322.2 558.9L59.7 558.9Z" fill="#fff" stroke="none"/>
<path d="M59.7 558.9L61.2 559L64.2 558.4L67.3 557.8L70.4 557.3L73.4 556.7L76.5 556L79.6 555.3L82.8 554.5L86.1 553.6L89.4 552.6L92.6 551.6L95.7 550.6L98.6 549.7L101.2 548.8L103.7 548L106.1 547.2L108.4 546.4L110.4 545.5L112.4 544.7L114.1 543.7L115.7 542.8L117.1 541.9L118.4 540.9L119.7 540L120.9 539.1L122.2 538.1L123.4 537.2L124.5 536.2L125.6 535.3L126.8 534.5L127.9 533.8L129 533.2L130.1 532.8L131.1 532.4L132.2 532L133.4 531.8L134.8 531.6L136.3 531.4L137.9 531.3L139.7 531.3L141.5 531.4L143.3 531.5L145.1 531.6L146.9 531.8L148.7 532L150.6 532.4L152.4 532.7L154 533L155.5 533.2L156.7 533.3L157.7 533.3L158.7 533.4L159.5 533.4L160.3 533.3L161.1 533.3L161.9 533.2L162.5 533.2L163.2 533.2L163.8 533.1L164.5 532.9L165.3 532.5L166.1 532L167.1 531.4L168 530.6L169 529.8L170 528.9L170.9 528L171.8 527.1L172.8 526.2L173.7 525.1L174.6 524.1L175.4 523L176.2 521.8L176.8 520.6L177.4 519.4L178 518.1L178.5 516.8L178.9 515.5L179.4 514.2L179.8 512.9L180.2 511.7L180.6 510.4L180.9 509.1L181.2 507.8L181.5 506.4L181.8 505.1L182.1 503.8L182.4 502.5L182.7 501L182.9 499.3L183.1 497.2L183.3 494.7L183.5 492L183.7 489L183.9 485.8L184.1 482.4L184.2 478.9L184.4 475.1L184.6 471.2L184.7 467L184.9 462.8L185.1 458.6L185.2 454.5L185.4 450.6L185.5 446.7L185.7 442.8L185.8 439L185.9 435.2L186.1 431.7L186.2 428.1L186.4 424.4L186.6 420.9L186.7 417.6L186.9 414.6L187 412.2L187.2 410.4L187.3 408.9L187.4 407.8L187.5 407L187.6 406.6L187.7 406.5L187.8 406.6L187.9 407L188 407.8L188.1 408.9L188.2 410.4L188.4 412.2L188.5 414.6L188.7 417.6L188.9 420.9L189.1 424.4L189.3 428.1L189.4 431.7L189.6 435.3L189.7 439.1L189.8 443L189.9 446.9L190 450.8L190.1 454.5L190.2 458.2L190.4 462L190.5 465.7L190.7 469.2L190.9 472.6L191.1 475.8L191.3 478.8L191.6 481.5L191.9 484.1L192.1 486.6L192.4 488.9L192.7 491L192.9 493L193.2 494.8L193.4 496.4L193.7 497.9L194 499.5L194.3 501.1L194.7 502.8L195.1 504.5L195.5 506.3L196 508L196.4 509.6L196.9 511.1L197.3 512.4L197.7 513.6L198.1 514.8L198.5 515.9L199 516.9L199.6 518L200.2 519.1L200.8 520.1L201.5 521.2L202.2 522.2L203 523.2L203.8 524.1L204.8 525.1L205.8 526.1L206.8 527L207.9 527.9L209.1 528.8L210.2 529.6L211.4 530.3L212.7 530.9L214 531.5L215.2 532.1L216.5 532.6L217.6 533L218.6 533.4L219.5 533.8L220.3 534L221.1 534.3L222 534.4L223.1 534.4L224.4 534.4L225.7 534.2L227.2 533.9L228.7 533.6L230.2 533.3L231.7 533L233.1 532.6L234.6 532.2L236.1 531.7L237.6 531.3L239 531L240.4 530.9L241.7 530.9L242.9 531L244.1 531.2L245.4 531.5L246.7 532L248.1 532.6L249.7 533.5L251.5 534.6L253.4 535.9L255.3 537.3L257.1 538.5L258.7 539.6L260.2 540.5L261.4 541.3L262.6 542L263.8 542.7L265.1 543.3L266.5 543.9L268.2 544.4L270 544.8L271.9 545.3L273.9 545.6L276 546L278.2 546.4L280.6 546.7L283.2 547.1L285.9 547.4L288.7 547.7L291.3 548L293.7 548.4L295.8 548.6L297.6 548.9L299.2 549.1L301 549.4L303 549.7L305.4 550.2L308.2 550.8L311.5 551.6L315 552.5L318.6 553.4L322.2 554.3L322.2 558.9" fill="none" stroke="#000" stroke-width="1.1" stroke-linejoin="round"/>
<path d="M57.3 561.3L58.9 561.4L62 560.8L65.1 560.3L68.1 559.7L71.2 559.1L74.3 558.4L77.4 557.7L80.6 556.9L83.8 556L87.1 555L90.4 554L93.5 553L96.3 552.1L99 551.3L101.5 550.4L103.9 549.6L106.1 548.8L108.2 547.9L110.2 547.1L111.9 546.2L113.5 545.2L114.9 544.3L116.2 543.3L117.4 542.4L118.7 541.5L120 540.5L121.1 539.6L122.3 538.6L123.4 537.7L124.5 536.9L125.7 536.2L126.8 535.7L127.8 535.2L128.9 534.8L130 534.5L131.2 534.2L132.5 534L134.1 533.8L135.7 533.8L137.5 533.7L139.3 533.8L141.1 533.9L142.9 534L144.6 534.2L146.5 534.5L148.3 534.8L150.1 535.1L151.8 535.4L153.2 535.6L154.5 535.7L155.5 535.7L156.4 535.8L157.3 535.8L158.1 535.7L158.9 535.7L159.6 535.7L160.3 535.7L161 535.6L161.6 535.5L162.3 535.3L163.1 535L163.9 534.4L164.8 533.8L165.8 533.1L166.8 532.2L167.7 531.4L168.7 530.5L169.6 529.5L170.5 528.6L171.5 527.6L172.4 526.5L173.2 525.4L174 524.3L174.6 523.1L175.2 521.8L175.7 520.5L176.2 519.2L176.7 517.9L177.1 516.6L177.6 515.3L178 514.1L178.3 512.8L178.7 511.5L179 510.2L179.3 508.9L179.6 507.5L179.9 506.2L180.2 504.9L180.4 503.4L180.7 501.7L180.9 499.6L181.1 497.1L181.3 494.4L181.5 491.4L181.7 488.2L181.8 484.8L182 481.3L182.2 477.6L182.3 473.6L182.5 469.4L182.7 465.2L182.8 461L183 456.9L183.2 453L183.3 449.1L183.4 445.2L183.6 441.4L183.7 437.7L183.8 434.1L184 430.5L184.2 426.8L184.3 423.3L184.5 420L184.7 417.1L184.8 414.7L184.9 412.8L185 411.3L185.1 410.2L185.2 409.4L185.3 409L185.4 408.9L185.5 409L185.7 409.4L185.8 410.2L185.9 411.3L186 412.8L186.1 414.7L186.3 417.1L186.5 420L186.7 423.3L186.9 426.8L187 430.5L187.2 434.1L187.3 437.7L187.4 441.5L187.5 445.4L187.6 449.3L187.7 453.2L187.9 456.9L188 460.7L188.2 464.4L188.3 468.1L188.5 471.7L188.7 475.1L188.9 478.2L189.1 481.2L189.4 484L189.6 486.6L189.9 489L190.2 491.3L190.5 493.5L190.7 495.4L191 497.2L191.2 498.8L191.5 500.3L191.7 501.9L192.1 503.5L192.4 505.2L192.8 506.9L193.3 508.7L193.7 510.4L194.2 512L194.7 513.5L195.1 514.8L195.5 516L195.9 517.2L196.3 518.3L196.8 519.3L197.3 520.4L197.9 521.5L198.6 522.6L199.2 523.6L200 524.6L200.8 525.6L201.6 526.6L202.5 527.5L203.5 528.5L204.6 529.4L205.7 530.3L206.8 531.2L208 532L209.2 532.7L210.4 533.4L211.7 534L213 534.5L214.2 535L215.4 535.4L216.4 535.8L217.2 536.2L218.1 536.5L218.9 536.7L219.8 536.8L220.9 536.8L222.1 536.8L223.5 536.6L225 536.3L226.5 536L228 535.7L229.4 535.4L230.9 535L232.4 534.6L233.9 534.2L235.3 533.8L236.8 533.5L238.2 533.3L239.5 533.3L240.7 533.4L241.9 533.6L243.1 533.9L244.4 534.4L245.9 535L247.5 535.9L249.3 537.1L251.2 538.4L253.1 539.7L254.9 541L256.5 542L257.9 542.9L259.2 543.7L260.4 544.4L261.5 545.1L262.8 545.7L264.3 546.3L266 546.8L267.8 547.3L269.7 547.7L271.7 548L273.8 548.4L276 548.8L278.4 549.1L281 549.5L283.7 549.8L286.5 550.1L289.1 550.5L291.5 550.8L293.5 551.1L295.3 551.3L297 551.5L298.7 551.8L300.7 552.1L303.1 552.6L306 553.3L309.3 554L312.7 554.9L316.3 555.8L319.9 556.7L319.9 561.3L57.3 561.3Z" fill="#fff" stroke="none"/>
<path d="M57.3 561.3L58.9 561.4L62 560.8L65.1 560.3L68.1 559.7L71.2 559.1L74.3 558.4L77.4 557.7L80.6 556.9L83.8 556L87.1 555L90.4 554L93.5 553L96.3 552.1L99 551.3L101.5 550.4L103.9 549.6L106.1 548.8L108.2 547.9L110.2 547.1L111.9 546.2L113.5 545.2L114.9 544.3L116.2 543.3L117.4 542.4L118.7 541.5L120 540.5L121.1 539.6L122.3 538.6L123.4 537.7L124.5 536.9L125.7 536.2L126.8 535.7L127.8 535.2L128.9 534.8L130 534.5L131.2 534.2L132.5 534L134.1 533.8L135.7 533.8L137.5 533.7L139.3 533.8L141.1 533.9L142.9 534L144.6 534.2L146.5 534.5L148.3 534.8L150.1 535.1L151.8 535.4L153.2 535.6L154.5 535.7L155.5 535.7L156.4 535.8L157.3 535.8L158.1 535.7L158.9 535.7L159.6 535.7L160.3 535.7L161 535.6L161.6 535.5L162.3 535.3L163.1 535L163.9 534.4L164.8 533.8L165.8 533.1L166.8 532.2L167.7 531.4L168.7 530.5L169.6 529.5L170.5 528.6L171.5 527.6L172.4 526.5L173.2 525.4L174 524.3L174.6 523.1L175.2 521.8L175.7 520.5L176.2 519.2L176.7 517.9L177.1 516.6L177.6 515.3L178 514.1L178.3 512.8L178.7 511.5L179 510.2L179.3 508.9L179.6 507.5L179.9 506.2L180.2 504.9L180.4 503.4L180.7 501.7L180.9 499.6L181.1 497.1L181.3 494.4L181.5 491.4L181.7 488.2L181.8 484.8L182 481.3L182.2 477.6L182.3 473.6L182.5 469.4L182.7 465.2L182.8 461L183 456.9L183.2 453L183.3 449.1L183.4 445.2L183.6 441.4L183.7 437.7L183.8 434.1L184 430.5L184.2 426.8L184.3 423.3L184.5 420L184.7 417.1L184.8 414.7L184.9 412.8L185 411.3L185.1 410.2L185.2 409.4L185.3 409L185.4 408.9L185.5 409L185.7 409.4L185.8 410.2L185.9 411.3L186 412.8L186.1 414.7L186.3 417.1L186.5 420L186.7 423.3L186.9 426.8L187 430.5L187.2 434.1L187.3 437.7L187.4 441.5L187.5 445.4L187.6 449.3L187.7 453.2L187.9 456.9L188 460.7L188.2 464.4L188.3 468.1L188.5 471.7L188.7 475.1L188.9 478.2L189.1 481.2L189.4 484L189.6 486.6L189.9 489L190.2 491.3L190.5 493.5L190.7 495.4L191 497.2L191.2 498.8L191.5 500.3L191.7 501.9L192.1 503.5L192.4 505.2L192.8 506.9L193.3 508.7L193.7 510.4L194.2 512L194.7 513.5L195.1 514.8L195.5 516L195.9 517.2L196.3 518.3L196.8 519.3L197.3 520.4L197.9 521.5L198.6 522.6L199.2 523.6L200 524.6L200.8 525.6L201.6 526.6L202.5 527.5L203.5 528.5L204.6 529.4L205.7 530.3L206.8 531.2L208 532L209.2 532.7L210.4 533.4L211.7 534L213 534.5L214.2 535L215.4 535.4L216.4 535.8L217.2 536.2L218.1 536.5L218.9 536.7L219.8 536.8L220.9 536.8L222.1 536.8L223.5 536.6L225 536.3L226.5 536L228 535.7L229.4 535.4L230.9 535L232.4 534.6L233.9 534.2L235.3 533.8L236.8 533.5L238.2 533.3L239.5 533.3L240.7 533.4L241.9 533.6L243.1 533.9L244.4 534.4L245.9 535L247.5 535.9L249.3 537.1L251.2 538.4L253.1 539.7L254.9 541L256.5 542L257.9 542.9L259.2 543.7L260.4 544.4L261.5 545.1L262.8 545.7L264.3 546.3L266 546.8L267.8 547.3L269.7 547.7L271.7 548L273.8 548.4L276 548.8L278.4 549.1L281 549.5L283.7 549.8L286.5 550.1L289.1 550.5L291.5 550.8L293.5 551.1L295.3 551.3L297 551.5L298.7 551.8L300.7 552.1L303.1 552.6L306 553.3L309.3 554L312.7 554.9L316.3 555.8L319.9 556.7L319.9 561.3" fill="none" stroke="#000" stroke-width="1.1" stroke-linejoin="round"/>
<path d="M55 563.7L56.7 563.8L59.8 563.3L62.8 562.7L65.9 562.1L69 561.5L72.1 560.9L75.2 560.1L78.3 559.3L81.6 558.4L84.9 557.4L88.1 556.4L91.2 555.5L94.1 554.5L96.8 553.7L99.3 552.8L101.7 552L103.9 551.2L106 550.4L107.9 549.5L109.7 548.6L111.2 547.6L112.6 546.7L113.9 545.7L115.2 544.8L116.5 543.9L117.7 543L118.9 542L120.1 541.1L121.2 540.2L122.3 539.4L123.4 538.7L124.6 538.1L125.6 537.6L126.7 537.2L127.8 536.9L129 536.6L130.3 536.4L131.8 536.3L133.5 536.2L135.3 536.2L137.1 536.2L138.9 536.3L140.6 536.4L142.4 536.6L144.3 536.9L146.1 537.2L147.9 537.5L149.6 537.8L151 538L152.3 538.1L153.3 538.2L154.2 538.2L155 538.2L155.8 538.2L156.6 538.1L157.4 538.1L158.1 538.1L158.7 538L159.4 537.9L160.1 537.7L160.8 537.4L161.7 536.9L162.6 536.2L163.6 535.5L164.5 534.6L165.5 533.8L166.4 532.9L167.4 532L168.3 531L169.2 530L170.1 528.9L171 527.8L171.7 526.7L172.4 525.5L173 524.2L173.5 522.9L174 521.6L174.5 520.3L174.9 519L175.3 517.7L175.7 516.5L176.1 515.2L176.4 514L176.8 512.6L177.1 511.3L177.4 509.9L177.7 508.6L178 507.3L178.2 505.8L178.5 504.1L178.7 502L178.9 499.6L179.1 496.8L179.3 493.8L179.4 490.6L179.6 487.2L179.8 483.7L179.9 480L180.1 476L180.3 471.8L180.5 467.6L180.6 463.4L180.8 459.4L180.9 455.4L181.1 451.5L181.2 447.6L181.3 443.8L181.5 440.1L181.6 436.5L181.8 432.9L181.9 429.3L182.1 425.7L182.3 422.4L182.4 419.5L182.6 417.1L182.7 415.2L182.8 413.7L182.9 412.6L183 411.9L183.1 411.4L183.2 411.3L183.3 411.4L183.4 411.9L183.5 412.6L183.7 413.7L183.8 415.2L183.9 417.1L184.1 419.5L184.3 422.4L184.5 425.7L184.6 429.3L184.8 432.9L185 436.5L185.1 440.1L185.2 443.9L185.3 447.8L185.4 451.7L185.5 455.6L185.6 459.4L185.8 463.1L185.9 466.8L186.1 470.5L186.3 474.1L186.4 477.5L186.6 480.7L186.9 483.6L187.1 486.4L187.4 489L187.7 491.4L188 493.7L188.2 495.9L188.5 497.9L188.7 499.6L189 501.2L189.2 502.8L189.5 504.3L189.8 505.9L190.2 507.6L190.6 509.4L191.1 511.1L191.5 512.8L192 514.4L192.4 515.9L192.9 517.2L193.3 518.5L193.7 519.6L194.1 520.7L194.6 521.8L195.1 522.8L195.7 523.9L196.3 525L197 526L197.8 527L198.5 528L199.4 529L200.3 529.9L201.3 530.9L202.4 531.9L203.5 532.8L204.6 533.6L205.8 534.4L207 535.1L208.2 535.8L209.5 536.4L210.8 536.9L212 537.4L213.1 537.9L214.1 538.3L215 538.6L215.8 538.9L216.7 539.1L217.6 539.2L218.7 539.3L219.9 539.2L221.3 539L222.7 538.8L224.2 538.4L225.8 538.1L227.2 537.8L228.7 537.5L230.2 537L231.6 536.6L233.1 536.2L234.5 535.9L235.9 535.7L237.2 535.7L238.5 535.8L239.7 536L240.9 536.3L242.2 536.8L243.7 537.4L245.3 538.3L247.1 539.5L249 540.8L250.9 542.1L252.7 543.4L254.3 544.4L255.7 545.3L257 546.1L258.1 546.8L259.3 547.5L260.6 548.1L262.1 548.7L263.8 549.2L265.5 549.7L267.4 550.1L269.4 550.5L271.5 550.8L273.7 551.2L276.2 551.6L278.8 551.9L281.5 552.2L284.2 552.6L286.8 552.9L289.3 553.2L291.3 553.5L293.1 553.7L294.8 553.9L296.5 554.2L298.5 554.5L300.9 555L303.8 555.7L307 556.4L310.5 557.3L314.1 558.2L317.7 559.1L317.7 563.7L55 563.7Z" fill="#fff" stroke="none"/>
<path d="M55 563.7L56.7 563.8L59.8 563.3L62.8 562.7L65.9 562.1L69 561.5L72.1 560.9L75.2 560.1L78.3 559.3L81.6 558.4L84.9 557.4L88.1 556.4L91.2 555.5L94.1 554.5L96.8 553.7L99.3 552.8L101.7 552L103.9 551.2L106 550.4L107.9 549.5L109.7 548.6L111.2 547.6L112.6 546.7L113.9 545.7L115.2 544.8L116.5 543.9L117.7 543L118.9 542L120.1 541.1L121.2 540.2L122.3 539.4L123.4 538.7L124.6 538.1L125.6 537.6L126.7 537.2L127.8 536.9L129 536.6L130.3 536.4L131.8 536.3L133.5 536.2L135.3 536.2L137.1 536.2L138.9 536.3L140.6 536.4L142.4 536.6L144.3 536.9L146.1 537.2L147.9 537.5L149.6 537.8L151 538L152.3 538.1L153.3 538.2L154.2 538.2L155 538.2L155.8 538.2L156.6 538.1L157.4 538.1L158.1 538.1L158.7 538L159.4 537.9L160.1 537.7L160.8 537.4L161.7 536.9L162.6 536.2L163.6 535.5L164.5 534.6L165.5 533.8L166.4 532.9L167.4 532L168.3 531L169.2 530L170.1 528.9L171 527.8L171.7 526.7L172.4 525.5L173 524.2L173.5 522.9L174 521.6L174.5 520.3L174.9 519L175.3 517.7L175.7 516.5L176.1 515.2L176.4 514L176.8 512.6L177.1 511.3L177.4 509.9L177.7 508.6L178 507.3L178.2 505.8L178.5 504.1L178.7 502L178.9 499.6L179.1 496.8L179.3 493.8L179.4 490.6L179.6 487.2L179.8 483.7L179.9 480L180.1 476L180.3 471.8L180.5 467.6L180.6 463.4L180.8 459.4L180.9 455.4L181.1 451.5L181.2 447.6L181.3 443.8L181.5 440.1L181.6 436.5L181.8 432.9L181.9 429.3L182.1 425.7L182.3 422.4L182.4 419.5L182.6 417.1L182.7 415.2L182.8 413.7L182.9 412.6L183 411.9L183.1 411.4L183.2 411.3L183.3 411.4L183.4 411.9L183.5 412.6L183.7 413.7L183.8 415.2L183.9 417.1L184.1 419.5L184.3 422.4L184.5 425.7L184.6 429.3L184.8 432.9L185 436.5L185.1 440.1L185.2 443.9L185.3 447.8L185.4 451.7L185.5 455.6L185.6 459.4L185.8 463.1L185.9 466.8L186.1 470.5L186.3 474.1L186.4 477.5L186.6 480.7L186.9 483.6L187.1 486.4L187.4 489L187.7 491.4L188 493.7L188.2 495.9L188.5 497.9L188.7 499.6L189 501.2L189.2 502.8L189.5 504.3L189.8 505.9L190.2 507.6L190.6 509.4L191.1 511.1L191.5 512.8L192 514.4L192.4 515.9L192.9 517.2L193.3 518.5L193.7 519.6L194.1 520.7L194.6 521.8L195.1 522.8L195.7 523.9L196.3 525L197 526L197.8 527L198.5 528L199.4 529L200.3 529.9L201.3 530.9L202.4 531.9L203.5 532.8L204.6 533.6L205.8 534.4L207 535.1L208.2 535.8L209.5 536.4L210.8 536.9L212 537.4L213.1 537.9L214.1 538.3L215 538.6L215.8 538.9L216.7 539.1L217.6 539.2L218.7 539.3L219.9 539.2L221.3 539L222.7 538.8L224.2 538.4L225.8 538.1L227.2 537.8L228.7 537.5L230.2 537L231.6 536.6L233.1 536.2L234.5 535.9L235.9 535.7L237.2 535.7L238.5 535.8L239.7 536L240.9 536.3L242.2 536.8L243.7 537.4L245.3 538.3L247.1 539.5L249 540.8L250.9 542.1L252.7 543.4L254.3 544.4L255.7 545.3L257 546.1L258.1 546.8L259.3 547.5L260.6 548.1L262.1 548.7L263.8 549.2L265.5 549.7L267.4 550.1L269.4 550.5L271.5 550.8L273.7 551.2L276.2 551.6L278.8 551.9L281.5 552.2L284.2 552.6L286.8 552.9L289.3 553.2L291.3 553.5L293.1 553.7L294.8 553.9L296.5 554.2L298.5 554.5L300.9 555L303.8 555.7L307 556.4L310.5 557.3L314.1 558.2L317.7 559.1L317.7 563.7" fill="none" stroke="#000" stroke-width="1.1" stroke-linejoin="round"/>
<path d="M52.6 566.1L54.5 566.3L57.6 565.7L60.6 565.1L63.7 564.5L66.7 563.9L69.8 563.3L72.9 562.6L76.1 561.7L79.4 560.8L82.7 559.8L85.9 558.9L89 557.9L91.9 557L94.5 556.1L97.1 555.3L99.4 554.4L101.7 553.6L103.8 552.8L105.7 551.9L107.5 551L109 550.1L110.4 549.1L111.7 548.2L113 547.2L114.3 546.3L115.5 545.4L116.7 544.4L117.8 543.5L119 542.6L120.1 541.8L121.2 541.1L122.3 540.5L123.4 540L124.4 539.6L125.5 539.3L126.7 539L128.1 538.8L129.6 538.7L131.3 538.6L133 538.6L134.8 538.6L136.6 538.7L138.4 538.8L140.2 539L142 539.3L143.9 539.6L145.7 539.9L147.3 540.2L148.8 540.4L150 540.5L151.1 540.6L152 540.6L152.8 540.6L153.6 540.6L154.4 540.5L155.2 540.5L155.9 540.5L156.5 540.4L157.2 540.4L157.8 540.1L158.6 539.8L159.5 539.3L160.4 538.6L161.3 537.9L162.3 537.1L163.3 536.2L164.2 535.3L165.1 534.4L166.1 533.4L167 532.4L167.9 531.3L168.7 530.2L169.5 529.1L170.2 527.9L170.8 526.6L171.3 525.3L171.8 524L172.2 522.7L172.7 521.4L173.1 520.2L173.5 518.9L173.9 517.7L174.2 516.4L174.5 515.1L174.9 513.7L175.2 512.3L175.5 511.1L175.7 509.7L176 508.3L176.2 506.5L176.5 504.4L176.7 502L176.9 499.2L177 496.2L177.2 493L177.4 489.6L177.5 486.1L177.7 482.4L177.9 478.4L178.1 474.2L178.2 470L178.4 465.8L178.6 461.8L178.7 457.8L178.8 453.9L179 450L179.1 446.2L179.2 442.5L179.4 438.9L179.6 435.3L179.7 431.7L179.9 428.1L180.1 424.8L180.2 421.9L180.4 419.5L180.5 417.6L180.6 416.1L180.7 415L180.8 414.3L180.9 413.8L181 413.7L181.1 413.8L181.2 414.3L181.3 415L181.4 416.1L181.6 417.6L181.7 419.5L181.9 421.9L182 424.8L182.2 428.1L182.4 431.7L182.6 435.3L182.7 438.9L182.9 442.5L183 446.3L183.1 450.2L183.2 454.1L183.3 458L183.4 461.8L183.6 465.5L183.7 469.2L183.9 472.9L184 476.5L184.2 479.9L184.4 483.1L184.7 486L184.9 488.8L185.2 491.4L185.5 493.8L185.7 496.1L186 498.3L186.3 500.3L186.5 502L186.7 503.6L187 505.2L187.3 506.7L187.6 508.3L188 510L188.4 511.8L188.8 513.5L189.3 515.2L189.8 516.8L190.2 518.3L190.6 519.7L191 520.9L191.4 522L191.9 523.1L192.4 524.2L192.9 525.3L193.5 526.3L194.1 527.4L194.8 528.4L195.5 529.4L196.3 530.4L197.2 531.4L198.1 532.4L199.1 533.3L200.2 534.3L201.3 535.2L202.4 536L203.5 536.8L204.7 537.5L206 538.2L207.3 538.8L208.6 539.4L209.8 539.8L210.9 540.3L211.9 540.7L212.8 541L213.6 541.3L214.4 541.5L215.4 541.6L216.4 541.7L217.7 541.6L219.1 541.4L220.5 541.2L222 540.9L223.5 540.5L225 540.2L226.5 539.9L227.9 539.4L229.4 539L230.9 538.6L232.3 538.3L233.7 538.2L235 538.2L236.3 538.2L237.5 538.4L238.7 538.8L240 539.2L241.4 539.9L243.1 540.7L244.9 541.9L246.7 543.2L248.6 544.5L250.4 545.8L252.1 546.9L253.5 547.7L254.7 548.5L255.9 549.3L257.1 549.9L258.4 550.5L259.9 551.1L261.5 551.6L263.3 552.1L265.2 552.5L267.2 552.9L269.3 553.2L271.5 553.6L273.9 554L276.5 554.3L279.3 554.7L282 555L284.6 555.3L287 555.6L289.1 555.9L290.9 556.1L292.6 556.3L294.3 556.6L296.3 557L298.7 557.4L301.6 558.1L304.8 558.9L308.3 559.7L311.9 560.6L315.5 561.5L315.5 566.1L52.6 566.1Z" fill="#fff" stroke="none"/>
<path d="M52.6 566.1L54.5 566.3L57.6 565.7L60.6 565.1L63.7 564.5L66.7 563.9L69.8 563.3L72.9 562.6L76.1 561.7L79.4 560.8L82.7 559.8L85.9 558.9L89 557.9L91.9 557L94.5 556.1L97.1 555.3L99.4 554.4L101.7 553.6L103.8 552.8L105.7 551.9L107.5 551L109 550.1L110.4 549.1L111.7 548.2L113 547.2L114.3 546.3L115.5 545.4L116.7 544.4L117.8 543.5L119 542.6L120.1 541.8L121.2 541.1L122.3 540.5L123.4 540L124.4 539.6L125.5 539.3L126.7 539L128.1 538.8L129.6 538.7L131.3 538.6L133 538.6L134.8 538.6L136.6 538.7L138.4 538.8L140.2 539L142 539.3L143.9 539.6L145.7 539.9L147.3 540.2L148.8 540.4L150 540.5L151.1 540.6L152 540.6L152.8 540.6L153.6 540.6L154.4 540.5L155.2 540.5L155.9 540.5L156.5 540.4L157.2 540.4L157.8 540.1L158.6 539.8L159.5 539.3L160.4 538.6L161.3 537.9L162.3 537.1L163.3 536.2L164.2 535.3L165.1 534.4L166.1 533.4L167 532.4L167.9 531.3L168.7 530.2L169.5 529.1L170.2 527.9L170.8 526.6L171.3 525.3L171.8 524L172.2 522.7L172.7 521.4L173.1 520.2L173.5 518.9L173.9 517.7L174.2 516.4L174.5 515.1L174.9 513.7L175.2 512.3L175.5 511.1L175.7 509.7L176 508.3L176.2 506.5L176.5 504.4L176.7 502L176.9 499.2L177 496.2L177.2 493L177.4 489.6L177.5 486.1L177.7 482.4L177.9 478.4L178.1 474.2L178.2 470L178.4 465.8L178.6 461.8L178.7 457.8L178.8 453.9L179 450L179.1 446.2L179.2 442.5L179.4 438.9L179.6 435.3L179.7 431.7L179.9 428.1L180.1 424.8L180.2 421.9L180.4 419.5L180.5 417.6L180.6 416.1L180.7 415L180.8 414.3L180.9 413.8L181 413.7L181.1 413.8L181.2 414.3L181.3 415L181.4 416.1L181.6 417.6L181.7 419.5L181.9 421.9L182 424.8L182.2 428.1L182.4 431.7L182.6 435.3L182.7 438.9L182.9 442.5L183 446.3L183.1 450.2L183.2 454.1L183.3 458L183.4 461.8L183.6 465.5L183.7 469.2L183.9 472.9L184 476.5L184.2 479.9L184.4 483.1L184.7 486L184.9 488.8L185.2 491.4L185.5 493.8L185.7 496.1L186 498.3L186.3 500.3L186.5 502L186.7 503.6L187 505.2L187.3 506.7L187.6 508.3L188 510L188.4 511.8L188.8 513.5L189.3 515.2L189.8 516.8L190.2 518.3L190.6 519.7L191 520.9L191.4 522L191.9 523.1L192.4 524.2L192.9 525.3L193.5 526.3L194.1 527.4L194.8 528.4L195.5 529.4L196.3 530.4L197.2 531.4L198.1 532.4L199.1 533.3L200.2 534.3L201.3 535.2L202.4 536L203.5 536.8L204.7 537.5L206 538.2L207.3 538.8L208.6 539.4L209.8 539.8L210.9 540.3L211.9 540.7L212.8 541L213.6 541.3L214.4 541.5L215.4 541.6L216.4 541.7L217.7 541.6L219.1 541.4L220.5 541.2L222 540.9L223.5 540.5L225 540.2L226.5 539.9L227.9 539.4L229.4 539L230.9 538.6L232.3 538.3L233.7 538.2L235 538.2L236.3 538.2L237.5 538.4L238.7 538.8L240 539.2L241.4 539.9L243.1 540.7L244.9 541.9L246.7 543.2L248.6 544.5L250.4 545.8L252.1 546.9L253.5 547.7L254.7 548.5L255.9 549.3L257.1 549.9L258.4 550.5L259.9 551.1L261.5 551.6L263.3 552.1L265.2 552.5L267.2 552.9L269.3 553.2L271.5 553.6L273.9 554L276.5 554.3L279.3 554.7L282 555L284.6 555.3L287 555.6L289.1 555.9L290.9 556.1L292.6 556.3L294.3 556.6L296.3 557L298.7 557.4L301.6 558.1L304.8 558.9L308.3 559.7L311.9 560.6L315.5 561.5L315.5 566.1" fill="none" stroke="#000" stroke-width="1.1" stroke-linejoin="round"/>
<path d="M50.2 568.6L52.3 568.7L55.3 568.1L58.4 567.5L61.5 566.9L64.5 566.3L67.6 565.7L70.7 565L73.9 564.1L77.2 563.2L80.5 562.3L83.7 561.3L86.8 560.3L89.7 559.4L92.3 558.5L94.8 557.7L97.2 556.8L99.5 556L101.5 555.2L103.5 554.3L105.2 553.4L106.8 552.5L108.2 551.5L109.5 550.6L110.8 549.6L112 548.7L113.3 547.8L114.5 546.8L115.6 545.9L116.7 545L117.9 544.2L119 543.5L120.1 542.9L121.2 542.4L122.2 542L123.3 541.7L124.5 541.4L125.9 541.2L127.4 541.1L129 541L130.8 541L132.6 541L134.4 541.1L136.2 541.2L138 541.4L139.8 541.7L141.7 542L143.5 542.3L145.1 542.6L146.6 542.8L147.8 542.9L148.9 543L149.8 543L150.6 543L151.4 543L152.2 542.9L153 542.9L153.6 542.9L154.3 542.9L154.9 542.8L155.6 542.6L156.4 542.2L157.2 541.7L158.2 541.1L159.1 540.3L160.1 539.5L161.1 538.6L162 537.7L162.9 536.8L163.9 535.8L164.8 534.8L165.7 533.7L166.5 532.6L167.3 531.5L167.9 530.3L168.5 529.1L169.1 527.8L169.6 526.4L170 525.1L170.5 523.8L170.9 522.6L171.3 521.3L171.7 520.1L172 518.8L172.3 517.5L172.6 516.1L172.9 514.8L173.2 513.5L173.5 512.1L173.8 510.7L174 508.9L174.2 506.9L174.4 504.4L174.6 501.6L174.8 498.6L175 495.4L175.2 492L175.3 488.5L175.5 484.8L175.7 480.8L175.8 476.7L176 472.4L176.2 468.2L176.3 464.2L176.5 460.3L176.6 456.3L176.8 452.5L176.9 448.6L177 444.9L177.2 441.3L177.3 437.7L177.5 434.1L177.7 430.5L177.8 427.2L178 424.3L178.1 421.9L178.3 420L178.4 418.5L178.5 417.4L178.6 416.7L178.7 416.3L178.8 416.1L178.9 416.3L179 416.7L179.1 417.4L179.2 418.5L179.3 420L179.5 421.9L179.6 424.3L179.8 427.2L180 430.5L180.2 434.1L180.4 437.7L180.5 441.3L180.7 445L180.8 448.7L180.9 452.6L181 456.6L181.1 460.4L181.2 464.2L181.3 467.9L181.5 471.6L181.6 475.3L181.8 478.9L182 482.3L182.2 485.5L182.4 488.4L182.7 491.2L183 493.8L183.2 496.2L183.5 498.5L183.8 500.7L184 502.7L184.3 504.4L184.5 506.1L184.8 507.6L185.1 509.1L185.4 510.8L185.8 512.5L186.2 514.2L186.6 515.9L187.1 517.6L187.5 519.2L188 520.7L188.4 522.1L188.8 523.3L189.2 524.4L189.7 525.5L190.1 526.6L190.7 527.7L191.3 528.7L191.9 529.8L192.6 530.8L193.3 531.8L194.1 532.8L194.9 533.8L195.9 534.8L196.9 535.7L197.9 536.7L199 537.6L200.2 538.4L201.3 539.2L202.5 539.9L203.8 540.6L205.1 541.2L206.3 541.8L207.6 542.3L208.7 542.7L209.7 543.1L210.6 543.4L211.4 543.7L212.2 543.9L213.1 544.1L214.2 544.1L215.5 544L216.8 543.8L218.3 543.6L219.8 543.3L221.3 543L222.8 542.6L224.2 542.3L225.7 541.9L227.2 541.4L228.7 541L230.1 540.7L231.5 540.6L232.8 540.6L234 540.7L235.2 540.9L236.5 541.2L237.8 541.6L239.2 542.3L240.8 543.2L242.6 544.3L244.5 545.6L246.4 546.9L248.2 548.2L249.8 549.3L251.3 550.2L252.5 551L253.7 551.7L254.9 552.3L256.2 553L257.6 553.5L259.3 554.1L261.1 554.5L263 554.9L265 555.3L267.1 555.7L269.3 556L271.7 556.4L274.3 556.7L277.1 557.1L279.8 557.4L282.4 557.7L284.8 558L286.9 558.3L288.7 558.5L290.3 558.8L292.1 559L294.1 559.4L296.5 559.9L299.3 560.5L302.6 561.3L306.1 562.1L309.7 563L313.3 563.9L313.3 568.6L50.2 568.6Z" fill="#fff" stroke="none"/>
<path d="M50.2 568.6L52.3 568.7L55.3 568.1L58.4 567.5L61.5 566.9L64.5 566.3L67.6 565.7L70.7 565L73.9 564.1L77.2 563.2L80.5 562.3L83.7 561.3L86.8 560.3L89.7 559.4L92.3 558.5L94.8 557.7L97.2 556.8L99.5 556L101.5 555.2L103.5 554.3L105.2 553.4L106.8 552.5L108.2 551.5L109.5 550.6L110.8 549.6L112 548.7L113.3 547.8L114.5 546.8L115.6 545.9L116.7 545L117.9 544.2L119 543.5L120.1 542.9L121.2 542.4L122.2 542L123.3 541.7L124.5 541.4L125.9 541.2L127.4 541.1L129 541L130.8 541L132.6 541L134.4 541.1L136.2 541.2L138 541.4L139.8 541.7L141.7 542L143.5 542.3L145.1 542.6L146.6 542.8L147.8 542.9L148.9 543L149.8 543L150.6 543L151.4 543L152.2 542.9L153 542.9L153.6 542.9L154.3 542.9L154.9 542.8L155.6 542.6L156.4 542.2L157.2 541.7L158.2 541.1L159.1 540.3L160.1 539.5L161.1 538.6L162 537.7L162.9 536.8L163.9 535.8L164.8 534.8L165.7 533.7L166.5 532.6L167.3 531.5L167.9 530.3L168.5 529.1L169.1 527.8L169.6 526.4L170 525.1L170.5 523.8L170.9 522.6L171.3 521.3L171.7 520.1L172 518.8L172.3 517.5L172.6 516.1L172.9 514.8L173.2 513.5L173.5 512.1L173.8 510.7L174 508.9L174.2 506.9L174.4 504.4L174.6 501.6L174.8 498.6L175 495.4L175.2 492L175.3 488.5L175.5 484.8L175.7 480.8L175.8 476.7L176 472.4L176.2 468.2L176.3 464.2L176.5 460.3L176.6 456.3L176.8 452.5L176.9 448.6L177 444.9L177.2 441.3L177.3 437.7L177.5 434.1L177.7 430.5L177.8 427.2L178 424.3L178.1 421.9L178.3 420L178.4 418.5L178.5 417.4L178.6 416.7L178.7 416.3L178.8 416.1L178.9 416.3L179 416.7L179.1 417.4L179.2 418.5L179.3 420L179.5 421.9L179.6 424.3L179.8 427.2L180 430.5L180.2 434.1L180.4 437.7L180.5 441.3L180.7 445L180.8 448.7L180.9 452.6L181 456.6L181.1 460.4L181.2 464.2L181.3 467.9L181.5 471.6L181.6 475.3L181.8 478.9L182 482.3L182.2 485.5L182.4 488.4L182.7 491.2L183 493.8L183.2 496.2L183.5 498.5L183.8 500.7L184 502.7L184.3 504.4L184.5 506.1L184.8 507.6L185.1 509.1L185.4 510.8L185.8 512.5L186.2 514.2L186.6 515.9L187.1 517.6L187.5 519.2L188 520.7L188.4 522.1L188.8 523.3L189.2 524.4L189.7 525.5L190.1 526.6L190.7 527.7L191.3 528.7L191.9 529.8L192.6 530.8L193.3 531.8L194.1 532.8L194.9 533.8L195.9 534.8L196.9 535.7L197.9 536.7L199 537.6L200.2 538.4L201.3 539.2L202.5 539.9L203.8 540.6L205.1 541.2L206.3 541.8L207.6 542.3L208.7 542.7L209.7 543.1L210.6 543.4L211.4 543.7L212.2 543.9L213.1 544.1L214.2 544.1L215.5 544L216.8 543.8L218.3 543.6L219.8 543.3L221.3 543L222.8 542.6L224.2 542.3L225.7 541.9L227.2 541.4L228.7 541L230.1 540.7L231.5 540.6L232.8 540.6L234 540.7L235.2 540.9L236.5 541.2L237.8 541.6L239.2 542.3L240.8 543.2L242.6 544.3L244.5 545.6L246.4 546.9L248.2 548.2L249.8 549.3L251.3 550.2L252.5 551L253.7 551.7L254.9 552.3L256.2 553L257.6 553.5L259.3 554.1L261.1 554.5L263 554.9L265 555.3L267.1 555.7L269.3 556L271.7 556.4L274.3 556.7L277.1 557.1L279.8 557.4L282.4 557.7L284.8 558L286.9 558.3L288.7 558.5L290.3 558.8L292.1 559L294.1 559.4L296.5 559.9L299.3 560.5L302.6 561.3L306.1 562.1L309.7 563L313.3 563.9L313.3 568.6" fill="none" stroke="#000" stroke-width="1.1" stroke-linejoin="round"/>
<path d="M47.9 571L50 571.1L53.1 570.5L56.2 569.9L59.2 569.4L62.3 568.8L65.4 568.1L68.5 567.4L71.7 566.6L75 565.6L78.2 564.7L81.5 563.7L84.6 562.7L87.4 561.8L90.1 560.9L92.6 560.1L95 559.3L97.2 558.4L99.3 557.6L101.3 556.7L103 555.8L104.6 554.9L106 554L107.3 553L108.5 552.1L109.8 551.1L111.1 550.2L112.3 549.3L113.4 548.3L114.5 547.4L115.6 546.6L116.8 545.9L117.9 545.3L118.9 544.9L120 544.5L121.1 544.1L122.3 543.9L123.6 543.7L125.2 543.5L126.8 543.4L128.6 543.4L130.4 543.5L132.2 543.5L134 543.7L135.7 543.8L137.6 544.1L139.4 544.4L141.2 544.8L142.9 545L144.3 545.2L145.6 545.4L146.6 545.4L147.5 545.4L148.4 545.4L149.2 545.4L150 545.4L150.7 545.3L151.4 545.3L152.1 545.3L152.7 545.2L153.4 545L154.2 544.6L155 544.1L155.9 543.5L156.9 542.7L157.9 541.9L158.8 541L159.8 540.1L160.7 539.2L161.6 538.2L162.6 537.2L163.5 536.2L164.3 535.1L165.1 533.9L165.7 532.7L166.3 531.5L166.8 530.2L167.3 528.9L167.8 527.6L168.2 526.3L168.7 525L169.1 523.7L169.4 522.5L169.8 521.2L170.1 519.9L170.4 518.5L170.7 517.2L171 515.9L171.3 514.6L171.5 513.1L171.8 511.4L172 509.3L172.2 506.8L172.4 504.1L172.6 501.1L172.8 497.8L172.9 494.5L173.1 491L173.3 487.2L173.4 483.2L173.6 479.1L173.8 474.8L173.9 470.7L174.1 466.6L174.3 462.7L174.4 458.8L174.5 454.9L174.7 451.1L174.8 447.3L174.9 443.7L175.1 440.1L175.3 436.5L175.4 433L175.6 429.7L175.8 426.7L175.9 424.3L176 422.4L176.1 421L176.2 419.9L176.3 419.1L176.4 418.7L176.5 418.5L176.6 418.7L176.8 419.1L176.9 419.9L177 421L177.1 422.4L177.2 424.3L177.4 426.7L177.6 429.7L177.8 433L178 436.5L178.1 440.1L178.3 443.7L178.4 447.4L178.5 451.2L178.6 455.1L178.7 459L178.8 462.9L179 466.6L179.1 470.3L179.3 474.1L179.4 477.7L179.6 481.3L179.8 484.7L180 487.9L180.2 490.9L180.5 493.6L180.7 496.2L181 498.7L181.3 501L181.6 503.1L181.8 505.1L182.1 506.9L182.3 508.5L182.6 510L182.8 511.6L183.2 513.2L183.5 514.9L183.9 516.6L184.4 518.4L184.8 520.1L185.3 521.7L185.8 523.1L186.2 524.5L186.6 525.7L187 526.9L187.4 527.9L187.9 529L188.4 530.1L189 531.2L189.7 532.2L190.3 533.3L191.1 534.3L191.9 535.3L192.7 536.2L193.6 537.2L194.6 538.2L195.7 539.1L196.8 540L197.9 540.9L199.1 541.6L200.3 542.4L201.5 543L202.8 543.6L204.1 544.2L205.3 544.7L206.5 545.1L207.5 545.5L208.3 545.8L209.2 546.1L210 546.3L210.9 546.5L212 546.5L213.2 546.4L214.6 546.3L216.1 546L217.6 545.7L219.1 545.4L220.5 545.1L222 544.7L223.5 544.3L225 543.8L226.4 543.4L227.9 543.1L229.3 543L230.6 543L231.8 543.1L233 543.3L234.2 543.6L235.5 544.1L237 544.7L238.6 545.6L240.4 546.7L242.3 548L244.2 549.4L246 550.6L247.6 551.7L249 552.6L250.3 553.4L251.5 554.1L252.6 554.8L253.9 555.4L255.4 555.9L257.1 556.5L258.9 556.9L260.8 557.3L262.8 557.7L264.9 558.1L267.1 558.4L269.5 558.8L272.1 559.2L274.8 559.5L277.6 559.8L280.2 560.1L282.6 560.5L284.6 560.7L286.4 561L288.1 561.2L289.9 561.4L291.8 561.8L294.2 562.3L297.1 562.9L300.4 563.7L303.8 564.5L307.4 565.4L311 566.3L311 571L47.9 571Z" fill="#fff" stroke="none"/>
<path d="M47.9 571L50 571.1L53.1 570.5L56.2 569.9L59.2 569.4L62.3 568.8L65.4 568.1L68.5 567.4L71.7 566.6L75 565.6L78.2 564.7L81.5 563.7L84.6 562.7L87.4 561.8L90.1 560.9L92.6 560.1L95 559.3L97.2 558.4L99.3 557.6L101.3 556.7L103 555.8L104.6 554.9L106 554L107.3 553L108.5 552.1L109.8 551.1L111.1 550.2L112.3 549.3L113.4 548.3L114.5 547.4L115.6 546.6L116.8 545.9L117.9 545.3L118.9 544.9L120 544.5L121.1 544.1L122.3 543.9L123.6 543.7L125.2 543.5L126.8 543.4L128.6 543.4L130.4 543.5L132.2 543.5L134 543.7L135.7 543.8L137.6 544.1L139.4 544.4L141.2 544.8L142.9 545L144.3 545.2L145.6 545.4L146.6 545.4L147.5 545.4L148.4 545.4L149.2 545.4L150 545.4L150.7 545.3L151.4 545.3L152.1 545.3L152.7 545.2L153.4 545L154.2 544.6L155 544.1L155.9 543.5L156.9 542.7L157.9 541.9L158.8 541L159.8 540.1L160.7 539.2L161.6 538.2L162.6 537.2L163.5 536.2L164.3 535.1L165.1 533.9L165.7 532.7L166.3 531.5L166.8 530.2L167.3 528.9L167.8 527.6L168.2 526.3L168.7 525L169.1 523.7L169.4 522.5L169.8 521.2L170.1 519.9L170.4 518.5L170.7 517.2L171 515.9L171.3 514.6L171.5 513.1L171.8 511.4L172 509.3L172.2 506.8L172.4 504.1L172.6 501.1L172.8 497.8L172.9 494.5L173.1 491L173.3 487.2L173.4 483.2L173.6 479.1L173.8 474.8L173.9 470.7L174.1 466.6L174.3 462.7L174.4 458.8L174.5 454.9L174.7 451.1L174.8 447.3L174.9 443.7L175.1 440.1L175.3 436.5L175.4 433L175.6 429.7L175.8 426.7L175.9 424.3L176 422.4L176.1 421L176.2 419.9L176.3 419.1L176.4 418.7L176.5 418.5L176.6 418.7L176.8 419.1L176.9 419.9L177 421L177.1 422.4L177.2 424.3L177.4 426.7L177.6 429.7L177.8 433L178 436.5L178.1 440.1L178.3 443.7L178.4 447.4L178.5 451.2L178.6 455.1L178.7 459L178.8 462.9L179 466.6L179.1 470.3L179.3 474.1L179.4 477.7L179.6 481.3L179.8 484.7L180 487.9L180.2 490.9L180.5 493.6L180.7 496.2L181 498.7L181.3 501L181.6 503.1L181.8 505.1L182.1 506.9L182.3 508.5L182.6 510L182.8 511.6L183.2 513.2L183.5 514.9L183.9 516.6L184.4 518.4L184.8 520.1L185.3 521.7L185.8 523.1L186.2 524.5L186.6 525.7L187 526.9L187.4 527.9L187.9 529L188.4 530.1L189 531.2L189.7 532.2L190.3 533.3L191.1 534.3L191.9 535.3L192.7 536.2L193.6 537.2L194.6 538.2L195.7 539.1L196.8 540L197.9 540.9L199.1 541.6L200.3 542.4L201.5 543L202.8 543.6L204.1 544.2L205.3 544.7L206.5 545.1L207.5 545.5L208.3 545.8L209.2 546.1L210 546.3L210.9 546.5L212 546.5L213.2 546.4L214.6 546.3L216.1 546L217.6 545.7L219.1 545.4L220.5 545.1L222 544.7L223.5 544.3L225 543.8L226.4 543.4L227.9 543.1L229.3 543L230.6 543L231.8 543.1L233 543.3L234.2 543.6L235.5 544.1L237 544.7L238.6 545.6L240.4 546.7L242.3 548L244.2 549.4L246 550.6L247.6 551.7L249 552.6L250.3 553.4L251.5 554.1L252.6 554.8L253.9 555.4L255.4 555.9L257.1 556.5L258.9 556.9L260.8 557.3L262.8 557.7L264.9 558.1L267.1 558.4L269.5 558.8L272.1 559.2L274.8 559.5L277.6 559.8L280.2 560.1L282.6 560.5L284.6 560.7L286.4 561L288.1 561.2L289.9 561.4L291.8 561.8L294.2 562.3L297.1 562.9L300.4 563.7L303.8 564.5L307.4 565.4L311 566.3L311 571" fill="none" stroke="#000" stroke-width="1.1" stroke-linejoin="round"/>
<path d="M45.5 573.4L47.8 573.5L50.9 572.9L53.9 572.4L57 571.8L60.1 571.2L63.2 570.5L66.3 569.8L69.4 569L72.7 568.1L76 567.1L79.2 566.1L82.3 565.1L85.2 564.2L87.9 563.3L90.4 562.5L92.8 561.7L95 560.9L97.1 560L99 559.2L100.8 558.3L102.3 557.3L103.7 556.4L105 555.4L106.3 554.5L107.6 553.6L108.8 552.6L110 551.7L111.2 550.7L112.3 549.8L113.4 549L114.5 548.3L115.7 547.8L116.7 547.3L117.8 546.9L118.9 546.5L120.1 546.3L121.4 546.1L122.9 545.9L124.6 545.8L126.4 545.8L128.2 545.9L130 546L131.7 546.1L133.5 546.3L135.4 546.5L137.2 546.9L139 547.2L140.7 547.5L142.1 547.7L143.4 547.8L144.4 547.8L145.3 547.9L146.1 547.9L146.9 547.8L147.7 547.8L148.5 547.7L149.2 547.7L149.8 547.7L150.5 547.6L151.2 547.4L151.9 547L152.8 546.5L153.7 545.9L154.7 545.1L155.6 544.3L156.6 543.4L157.5 542.5L158.5 541.6L159.4 540.7L160.3 539.6L161.2 538.6L162.1 537.5L162.8 536.3L163.5 535.1L164.1 533.9L164.6 532.6L165.1 531.3L165.6 530L166 528.7L166.4 527.4L166.8 526.2L167.2 524.9L167.5 523.6L167.9 522.3L168.2 520.9L168.5 519.6L168.8 518.3L169.1 517L169.3 515.5L169.6 513.8L169.8 511.7L170 509.2L170.2 506.5L170.4 503.5L170.5 500.3L170.7 496.9L170.9 493.4L171.1 489.7L171.2 485.7L171.4 481.5L171.6 477.3L171.7 473.1L171.9 469L172 465.1L172.2 461.2L172.3 457.3L172.4 453.5L172.6 449.7L172.7 446.2L172.9 442.6L173 438.9L173.2 435.4L173.4 432.1L173.5 429.1L173.7 426.7L173.8 424.9L173.9 423.4L174 422.3L174.1 421.5L174.2 421.1L174.3 421L174.4 421.1L174.5 421.5L174.6 422.3L174.8 423.4L174.9 424.9L175 426.7L175.2 429.1L175.4 432.1L175.6 435.4L175.7 438.9L175.9 442.6L176.1 446.2L176.2 449.8L176.3 453.6L176.4 457.5L176.5 461.4L176.6 465.3L176.7 469L176.9 472.7L177 476.5L177.2 480.2L177.4 483.7L177.5 487.2L177.7 490.3L178 493.3L178.2 496L178.5 498.6L178.8 501.1L179.1 503.4L179.3 505.5L179.6 507.5L179.8 509.3L180.1 510.9L180.3 512.4L180.6 514L180.9 515.6L181.3 517.3L181.7 519L182.2 520.8L182.6 522.5L183.1 524.1L183.5 525.6L184 526.9L184.4 528.1L184.8 529.3L185.2 530.4L185.7 531.4L186.2 532.5L186.8 533.6L187.4 534.6L188.1 535.7L188.9 536.7L189.6 537.7L190.5 538.6L191.4 539.6L192.4 540.6L193.5 541.5L194.6 542.4L195.7 543.3L196.9 544.1L198.1 544.8L199.3 545.4L200.6 546.1L201.9 546.6L203.1 547.1L204.2 547.5L205.2 547.9L206.1 548.3L206.9 548.5L207.8 548.8L208.7 548.9L209.8 548.9L211 548.9L212.4 548.7L213.8 548.4L215.3 548.1L216.9 547.8L218.3 547.5L219.8 547.1L221.3 546.7L222.7 546.2L224.2 545.8L225.6 545.5L227 545.4L228.4 545.4L229.6 545.5L230.8 545.7L232 546L233.3 546.5L234.8 547.1L236.4 548L238.2 549.2L240.1 550.4L242 551.8L243.8 553L245.4 554.1L246.8 555L248.1 555.8L249.2 556.5L250.4 557.2L251.7 557.8L253.2 558.4L254.9 558.9L256.7 559.3L258.5 559.8L260.5 560.1L262.6 560.5L264.8 560.9L267.3 561.2L269.9 561.6L272.6 561.9L275.3 562.2L277.9 562.6L280.4 562.9L282.4 563.1L284.2 563.4L285.9 563.6L287.6 563.9L289.6 564.2L292 564.7L294.9 565.3L298.1 566.1L301.6 567L305.2 567.9L308.8 568.8L308.8 573.4L45.5 573.4Z" fill="#fff" stroke="none"/>
<path d="M45.5 573.4L47.8 573.5L50.9 572.9L53.9 572.4L57 571.8L60.1 571.2L63.2 570.5L66.3 569.8L69.4 569L72.7 568.1L76 567.1L79.2 566.1L82.3 565.1L85.2 564.2L87.9 563.3L90.4 562.5L92.8 561.7L95 560.9L97.1 560L99 559.2L100.8 558.3L102.3 557.3L103.7 556.4L105 555.4L106.3 554.5L107.6 553.6L108.8 552.6L110 551.7L111.2 550.7L112.3 549.8L113.4 549L114.5 548.3L115.7 547.8L116.7 547.3L117.8 546.9L118.9 546.5L120.1 546.3L121.4 546.1L122.9 545.9L124.6 545.8L126.4 545.8L128.2 545.9L130 546L131.7 546.1L133.5 546.3L135.4 546.5L137.2 546.9L139 547.2L140.7 547.5L142.1 547.7L143.4 547.8L144.4 547.8L145.3 547.9L146.1 547.9L146.9 547.8L147.7 547.8L148.5 547.7L149.2 547.7L149.8 547.7L150.5 547.6L151.2 547.4L151.9 547L152.8 546.5L153.7 545.9L154.7 545.1L155.6 544.3L156.6 543.4L157.5 542.5L158.5 541.6L159.4 540.7L160.3 539.6L161.2 538.6L162.1 537.5L162.8 536.3L163.5 535.1L164.1 533.9L164.6 532.6L165.1 531.3L165.6 530L166 528.7L166.4 527.4L166.8 526.2L167.2 524.9L167.5 523.6L167.9 522.3L168.2 520.9L168.5 519.6L168.8 518.3L169.1 517L169.3 515.5L169.6 513.8L169.8 511.7L170 509.2L170.2 506.5L170.4 503.5L170.5 500.3L170.7 496.9L170.9 493.4L171.1 489.7L171.2 485.7L171.4 481.5L171.6 477.3L171.7 473.1L171.9 469L172 465.1L172.2 461.2L172.3 457.3L172.4 453.5L172.6 449.7L172.7 446.2L172.9 442.6L173 438.9L173.2 435.4L173.4 432.1L173.5 429.1L173.7 426.7L173.8 424.9L173.9 423.4L174 422.3L174.1 421.5L174.2 421.1L174.3 421L174.4 421.1L174.5 421.5L174.6 422.3L174.8 423.4L174.9 424.9L175 426.7L175.2 429.1L175.4 432.1L175.6 435.4L175.7 438.9L175.9 442.6L176.1 446.2L176.2 449.8L176.3 453.6L176.4 457.5L176.5 461.4L176.6 465.3L176.7 469L176.9 472.7L177 476.5L177.2 480.2L177.4 483.7L177.5 487.2L177.7 490.3L178 493.3L178.2 496L178.5 498.6L178.8 501.1L179.1 503.4L179.3 505.5L179.6 507.5L179.8 509.3L180.1 510.9L180.3 512.4L180.6 514L180.9 515.6L181.3 517.3L181.7 519L182.2 520.8L182.6 522.5L183.1 524.1L183.5 525.6L184 526.9L184.4 528.1L184.8 529.3L185.2 530.4L185.7 531.4L186.2 532.5L186.8 533.6L187.4 534.6L188.1 535.7L188.9 536.7L189.6 537.7L190.5 538.6L191.4 539.6L192.4 540.6L193.5 541.5L194.6 542.4L195.7 543.3L196.9 544.1L198.1 544.8L199.3 545.4L200.6 546.1L201.9 546.6L203.1 547.1L204.2 547.5L205.2 547.9L206.1 548.3L206.9 548.5L207.8 548.8L208.7 548.9L209.8 548.9L211 548.9L212.4 548.7L213.8 548.4L215.3 548.1L216.9 547.8L218.3 547.5L219.8 547.1L221.3 546.7L222.7 546.2L224.2 545.8L225.6 545.5L227 545.4L228.4 545.4L229.6 545.5L230.8 545.7L232 546L233.3 546.5L234.8 547.1L236.4 548L238.2 549.2L240.1 550.4L242 551.8L243.8 553L245.4 554.1L246.8 555L248.1 555.8L249.2 556.5L250.4 557.2L251.7 557.8L253.2 558.4L254.9 558.9L256.7 559.3L258.5 559.8L260.5 560.1L262.6 560.5L264.8 560.9L267.3 561.2L269.9 561.6L272.6 561.9L275.3 562.2L277.9 562.6L280.4 562.9L282.4 563.1L284.2 563.4L285.9 563.6L287.6 563.9L289.6 564.2L292 564.7L294.9 565.3L298.1 566.1L301.6 567L305.2 567.9L308.8 568.8L308.8 573.4" fill="none" stroke="#000" stroke-width="1.1" stroke-linejoin="round"/>
<path d="M43.2 575.8L45.6 575.9L48.7 575.3L51.7 574.8L54.8 574.2L57.8 573.6L60.9 573L64 572.2L67.2 571.4L70.5 570.5L73.8 569.5L77 568.5L80.1 567.5L83 566.6L85.6 565.8L88.2 564.9L90.5 564.1L92.8 563.3L94.9 562.4L96.8 561.6L98.6 560.7L100.1 559.7L101.5 558.8L102.8 557.8L104.1 556.9L105.4 556L106.6 555L107.8 554.1L108.9 553.1L110.1 552.3L111.2 551.4L112.3 550.7L113.4 550.2L114.5 549.7L115.5 549.3L116.6 549L117.8 548.7L119.2 548.5L120.7 548.3L122.4 548.3L124.1 548.3L125.9 548.3L127.7 548.4L129.5 548.5L131.3 548.7L133.1 549L135 549.3L136.8 549.6L138.4 549.9L139.9 550.1L141.1 550.2L142.2 550.3L143.1 550.3L143.9 550.3L144.7 550.2L145.5 550.2L146.3 550.2L147 550.2L147.6 550.1L148.3 550L148.9 549.8L149.7 549.5L150.6 549L151.5 548.3L152.4 547.6L153.4 546.7L154.4 545.9L155.3 545L156.2 544L157.2 543.1L158.1 542.1L159 541L159.8 539.9L160.6 538.8L161.3 537.6L161.9 536.3L162.4 535L162.9 533.7L163.3 532.4L163.8 531.1L164.2 529.8L164.6 528.6L165 527.3L165.3 526L165.7 524.7L166 523.4L166.3 522L166.6 520.7L166.8 519.4L167.1 517.9L167.3 516.2L167.6 514.1L167.8 511.7L168 508.9L168.1 505.9L168.3 502.7L168.5 499.3L168.7 495.8L168.8 492.1L169 488.1L169.2 483.9L169.3 479.7L169.5 475.5L169.7 471.5L169.8 467.5L169.9 463.6L170.1 459.7L170.2 455.9L170.4 452.2L170.5 448.6L170.7 445L170.8 441.3L171 437.8L171.2 434.5L171.3 431.6L171.5 429.2L171.6 427.3L171.7 425.8L171.8 424.7L171.9 423.9L172 423.5L172.1 423.4L172.2 423.5L172.3 423.9L172.4 424.7L172.5 425.8L172.7 427.3L172.8 429.2L173 431.6L173.1 434.5L173.3 437.8L173.5 441.3L173.7 445L173.8 448.6L174 452.2L174.1 456L174.2 459.9L174.3 463.8L174.4 467.7L174.5 471.5L174.7 475.2L174.8 478.9L175 482.6L175.1 486.2L175.3 489.6L175.5 492.7L175.8 495.7L176 498.5L176.3 501.1L176.6 503.5L176.8 505.8L177.1 508L177.4 509.9L177.6 511.7L177.9 513.3L178.1 514.9L178.4 516.4L178.7 518L179.1 519.7L179.5 521.4L179.9 523.2L180.4 524.9L180.9 526.5L181.3 528L181.7 529.3L182.1 530.6L182.5 531.7L183 532.8L183.5 533.8L184 534.9L184.6 536L185.2 537.1L185.9 538.1L186.6 539.1L187.4 540.1L188.3 541.1L189.2 542L190.2 543L191.3 543.9L192.4 544.8L193.5 545.7L194.6 546.5L195.8 547.2L197.1 547.9L198.4 548.5L199.7 549L200.9 549.5L202 550L203 550.3L203.9 550.7L204.7 551L205.5 551.2L206.5 551.3L207.5 551.4L208.8 551.3L210.2 551.1L211.6 550.8L213.1 550.5L214.6 550.2L216.1 549.9L217.6 549.5L219 549.1L220.5 548.7L222 548.3L223.4 548L224.8 547.8L226.1 547.8L227.4 547.9L228.6 548.1L229.8 548.4L231.1 548.9L232.5 549.5L234.2 550.4L236 551.6L237.8 552.9L239.7 554.2L241.5 555.5L243.2 556.5L244.6 557.4L245.8 558.2L247 558.9L248.2 559.6L249.5 560.2L251 560.8L252.6 561.3L254.4 561.8L256.3 562.2L258.3 562.5L260.4 562.9L262.6 563.3L265 563.6L267.6 564L270.4 564.3L273.1 564.6L275.7 565L278.1 565.3L280.2 565.6L282 565.8L283.7 566L285.4 566.3L287.4 566.6L289.8 567.1L292.7 567.8L295.9 568.5L299.4 569.4L303 570.3L306.6 571.2L306.6 575.8L43.2 575.8Z" fill="#fff" stroke="none"/>
<path d="M43.2 575.8L45.6 575.9L48.7 575.3L51.7 574.8L54.8 574.2L57.8 573.6L60.9 573L64 572.2L67.2 571.4L70.5 570.5L73.8 569.5L77 568.5L80.1 567.5L83 566.6L85.6 565.8L88.2 564.9L90.5 564.1L92.8 563.3L94.9 562.4L96.8 561.6L98.6 560.7L100.1 559.7L101.5 558.8L102.8 557.8L104.1 556.9L105.4 556L106.6 555L107.8 554.1L108.9 553.1L110.1 552.3L111.2 551.4L112.3 550.7L113.4 550.2L114.5 549.7L115.5 549.3L116.6 549L117.8 548.7L119.2 548.5L120.7 548.3L122.4 548.3L124.1 548.3L125.9 548.3L127.7 548.4L129.5 548.5L131.3 548.7L133.1 549L135 549.3L136.8 549.6L138.4 549.9L139.9 550.1L141.1 550.2L142.2 550.3L143.1 550.3L143.9 550.3L144.7 550.2L145.5 550.2L146.3 550.2L147 550.2L147.6 550.1L148.3 550L148.9 549.8L149.7 549.5L150.6 549L151.5 548.3L152.4 547.6L153.4 546.7L154.4 545.9L155.3 545L156.2 544L157.2 543.1L158.1 542.1L159 541L159.8 539.9L160.6 538.8L161.3 537.6L161.9 536.3L162.4 535L162.9 533.7L163.3 532.4L163.8 531.1L164.2 529.8L164.6 528.6L165 527.3L165.3 526L165.7 524.7L166 523.4L166.3 522L166.6 520.7L166.8 519.4L167.1 517.9L167.3 516.2L167.6 514.1L167.8 511.7L168 508.9L168.1 505.9L168.3 502.7L168.5 499.3L168.7 495.8L168.8 492.1L169 488.1L169.2 483.9L169.3 479.7L169.5 475.5L169.7 471.5L169.8 467.5L169.9 463.6L170.1 459.7L170.2 455.9L170.4 452.2L170.5 448.6L170.7 445L170.8 441.3L171 437.8L171.2 434.5L171.3 431.6L171.5 429.2L171.6 427.3L171.7 425.8L171.8 424.7L171.9 423.9L172 423.5L172.1 423.4L172.2 423.5L172.3 423.9L172.4 424.7L172.5 425.8L172.7 427.3L172.8 429.2L173 431.6L173.1 434.5L173.3 437.8L173.5 441.3L173.7 445L173.8 448.6L174 452.2L174.1 456L174.2 459.9L174.3 463.8L174.4 467.7L174.5 471.5L174.7 475.2L174.8 478.9L175 482.6L175.1 486.2L175.3 489.6L175.5 492.7L175.8 495.7L176 498.5L176.3 501.1L176.6 503.5L176.8 505.8L177.1 508L177.4 509.9L177.6 511.7L177.9 513.3L178.1 514.9L178.4 516.4L178.7 518L179.1 519.7L179.5 521.4L179.9 523.2L180.4 524.9L180.9 526.5L181.3 528L181.7 529.3L182.1 530.6L182.5 531.7L183 532.8L183.5 533.8L184 534.9L184.6 536L185.2 537.1L185.9 538.1L186.6 539.1L187.4 540.1L188.3 541.1L189.2 542L190.2 543L191.3 543.9L192.4 544.8L193.5 545.7L194.6 546.5L195.8 547.2L197.1 547.9L198.4 548.5L199.7 549L200.9 549.5L202 550L203 550.3L203.9 550.7L204.7 551L205.5 551.2L206.5 551.3L207.5 551.4L208.8 551.3L210.2 551.1L211.6 550.8L213.1 550.5L214.6 550.2L216.1 549.9L217.6 549.5L219 549.1L220.5 548.7L222 548.3L223.4 548L224.8 547.8L226.1 547.8L227.4 547.9L228.6 548.1L229.8 548.4L231.1 548.9L232.5 549.5L234.2 550.4L236 551.6L237.8 552.9L239.7 554.2L241.5 555.5L243.2 556.5L244.6 557.4L245.8 558.2L247 558.9L248.2 559.6L249.5 560.2L251 560.8L252.6 561.3L254.4 561.8L256.3 562.2L258.3 562.5L260.4 562.9L262.6 563.3L265 563.6L267.6 564L270.4 564.3L273.1 564.6L275.7 565L278.1 565.3L280.2 565.6L282 565.8L283.7 566L285.4 566.3L287.4 566.6L289.8 567.1L292.7 567.8L295.9 568.5L299.4 569.4L303 570.3L306.6 571.2L306.6 575.8" fill="none" stroke="#000" stroke-width="1.1" stroke-linejoin="round"/>
<path d="M40.8 578.2L43.4 578.4L46.4 577.8L49.5 577.2L52.6 576.6L55.6 576L58.7 575.4L61.8 574.6L65 573.8L68.3 572.9L71.6 571.9L74.8 570.9L77.9 570L80.8 569L83.4 568.2L85.9 567.3L88.3 566.5L90.6 565.7L92.6 564.9L94.6 564L96.3 563.1L97.9 562.2L99.3 561.2L100.6 560.3L101.9 559.3L103.1 558.4L104.4 557.5L105.6 556.5L106.7 555.6L107.8 554.7L109 553.9L110.1 553.2L111.2 552.6L112.3 552.1L113.3 551.7L114.4 551.4L115.6 551.1L117 550.9L118.5 550.8L120.1 550.7L121.9 550.7L123.7 550.7L125.5 550.8L127.3 550.9L129.1 551.1L130.9 551.4L132.8 551.7L134.6 552L136.2 552.3L137.7 552.5L138.9 552.6L140 552.7L140.9 552.7L141.7 552.7L142.5 552.7L143.3 552.6L144.1 552.6L144.7 552.6L145.4 552.5L146 552.4L146.7 552.2L147.5 551.9L148.3 551.4L149.3 550.7L150.2 550L151.2 549.1L152.2 548.3L153.1 547.4L154 546.5L155 545.5L155.9 544.5L156.8 543.4L157.6 542.3L158.4 541.2L159 540L159.6 538.7L160.2 537.4L160.7 536.1L161.1 534.8L161.6 533.5L162 532.2L162.4 531L162.8 529.7L163.1 528.5L163.4 527.2L163.7 525.8L164 524.4L164.3 523.1L164.6 521.8L164.9 520.3L165.1 518.6L165.3 516.5L165.5 514.1L165.7 511.3L165.9 508.3L166.1 505.1L166.3 501.7L166.4 498.2L166.6 494.5L166.8 490.5L166.9 486.3L167.1 482.1L167.3 477.9L167.4 473.9L167.6 469.9L167.7 466L167.9 462.1L168 458.3L168.1 454.6L168.3 451L168.4 447.4L168.6 443.8L168.8 440.2L168.9 436.9L169.1 434L169.2 431.6L169.4 429.7L169.5 428.2L169.6 427.1L169.7 426.4L169.8 425.9L169.9 425.8L170 425.9L170.1 426.4L170.2 427.1L170.3 428.2L170.4 429.7L170.6 431.6L170.7 434L170.9 436.9L171.1 440.2L171.3 443.8L171.5 447.4L171.6 451L171.8 454.6L171.9 458.4L172 462.3L172.1 466.2L172.2 470.1L172.3 473.9L172.4 477.6L172.6 481.3L172.7 485L172.9 488.6L173.1 492L173.3 495.2L173.5 498.1L173.8 500.9L174.1 503.5L174.3 505.9L174.6 508.2L174.9 510.4L175.1 512.4L175.4 514.1L175.6 515.7L175.9 517.3L176.2 518.8L176.5 520.4L176.9 522.1L177.3 523.9L177.7 525.6L178.2 527.3L178.6 528.9L179.1 530.4L179.5 531.7L179.9 533L180.3 534.1L180.8 535.2L181.2 536.3L181.8 537.3L182.4 538.4L183 539.5L183.7 540.5L184.4 541.5L185.2 542.5L186 543.5L187 544.5L188 545.4L189 546.4L190.1 547.3L191.3 548.1L192.4 548.9L193.6 549.6L194.9 550.3L196.2 550.9L197.4 551.4L198.7 551.9L199.8 552.4L200.8 552.8L201.7 553.1L202.5 553.4L203.3 553.6L204.2 553.7L205.3 553.8L206.6 553.7L207.9 553.5L209.4 553.3L210.9 552.9L212.4 552.6L213.9 552.3L215.3 552L216.8 551.5L218.3 551.1L219.8 550.7L221.2 550.4L222.6 550.2L223.9 550.2L225.1 550.3L226.3 550.5L227.6 550.8L228.9 551.3L230.3 551.9L231.9 552.8L233.7 554L235.6 555.3L237.5 556.6L239.3 557.9L240.9 558.9L242.4 559.8L243.6 560.6L244.8 561.4L246 562L247.3 562.6L248.7 563.2L250.4 563.7L252.2 564.2L254.1 564.6L256.1 565L258.2 565.3L260.4 565.7L262.8 566.1L265.4 566.4L268.2 566.7L270.9 567.1L273.5 567.4L275.9 567.7L278 568L279.8 568.2L281.4 568.4L283.2 568.7L285.2 569L287.6 569.5L290.4 570.2L293.7 570.9L297.2 571.8L300.8 572.7L304.4 573.6L304.4 578.2L40.8 578.2Z" fill="#fff" stroke="none"/>
<path d="M40.8 578.2L43.4 578.4L46.4 577.8L49.5 577.2L52.6 576.6L55.6 576L58.7 575.4L61.8 574.6L65 573.8L68.3 572.9L71.6 571.9L74.8 570.9L77.9 570L80.8 569L83.4 568.2L85.9 567.3L88.3 566.5L90.6 565.7L92.6 564.9L94.6 564L96.3 563.1L97.9 562.2L99.3 561.2L100.6 560.3L101.9 559.3L103.1 558.4L104.4 557.5L105.6 556.5L106.7 555.6L107.8 554.7L109 553.9L110.1 553.2L111.2 552.6L112.3 552.1L113.3 551.7L114.4 551.4L115.6 551.1L117 550.9L118.5 550.8L120.1 550.7L121.9 550.7L123.7 550.7L125.5 550.8L127.3 550.9L129.1 551.1L130.9 551.4L132.8 551.7L134.6 552L136.2 552.3L137.7 552.5L138.9 552.6L140 552.7L140.9 552.7L141.7 552.7L142.5 552.7L143.3 552.6L144.1 552.6L144.7 552.6L145.4 552.5L146 552.4L146.7 552.2L147.5 551.9L148.3 551.4L149.3 550.7L150.2 550L151.2 549.1L152.2 548.3L153.1 547.4L154 546.5L155 545.5L155.9 544.5L156.8 543.4L157.6 542.3L158.4 541.2L159 540L159.6 538.7L160.2 537.4L160.7 536.1L161.1 534.8L161.6 533.5L162 532.2L162.4 531L162.8 529.7L163.1 528.5L163.4 527.2L163.7 525.8L164 524.4L164.3 523.1L164.6 521.8L164.9 520.3L165.1 518.6L165.3 516.5L165.5 514.1L165.7 511.3L165.9 508.3L166.1 505.1L166.3 501.7L166.4 498.2L166.6 494.5L166.8 490.5L166.9 486.3L167.1 482.1L167.3 477.9L167.4 473.9L167.6 469.9L167.7 466L167.9 462.1L168 458.3L168.1 454.6L168.3 451L168.4 447.4L168.6 443.8L168.8 440.2L168.9 436.9L169.1 434L169.2 431.6L169.4 429.7L169.5 428.2L169.6 427.1L169.7 426.4L169.8 425.9L169.9 425.8L170 425.9L170.1 426.4L170.2 427.1L170.3 428.2L170.4 429.7L170.6 431.6L170.7 434L170.9 436.9L171.1 440.2L171.3 443.8L171.5 447.4L171.6 451L171.8 454.6L171.9 458.4L172 462.3L172.1 466.2L172.2 470.1L172.3 473.9L172.4 477.6L172.6 481.3L172.7 485L172.9 488.6L173.1 492L173.3 495.2L173.5 498.1L173.8 500.9L174.1 503.5L174.3 505.9L174.6 508.2L174.9 510.4L175.1 512.4L175.4 514.1L175.6 515.7L175.9 517.3L176.2 518.8L176.5 520.4L176.9 522.1L177.3 523.9L177.7 525.6L178.2 527.3L178.6 528.9L179.1 530.4L179.5 531.7L179.9 533L180.3 534.1L180.8 535.2L181.2 536.3L181.8 537.3L182.4 538.4L183 539.5L183.7 540.5L184.4 541.5L185.2 542.5L186 543.5L187 544.5L188 545.4L189 546.4L190.1 547.3L191.3 548.1L192.4 548.9L193.6 549.6L194.9 550.3L196.2 550.9L197.4 551.4L198.7 551.9L199.8 552.4L200.8 552.8L201.7 553.1L202.5 553.4L203.3 553.6L204.2 553.7L205.3 553.8L206.6 553.7L207.9 553.5L209.4 553.3L210.9 552.9L212.4 552.6L213.9 552.3L215.3 552L216.8 551.5L218.3 551.1L219.8 550.7L221.2 550.4L222.6 550.2L223.9 550.2L225.1 550.3L226.3 550.5L227.6 550.8L228.9 551.3L230.3 551.9L231.9 552.8L233.7 554L235.6 555.3L237.5 556.6L239.3 557.9L240.9 558.9L242.4 559.8L243.6 560.6L244.8 561.4L246 562L247.3 562.6L248.7 563.2L250.4 563.7L252.2 564.2L254.1 564.6L256.1 565L258.2 565.3L260.4 565.7L262.8 566.1L265.4 566.4L268.2 566.7L270.9 567.1L273.5 567.4L275.9 567.7L278 568L279.8 568.2L281.4 568.4L283.2 568.7L285.2 569L287.6 569.5L290.4 570.2L293.7 570.9L297.2 571.8L300.8 572.7L304.4 573.6L304.4 578.2" fill="none" stroke="#000" stroke-width="1.1" stroke-linejoin="round"/>
<path d="M38.5 580.6L41.1 580.8L44.2 580.2L47.3 579.6L50.3 579L53.4 578.4L56.5 577.8L59.6 577.1L62.8 576.2L66.1 575.3L69.3 574.3L72.6 573.4L75.7 572.4L78.5 571.5L81.2 570.6L83.7 569.8L86.1 568.9L88.3 568.1L90.4 567.3L92.4 566.4L94.1 565.5L95.7 564.6L97.1 563.6L98.4 562.7L99.6 561.7L100.9 560.8L102.2 559.9L103.4 558.9L104.5 558L105.6 557.1L106.7 556.3L107.9 555.6L109 555L110 554.5L111.1 554.1L112.2 553.8L113.4 553.5L114.7 553.3L116.3 553.2L117.9 553.1L119.7 553.1L121.5 553.1L123.3 553.2L125.1 553.3L126.8 553.5L128.7 553.8L130.5 554.1L132.3 554.4L134 554.7L135.4 554.9L136.7 555L137.7 555.1L138.6 555.1L139.5 555.1L140.3 555.1L141.1 555L141.8 555L142.5 555L143.2 555L143.8 554.9L144.5 554.6L145.3 554.3L146.1 553.8L147 553.1L148 552.4L149 551.6L149.9 550.7L150.9 549.8L151.8 548.9L152.7 547.9L153.7 546.9L154.6 545.8L155.4 544.7L156.2 543.6L156.8 542.4L157.4 541.1L157.9 539.9L158.4 538.5L158.9 537.2L159.3 535.9L159.8 534.7L160.2 533.4L160.5 532.2L160.9 530.9L161.2 529.6L161.5 528.2L161.8 526.8L162.1 525.6L162.4 524.2L162.6 522.8L162.9 521L163.1 518.9L163.3 516.5L163.5 513.7L163.7 510.7L163.9 507.5L164 504.1L164.2 500.6L164.4 496.9L164.5 492.9L164.7 488.7L164.9 484.5L165.1 480.3L165.2 476.3L165.4 472.3L165.5 468.4L165.6 464.5L165.8 460.7L165.9 457L166 453.4L166.2 449.8L166.4 446.2L166.5 442.6L166.7 439.3L166.9 436.4L167 434L167.1 432.1L167.2 430.6L167.3 429.5L167.4 428.8L167.5 428.3L167.6 428.2L167.7 428.3L167.9 428.8L168 429.5L168.1 430.6L168.2 432.1L168.4 434L168.5 436.4L168.7 439.3L168.9 442.6L169.1 446.2L169.2 449.8L169.4 453.4L169.5 457L169.6 460.8L169.7 464.7L169.8 468.6L169.9 472.5L170.1 476.3L170.2 480L170.4 483.7L170.5 487.4L170.7 491L170.9 494.4L171.1 497.6L171.3 500.5L171.6 503.3L171.8 505.9L172.1 508.3L172.4 510.6L172.7 512.8L172.9 514.8L173.2 516.5L173.4 518.1L173.7 519.7L173.9 521.2L174.3 522.8L174.6 524.5L175 526.3L175.5 528L175.9 529.7L176.4 531.3L176.9 532.8L177.3 534.2L177.7 535.4L178.1 536.5L178.5 537.6L179 538.7L179.5 539.8L180.1 540.8L180.8 541.9L181.4 542.9L182.2 543.9L183 544.9L183.8 545.9L184.7 546.9L185.7 547.8L186.8 548.8L187.9 549.7L189 550.5L190.2 551.3L191.4 552L192.6 552.7L193.9 553.3L195.2 553.9L196.4 554.4L197.6 554.8L198.6 555.2L199.4 555.5L200.3 555.8L201.1 556L202 556.1L203.1 556.2L204.3 556.1L205.7 555.9L207.2 555.7L208.7 555.4L210.2 555L211.6 554.7L213.1 554.4L214.6 553.9L216.1 553.5L217.5 553.1L219 552.8L220.4 552.7L221.7 552.7L222.9 552.7L224.1 552.9L225.3 553.3L226.6 553.7L228.1 554.4L229.7 555.3L231.5 556.4L233.4 557.7L235.3 559L237.1 560.3L238.7 561.4L240.1 562.2L241.4 563L242.6 563.8L243.7 564.4L245 565L246.5 565.6L248.2 566.1L250 566.6L251.9 567L253.9 567.4L256 567.7L258.2 568.1L260.6 568.5L263.2 568.8L265.9 569.2L268.7 569.5L271.3 569.8L273.7 570.1L275.7 570.4L277.5 570.6L279.2 570.9L281 571.1L282.9 571.5L285.3 571.9L288.2 572.6L291.5 573.4L294.9 574.2L298.5 575.1L302.1 576L302.1 580.6L38.5 580.6Z" fill="#fff" stroke="none"/>
<path d="M38.5 580.6L41.1 580.8L44.2 580.2L47.3 579.6L50.3 579L53.4 578.4L56.5 577.8L59.6 577.1L62.8 576.2L66.1 575.3L69.3 574.3L72.6 573.4L75.7 572.4L78.5 571.5L81.2 570.6L83.7 569.8L86.1 568.9L88.3 568.1L90.4 567.3L92.4 566.4L94.1 565.5L95.7 564.6L97.1 563.6L98.4 562.7L99.6 561.7L100.9 560.8L102.2 559.9L103.4 558.9L104.5 558L105.6 557.1L106.7 556.3L107.9 555.6L109 555L110 554.5L111.1 554.1L112.2 553.8L113.4 553.5L114.7 553.3L116.3 553.2L117.9 553.1L119.7 553.1L121.5 553.1L123.3 553.2L125.1 553.3L126.8 553.5L128.7 553.8L130.5 554.1L132.3 554.4L134 554.7L135.4 554.9L136.7 555L137.7 555.1L138.6 555.1L139.5 555.1L140.3 555.1L141.1 555L141.8 555L142.5 555L143.2 555L143.8 554.9L144.5 554.6L145.3 554.3L146.1 553.8L147 553.1L148 552.4L149 551.6L149.9 550.7L150.9 549.8L151.8 548.9L152.7 547.9L153.7 546.9L154.6 545.8L155.4 544.7L156.2 543.6L156.8 542.4L157.4 541.1L157.9 539.9L158.4 538.5L158.9 537.2L159.3 535.9L159.8 534.7L160.2 533.4L160.5 532.2L160.9 530.9L161.2 529.6L161.5 528.2L161.8 526.8L162.1 525.6L162.4 524.2L162.6 522.8L162.9 521L163.1 518.9L163.3 516.5L163.5 513.7L163.7 510.7L163.9 507.5L164 504.1L164.2 500.6L164.4 496.9L164.5 492.9L164.7 488.7L164.9 484.5L165.1 480.3L165.2 476.3L165.4 472.3L165.5 468.4L165.6 464.5L165.8 460.7L165.9 457L166 453.4L166.2 449.8L166.4 446.2L166.5 442.6L166.7 439.3L166.9 436.4L167 434L167.1 432.1L167.2 430.6L167.3 429.5L167.4 428.8L167.5 428.3L167.6 428.2L167.7 428.3L167.9 428.8L168 429.5L168.1 430.6L168.2 432.1L168.4 434L168.5 436.4L168.7 439.3L168.9 442.6L169.1 446.2L169.2 449.8L169.4 453.4L169.5 457L169.6 460.8L169.7 464.7L169.8 468.6L169.9 472.5L170.1 476.3L170.2 480L170.4 483.7L170.5 487.4L170.7 491L170.9 494.4L171.1 497.6L171.3 500.5L171.6 503.3L171.8 505.9L172.1 508.3L172.4 510.6L172.7 512.8L172.9 514.8L173.2 516.5L173.4 518.1L173.7 519.7L173.9 521.2L174.3 522.8L174.6 524.5L175 526.3L175.5 528L175.9 529.7L176.4 531.3L176.9 532.8L177.3 534.2L177.7 535.4L178.1 536.5L178.5 537.6L179 538.7L179.5 539.8L180.1 540.8L180.8 541.9L181.4 542.9L182.2 543.9L183 544.9L183.8 545.9L184.7 546.9L185.7 547.8L186.8 548.8L187.9 549.7L189 550.5L190.2 551.3L191.4 552L192.6 552.7L193.9 553.3L195.2 553.9L196.4 554.4L197.6 554.8L198.6 555.2L199.4 555.5L200.3 555.8L201.1 556L202 556.1L203.1 556.2L204.3 556.1L205.7 555.9L207.2 555.7L208.7 555.4L210.2 555L211.6 554.7L213.1 554.4L214.6 553.9L216.1 553.5L217.5 553.1L219 552.8L220.4 552.7L221.7 552.7L222.9 552.7L224.1 552.9L225.3 553.3L226.6 553.7L228.1 554.4L229.7 555.3L231.5 556.4L233.4 557.7L235.3 559L237.1 560.3L238.7 561.4L240.1 562.2L241.4 563L242.6 563.8L243.7 564.4L245 565L246.5 565.6L248.2 566.1L250 566.6L251.9 567L253.9 567.4L256 567.7L258.2 568.1L260.6 568.5L263.2 568.8L265.9 569.2L268.7 569.5L271.3 569.8L273.7 570.1L275.7 570.4L277.5 570.6L279.2 570.9L281 571.1L282.9 571.5L285.3 571.9L288.2 572.6L291.5 573.4L294.9 574.2L298.5 575.1L302.1 576L302.1 580.6" fill="none" stroke="#000" stroke-width="1.1" stroke-linejoin="round"/>
<path d="M36.1 583.1L38.9 583.2L42 582.6L45 582L48.1 581.4L51.2 580.9L54.3 580.2L57.4 579.5L60.5 578.6L63.8 577.7L67.1 576.8L70.3 575.8L73.4 574.8L76.3 573.9L79 573L81.5 572.2L83.9 571.4L86.1 570.5L88.2 569.7L90.1 568.8L91.9 567.9L93.4 567L94.8 566L96.2 565.1L97.4 564.1L98.7 563.2L99.9 562.3L101.1 561.3L102.3 560.4L103.4 559.5L104.5 558.7L105.6 558L106.8 557.4L107.8 556.9L108.9 556.5L110 556.2L111.2 556L112.5 555.7L114 555.6L115.7 555.5L117.5 555.5L119.3 555.5L121.1 555.6L122.8 555.7L124.6 555.9L126.5 556.2L128.3 556.5L130.1 556.8L131.8 557.1L133.2 557.3L134.5 557.4L135.5 557.5L136.4 557.5L137.3 557.5L138 557.5L138.8 557.4L139.6 557.4L140.3 557.4L140.9 557.4L141.6 557.3L142.3 557.1L143 556.7L143.9 556.2L144.8 555.6L145.8 554.8L146.7 554L147.7 553.1L148.6 552.2L149.6 551.3L150.5 550.3L151.4 549.3L152.3 548.2L153.2 547.1L153.9 546L154.6 544.8L155.2 543.6L155.7 542.3L156.2 541L156.7 539.6L157.1 538.3L157.5 537.1L157.9 535.8L158.3 534.6L158.6 533.3L159 532L159.3 530.6L159.6 529.3L159.9 528L160.2 526.6L160.4 525.2L160.7 523.4L160.9 521.4L161.1 518.9L161.3 516.2L161.5 513.1L161.6 509.9L161.8 506.6L162 503L162.2 499.3L162.3 495.3L162.5 491.2L162.7 486.9L162.8 482.7L163 478.7L163.1 474.8L163.3 470.8L163.4 467L163.5 463.1L163.7 459.4L163.8 455.8L164 452.2L164.1 448.6L164.3 445L164.5 441.7L164.6 438.8L164.8 436.4L164.9 434.5L165 433L165.1 431.9L165.2 431.2L165.3 430.8L165.4 430.6L165.5 430.8L165.6 431.2L165.7 431.9L165.9 433L166 434.5L166.1 436.4L166.3 438.8L166.5 441.7L166.7 445L166.8 448.6L167 452.2L167.2 455.8L167.3 459.5L167.4 463.3L167.5 467.1L167.6 471.1L167.7 474.9L167.8 478.7L168 482.4L168.1 486.1L168.3 489.8L168.5 493.4L168.6 496.8L168.9 500L169.1 502.9L169.3 505.7L169.6 508.3L169.9 510.8L170.2 513L170.4 515.2L170.7 517.2L170.9 518.9L171.2 520.6L171.4 522.1L171.7 523.6L172 525.3L172.4 527L172.8 528.7L173.3 530.4L173.7 532.1L174.2 533.7L174.6 535.2L175.1 536.6L175.5 537.8L175.9 538.9L176.3 540L176.8 541.1L177.3 542.2L177.9 543.3L178.5 544.3L179.2 545.3L180 546.4L180.7 547.3L181.6 548.3L182.5 549.3L183.5 550.3L184.6 551.2L185.7 552.1L186.8 553L188 553.7L189.2 554.4L190.4 555.1L191.7 555.7L193 556.3L194.2 556.8L195.3 557.2L196.3 557.6L197.2 557.9L198 558.2L198.9 558.4L199.8 558.6L200.9 558.6L202.1 558.5L203.5 558.4L204.9 558.1L206.4 557.8L208 557.5L209.4 557.1L210.9 556.8L212.4 556.4L213.8 555.9L215.3 555.5L216.7 555.2L218.1 555.1L219.5 555.1L220.7 555.2L221.9 555.4L223.1 555.7L224.4 556.1L225.9 556.8L227.5 557.7L229.3 558.8L231.2 560.1L233.1 561.4L234.9 562.7L236.5 563.8L237.9 564.7L239.2 565.5L240.3 566.2L241.5 566.8L242.8 567.5L244.3 568L246 568.6L247.8 569L249.6 569.4L251.6 569.8L253.7 570.2L255.9 570.5L258.4 570.9L261 571.2L263.7 571.6L266.4 571.9L269.1 572.2L271.5 572.5L273.5 572.8L275.3 573L277 573.3L278.7 573.5L280.7 573.9L283.1 574.4L286 575L289.2 575.8L292.7 576.6L296.3 577.5L299.9 578.4L299.9 583.1L36.1 583.1Z" fill="#fff" stroke="none"/>
<path d="M36.1 583.1L38.9 583.2L42 582.6L45 582L48.1 581.4L51.2 580.9L54.3 580.2L57.4 579.5L60.5 578.6L63.8 577.7L67.1 576.8L70.3 575.8L73.4 574.8L76.3 573.9L79 573L81.5 572.2L83.9 571.4L86.1 570.5L88.2 569.7L90.1 568.8L91.9 567.9L93.4 567L94.8 566L96.2 565.1L97.4 564.1L98.7 563.2L99.9 562.3L101.1 561.3L102.3 560.4L103.4 559.5L104.5 558.7L105.6 558L106.8 557.4L107.8 556.9L108.9 556.5L110 556.2L111.2 556L112.5 555.7L114 555.6L115.7 555.5L117.5 555.5L119.3 555.5L121.1 555.6L122.8 555.7L124.6 555.9L126.5 556.2L128.3 556.5L130.1 556.8L131.8 557.1L133.2 557.3L134.5 557.4L135.5 557.5L136.4 557.5L137.3 557.5L138 557.5L138.8 557.4L139.6 557.4L140.3 557.4L140.9 557.4L141.6 557.3L142.3 557.1L143 556.7L143.9 556.2L144.8 555.6L145.8 554.8L146.7 554L147.7 553.1L148.6 552.2L149.6 551.3L150.5 550.3L151.4 549.3L152.3 548.2L153.2 547.1L153.9 546L154.6 544.8L155.2 543.6L155.7 542.3L156.2 541L156.7 539.6L157.1 538.3L157.5 537.1L157.9 535.8L158.3 534.6L158.6 533.3L159 532L159.3 530.6L159.6 529.3L159.9 528L160.2 526.6L160.4 525.2L160.7 523.4L160.9 521.4L161.1 518.9L161.3 516.2L161.5 513.1L161.6 509.9L161.8 506.6L162 503L162.2 499.3L162.3 495.3L162.5 491.2L162.7 486.9L162.8 482.7L163 478.7L163.1 474.8L163.3 470.8L163.4 467L163.5 463.1L163.7 459.4L163.8 455.8L164 452.2L164.1 448.6L164.3 445L164.5 441.7L164.6 438.8L164.8 436.4L164.9 434.5L165 433L165.1 431.9L165.2 431.2L165.3 430.8L165.4 430.6L165.5 430.8L165.6 431.2L165.7 431.9L165.9 433L166 434.5L166.1 436.4L166.3 438.8L166.5 441.7L166.7 445L166.8 448.6L167 452.2L167.2 455.8L167.3 459.5L167.4 463.3L167.5 467.1L167.6 471.1L167.7 474.9L167.8 478.7L168 482.4L168.1 486.1L168.3 489.8L168.5 493.4L168.6 496.8L168.9 500L169.1 502.9L169.3 505.7L169.6 508.3L169.9 510.8L170.2 513L170.4 515.2L170.7 517.2L170.9 518.9L171.2 520.6L171.4 522.1L171.7 523.6L172 525.3L172.4 527L172.8 528.7L173.3 530.4L173.7 532.1L174.2 533.7L174.6 535.2L175.1 536.6L175.5 537.8L175.9 538.9L176.3 540L176.8 541.1L177.3 542.2L177.9 543.3L178.5 544.3L179.2 545.3L180 546.4L180.7 547.3L181.6 548.3L182.5 549.3L183.5 550.3L184.6 551.2L185.7 552.1L186.8 553L188 553.7L189.2 554.4L190.4 555.1L191.7 555.7L193 556.3L194.2 556.8L195.3 557.2L196.3 557.6L197.2 557.9L198 558.2L198.9 558.4L199.8 558.6L200.9 558.6L202.1 558.5L203.5 558.4L204.9 558.1L206.4 557.8L208 557.5L209.4 557.1L210.9 556.8L212.4 556.4L213.8 555.9L215.3 555.5L216.7 555.2L218.1 555.1L219.5 555.1L220.7 555.2L221.9 555.4L223.1 555.7L224.4 556.1L225.9 556.8L227.5 557.7L229.3 558.8L231.2 560.1L233.1 561.4L234.9 562.7L236.5 563.8L237.9 564.7L239.2 565.5L240.3 566.2L241.5 566.8L242.8 567.5L244.3 568L246 568.6L247.8 569L249.6 569.4L251.6 569.8L253.7 570.2L255.9 570.5L258.4 570.9L261 571.2L263.7 571.6L266.4 571.9L269.1 572.2L271.5 572.5L273.5 572.8L275.3 573L277 573.3L278.7 573.5L280.7 573.9L283.1 574.4L286 575L289.2 575.8L292.7 576.6L296.3 577.5L299.9 578.4L299.9 583.1" fill="none" stroke="#000" stroke-width="1.1" stroke-linejoin="round"/>
<path d="M33.8 585.5L36.7 585.6L39.8 585L42.8 584.4L45.9 583.9L49 583.3L52 582.6L55.1 581.9L58.3 581.1L61.6 580.1L64.9 579.2L68.1 578.2L71.2 577.2L74.1 576.3L76.7 575.4L79.3 574.6L81.6 573.8L83.9 572.9L86 572.1L87.9 571.2L89.7 570.3L91.2 569.4L92.6 568.5L93.9 567.5L95.2 566.6L96.5 565.6L97.7 564.7L98.9 563.8L100 562.8L101.2 561.9L102.3 561.1L103.4 560.4L104.5 559.8L105.6 559.4L106.6 559L107.8 558.6L109 558.4L110.3 558.2L111.8 558L113.5 557.9L115.2 557.9L117 558L118.8 558L120.6 558.2L122.4 558.3L124.2 558.6L126.1 558.9L127.9 559.3L129.5 559.5L131 559.7L132.2 559.9L133.3 559.9L134.2 559.9L135 559.9L135.8 559.9L136.6 559.9L137.4 559.8L138.1 559.8L138.7 559.8L139.4 559.7L140 559.5L140.8 559.1L141.7 558.6L142.6 558L143.5 557.2L144.5 556.4L145.5 555.5L146.4 554.6L147.3 553.7L148.3 552.7L149.2 551.7L150.1 550.7L150.9 549.6L151.7 548.4L152.4 547.2L153 546L153.5 544.7L154 543.4L154.4 542.1L154.9 540.8L155.3 539.5L155.7 538.2L156.1 537L156.4 535.7L156.8 534.4L157.1 533L157.4 531.7L157.7 530.4L157.9 529.1L158.2 527.6L158.4 525.9L158.7 523.8L158.9 521.3L159.1 518.6L159.2 515.6L159.4 512.3L159.6 509L159.8 505.5L159.9 501.7L160.1 497.7L160.3 493.6L160.4 489.3L160.6 485.2L160.8 481.1L160.9 477.2L161 473.3L161.2 469.4L161.3 465.6L161.5 461.8L161.6 458.2L161.8 454.6L161.9 451L162.1 447.5L162.3 444.2L162.4 441.2L162.6 438.8L162.7 436.9L162.8 435.5L162.9 434.4L163 433.6L163.1 433.2L163.2 433L163.3 433.2L163.4 433.6L163.5 434.4L163.6 435.5L163.8 436.9L163.9 438.8L164.1 441.2L164.2 444.2L164.4 447.5L164.6 451L164.8 454.6L164.9 458.2L165.1 461.9L165.2 465.7L165.3 469.6L165.4 473.5L165.5 477.4L165.6 481.1L165.8 484.8L165.9 488.6L166.1 492.2L166.2 495.8L166.4 499.2L166.6 502.4L166.9 505.4L167.1 508.1L167.4 510.7L167.7 513.2L167.9 515.5L168.2 517.6L168.5 519.6L168.7 521.4L169 523L169.2 524.5L169.5 526.1L169.8 527.7L170.2 529.4L170.6 531.1L171 532.9L171.5 534.6L172 536.2L172.4 537.7L172.8 539L173.2 540.2L173.6 541.4L174.1 542.4L174.6 543.5L175.1 544.6L175.7 545.7L176.3 546.7L177 547.8L177.7 548.8L178.5 549.8L179.4 550.7L180.3 551.7L181.3 552.7L182.4 553.6L183.5 554.5L184.6 555.4L185.7 556.2L186.9 556.9L188.2 557.5L189.5 558.1L190.8 558.7L192 559.2L193.1 559.6L194.1 560L195 560.3L195.8 560.6L196.6 560.8L197.6 561L198.6 561L199.9 560.9L201.3 560.8L202.7 560.5L204.2 560.2L205.7 559.9L207.2 559.6L208.7 559.2L210.1 558.8L211.6 558.3L213.1 557.9L214.5 557.6L215.9 557.5L217.2 557.5L218.5 557.6L219.7 557.8L220.9 558.1L222.2 558.6L223.6 559.2L225.3 560.1L227.1 561.2L228.9 562.5L230.8 563.9L232.6 565.1L234.3 566.2L235.7 567.1L236.9 567.9L238.1 568.6L239.3 569.3L240.6 569.9L242.1 570.5L243.7 571L245.5 571.4L247.4 571.8L249.4 572.2L251.5 572.6L253.7 572.9L256.1 573.3L258.8 573.7L261.5 574L264.2 574.3L266.8 574.6L269.2 575L271.3 575.2L273.1 575.5L274.8 575.7L276.5 575.9L278.5 576.3L280.9 576.8L283.8 577.4L287 578.2L290.5 579.1L294.1 580L297.7 580.9L297.7 585.5L33.8 585.5Z" fill="#fff" stroke="none"/>
<path d="M33.8 585.5L36.7 585.6L39.8 585L42.8 584.4L45.9 583.9L49 583.3L52 582.6L55.1 581.9L58.3 581.1L61.6 580.1L64.9 579.2L68.1 578.2L71.2 577.2L74.1 576.3L76.7 575.4L79.3 574.6L81.6 573.8L83.9 572.9L86 572.1L87.9 571.2L89.7 570.3L91.2 569.4L92.6 568.5L93.9 567.5L95.2 566.6L96.5 565.6L97.7 564.7L98.9 563.8L100 562.8L101.2 561.9L102.3 561.1L103.4 560.4L104.5 559.8L105.6 559.4L106.6 559L107.8 558.6L109 558.4L110.3 558.2L111.8 558L113.5 557.9L115.2 557.9L117 558L118.8 558L120.6 558.2L122.4 558.3L124.2 558.6L126.1 558.9L127.9 559.3L129.5 559.5L131 559.7L132.2 559.9L133.3 559.9L134.2 559.9L135 559.9L135.8 559.9L136.6 559.9L137.4 559.8L138.1 559.8L138.7 559.8L139.4 559.7L140 559.5L140.8 559.1L141.7 558.6L142.6 558L143.5 557.2L144.5 556.4L145.5 555.5L146.4 554.6L147.3 553.7L148.3 552.7L149.2 551.7L150.1 550.7L150.9 549.6L151.7 548.4L152.4 547.2L153 546L153.5 544.7L154 543.4L154.4 542.1L154.9 540.8L155.3 539.5L155.7 538.2L156.1 537L156.4 535.7L156.8 534.4L157.1 533L157.4 531.7L157.7 530.4L157.9 529.1L158.2 527.6L158.4 525.9L158.7 523.8L158.9 521.3L159.1 518.6L159.2 515.6L159.4 512.3L159.6 509L159.8 505.5L159.9 501.7L160.1 497.7L160.3 493.6L160.4 489.3L160.6 485.2L160.8 481.1L160.9 477.2L161 473.3L161.2 469.4L161.3 465.6L161.5 461.8L161.6 458.2L161.8 454.6L161.9 451L162.1 447.5L162.3 444.2L162.4 441.2L162.6 438.8L162.7 436.9L162.8 435.5L162.9 434.4L163 433.6L163.1 433.2L163.2 433L163.3 433.2L163.4 433.6L163.5 434.4L163.6 435.5L163.8 436.9L163.9 438.8L164.1 441.2L164.2 444.2L164.4 447.5L164.6 451L164.8 454.6L164.9 458.2L165.1 461.9L165.2 465.7L165.3 469.6L165.4 473.5L165.5 477.4L165.6 481.1L165.8 484.8L165.9 488.6L166.1 492.2L166.2 495.8L166.4 499.2L166.6 502.4L166.9 505.4L167.1 508.1L167.4 510.7L167.7 513.2L167.9 515.5L168.2 517.6L168.5 519.6L168.7 521.4L169 523L169.2 524.5L169.5 526.1L169.8 527.7L170.2 529.4L170.6 531.1L171 532.9L171.5 534.6L172 536.2L172.4 537.7L172.8 539L173.2 540.2L173.6 541.4L174.1 542.4L174.6 543.5L175.1 544.6L175.7 545.7L176.3 546.7L177 547.8L177.7 548.8L178.5 549.8L179.4 550.7L180.3 551.7L181.3 552.7L182.4 553.6L183.5 554.5L184.6 555.4L185.7 556.2L186.9 556.9L188.2 557.5L189.5 558.1L190.8 558.7L192 559.2L193.1 559.6L194.1 560L195 560.3L195.8 560.6L196.6 560.8L197.6 561L198.6 561L199.9 560.9L201.3 560.8L202.7 560.5L204.2 560.2L205.7 559.9L207.2 559.6L208.7 559.2L210.1 558.8L211.6 558.3L213.1 557.9L214.5 557.6L215.9 557.5L217.2 557.5L218.5 557.6L219.7 557.8L220.9 558.1L222.2 558.6L223.6 559.2L225.3 560.1L227.1 561.2L228.9 562.5L230.8 563.9L232.6 565.1L234.3 566.2L235.7 567.1L236.9 567.9L238.1 568.6L239.3 569.3L240.6 569.9L242.1 570.5L243.7 571L245.5 571.4L247.4 571.8L249.4 572.2L251.5 572.6L253.7 572.9L256.1 573.3L258.8 573.7L261.5 574L264.2 574.3L266.8 574.6L269.2 575L271.3 575.2L273.1 575.5L274.8 575.7L276.5 575.9L278.5 576.3L280.9 576.8L283.8 577.4L287 578.2L290.5 579.1L294.1 580L297.7 580.9L297.7 585.5" fill="none" stroke="#000" stroke-width="1.1" stroke-linejoin="round"/>
<path d="M31.4 587.9L34.5 588L37.5 587.4L40.6 586.9L43.7 586.3L46.7 585.7L49.8 585L52.9 584.3L56.1 583.5L59.4 582.6L62.7 581.6L65.9 580.6L69 579.6L71.9 578.7L74.5 577.8L77 577L79.4 576.2L81.7 575.4L83.7 574.5L85.7 573.7L87.4 572.8L89 571.8L90.4 570.9L91.7 569.9L93 569L94.2 568.1L95.5 567.1L96.7 566.2L97.8 565.2L98.9 564.3L100.1 563.5L101.2 562.8L102.3 562.3L103.4 561.8L104.4 561.4L105.5 561.1L106.7 560.8L108.1 560.6L109.6 560.4L111.2 560.4L113 560.3L114.8 560.4L116.6 560.5L118.4 560.6L120.2 560.8L122 561L123.9 561.4L125.7 561.7L127.3 562L128.8 562.2L130 562.3L131.1 562.3L132 562.4L132.8 562.4L133.6 562.3L134.4 562.3L135.2 562.3L135.8 562.2L136.5 562.2L137.1 562.1L137.8 561.9L138.6 561.6L139.4 561L140.4 560.4L141.3 559.6L142.3 558.8L143.3 557.9L144.2 557L145.1 556.1L146.1 555.2L147 554.1L147.9 553.1L148.7 552L149.5 550.8L150.1 549.6L150.7 548.4L151.3 547.1L151.8 545.8L152.2 544.5L152.7 543.2L153.1 541.9L153.5 540.7L153.9 539.4L154.2 538.1L154.5 536.8L154.8 535.4L155.2 534.1L155.4 532.8L155.7 531.5L156 530L156.2 528.3L156.4 526.2L156.6 523.7L156.8 521L157 518L157.2 514.8L157.4 511.4L157.5 507.9L157.7 504.2L157.9 500.2L158 496L158.2 491.8L158.4 487.6L158.5 483.5L158.7 479.6L158.8 475.7L159 471.8L159.1 468L159.2 464.3L159.4 460.7L159.5 457.1L159.7 453.4L159.9 449.9L160 446.6L160.2 443.7L160.3 441.2L160.5 439.4L160.6 437.9L160.7 436.8L160.8 436L160.9 435.6L161 435.5L161.1 435.6L161.2 436L161.3 436.8L161.4 437.9L161.5 439.4L161.7 441.2L161.8 443.7L162 446.6L162.2 449.9L162.4 453.4L162.6 457.1L162.7 460.7L162.9 464.3L163 468.1L163.1 472L163.2 475.9L163.3 479.8L163.4 483.5L163.5 487.2L163.7 491L163.8 494.7L164 498.2L164.2 501.7L164.4 504.8L164.6 507.8L164.9 510.5L165.2 513.1L165.4 515.6L165.7 517.9L166 520L166.2 522L166.5 523.8L166.7 525.4L167 526.9L167.3 528.5L167.6 530.1L168 531.8L168.4 533.5L168.8 535.3L169.3 537L169.7 538.6L170.2 540.1L170.6 541.4L171 542.6L171.4 543.8L171.9 544.9L172.3 545.9L172.9 547L173.5 548.1L174.1 549.1L174.8 550.2L175.5 551.2L176.3 552.2L177.1 553.2L178.1 554.1L179.1 555.1L180.1 556L181.2 556.9L182.4 557.8L183.5 558.6L184.7 559.3L186 559.9L187.3 560.6L188.5 561.1L189.8 561.6L190.9 562L191.9 562.4L192.8 562.8L193.6 563L194.4 563.3L195.3 563.4L196.4 563.4L197.7 563.4L199 563.2L200.5 562.9L202 562.6L203.5 562.3L205 562L206.4 561.6L207.9 561.2L209.4 560.7L210.9 560.3L212.3 560L213.7 559.9L215 559.9L216.2 560L217.4 560.2L218.7 560.5L220 561L221.4 561.6L223 562.5L224.8 563.7L226.7 565L228.6 566.3L230.4 567.5L232.1 568.6L233.5 569.5L234.7 570.3L235.9 571L237.1 571.7L238.4 572.3L239.8 572.9L241.5 573.4L243.3 573.8L245.2 574.3L247.2 574.6L249.3 575L251.5 575.4L253.9 575.7L256.5 576.1L259.3 576.4L262 576.7L264.6 577.1L267 577.4L269.1 577.7L270.9 577.9L272.5 578.1L274.3 578.4L276.3 578.7L278.7 579.2L281.5 579.8L284.8 580.6L288.3 581.5L291.9 582.4L295.5 583.3L295.5 587.9L31.4 587.9Z" fill="#fff" stroke="none"/>
<path d="M31.4 587.9L34.5 588L37.5 587.4L40.6 586.9L43.7 586.3L46.7 585.7L49.8 585L52.9 584.3L56.1 583.5L59.4 582.6L62.7 581.6L65.9 580.6L69 579.6L71.9 578.7L74.5 577.8L77 577L79.4 576.2L81.7 575.4L83.7 574.5L85.7 573.7L87.4 572.8L89 571.8L90.4 570.9L91.7 569.9L93 569L94.2 568.1L95.5 567.1L96.7 566.2L97.8 565.2L98.9 564.3L100.1 563.5L101.2 562.8L102.3 562.3L103.4 561.8L104.4 561.4L105.5 561.1L106.7 560.8L108.1 560.6L109.6 560.4L111.2 560.4L113 560.3L114.8 560.4L116.6 560.5L118.4 560.6L120.2 560.8L122 561L123.9 561.4L125.7 561.7L127.3 562L128.8 562.2L130 562.3L131.1 562.3L132 562.4L132.8 562.4L133.6 562.3L134.4 562.3L135.2 562.3L135.8 562.2L136.5 562.2L137.1 562.1L137.8 561.9L138.6 561.6L139.4 561L140.4 560.4L141.3 559.6L142.3 558.8L143.3 557.9L144.2 557L145.1 556.1L146.1 555.2L147 554.1L147.9 553.1L148.7 552L149.5 550.8L150.1 549.6L150.7 548.4L151.3 547.1L151.8 545.8L152.2 544.5L152.7 543.2L153.1 541.9L153.5 540.7L153.9 539.4L154.2 538.1L154.5 536.8L154.8 535.4L155.2 534.1L155.4 532.8L155.7 531.5L156 530L156.2 528.3L156.4 526.2L156.6 523.7L156.8 521L157 518L157.2 514.8L157.4 511.4L157.5 507.9L157.7 504.2L157.9 500.2L158 496L158.2 491.8L158.4 487.6L158.5 483.5L158.7 479.6L158.8 475.7L159 471.8L159.1 468L159.2 464.3L159.4 460.7L159.5 457.1L159.7 453.4L159.9 449.9L160 446.6L160.2 443.7L160.3 441.2L160.5 439.4L160.6 437.9L160.7 436.8L160.8 436L160.9 435.6L161 435.5L161.1 435.6L161.2 436L161.3 436.8L161.4 437.9L161.5 439.4L161.7 441.2L161.8 443.7L162 446.6L162.2 449.9L162.4 453.4L162.6 457.1L162.7 460.7L162.9 464.3L163 468.1L163.1 472L163.2 475.9L163.3 479.8L163.4 483.5L163.5 487.2L163.7 491L163.8 494.7L164 498.2L164.2 501.7L164.4 504.8L164.6 507.8L164.9 510.5L165.2 513.1L165.4 515.6L165.7 517.9L166 520L166.2 522L166.5 523.8L166.7 525.4L167 526.9L167.3 528.5L167.6 530.1L168 531.8L168.4 533.5L168.8 535.3L169.3 537L169.7 538.6L170.2 540.1L170.6 541.4L171 542.6L171.4 543.8L171.9 544.9L172.3 545.9L172.9 547L173.5 548.1L174.1 549.1L174.8 550.2L175.5 551.2L176.3 552.2L177.1 553.2L178.1 554.1L179.1 555.1L180.1 556L181.2 556.9L182.4 557.8L183.5 558.6L184.7 559.3L186 559.9L187.3 560.6L188.5 561.1L189.8 561.6L190.9 562L191.9 562.4L192.8 562.8L193.6 563L194.4 563.3L195.3 563.4L196.4 563.4L197.7 563.4L199 563.2L200.5 562.9L202 562.6L203.5 562.3L205 562L206.4 561.6L207.9 561.2L209.4 560.7L210.9 560.3L212.3 560L213.7 559.9L215 559.9L216.2 560L217.4 560.2L218.7 560.5L220 561L221.4 561.6L223 562.5L224.8 563.7L226.7 565L228.6 566.3L230.4 567.5L232.1 568.6L233.5 569.5L234.7 570.3L235.9 571L237.1 571.7L238.4 572.3L239.8 572.9L241.5 573.4L243.3 573.8L245.2 574.3L247.2 574.6L249.3 575L251.5 575.4L253.9 575.7L256.5 576.1L259.3 576.4L262 576.7L264.6 577.1L267 577.4L269.1 577.7L270.9 577.9L272.5 578.1L274.3 578.4L276.3 578.7L278.7 579.2L281.5 579.8L284.8 580.6L288.3 581.5L291.9 582.4L295.5 583.3L295.5 587.9" fill="none" stroke="#000" stroke-width="1.1" stroke-linejoin="round"/>
<line x1="99.7" y1="517.8" x2="31.4" y2="587.9" stroke="#111" stroke-width="1.0" />
<line x1="31.4" y1="587.9" x2="296.28" y2="587.9" stroke="#555" stroke-width="2.0" />
<line x1="364.58" y1="517.8" x2="292.97" y2="591.31" stroke="#222" stroke-width="1.3" />
<line x1="31.4" y1="587.9" x2="27.2" y2="592.2" stroke="#222" stroke-width="1.0" />
<text x="10.9" y="606.9" font-size="11" text-anchor="middle" >1525</text>
<line x1="50.32" y1="587.9" x2="46.12" y2="592.2" stroke="#222" stroke-width="1.0" />
<line x1="69.24" y1="587.9" x2="65.04" y2="592.2" stroke="#222" stroke-width="1.0" />
<text x="48.74" y="606.9" font-size="11" text-anchor="middle" >1526</text>
<line x1="88.16" y1="587.9" x2="83.96" y2="592.2" stroke="#222" stroke-width="1.0" />
<line x1="107.08" y1="587.9" x2="102.88" y2="592.2" stroke="#222" stroke-width="1.0" />
<text x="86.58" y="606.9" font-size="11" text-anchor="middle" >1527</text>
<line x1="126" y1="587.9" x2="121.8" y2="592.2" stroke="#222" stroke-width="1.0" />
<line x1="144.92" y1="587.9" x2="140.72" y2="592.2" stroke="#222" stroke-width="1.0" />
<text x="124.42" y="606.9" font-size="11" text-anchor="middle" >1528</text>
<line x1="163.84" y1="587.9" x2="159.64" y2="592.2" stroke="#222" stroke-width="1.0" />
<line x1="182.76" y1="587.9" x2="178.56" y2="592.2" stroke="#222" stroke-width="1.0" />
<text x="162.26" y="606.9" font-size="11" text-anchor="middle" >1529</text>
<line x1="201.68" y1="587.9" x2="197.48" y2="592.2" stroke="#222" stroke-width="1.0" />
<line x1="220.6" y1="587.9" x2="216.4" y2="592.2" stroke="#222" stroke-width="1.0" />
<text x="200.1" y="606.9" font-size="11" text-anchor="middle" >1530</text>
<line x1="239.52" y1="587.9" x2="235.32" y2="592.2" stroke="#222" stroke-width="1.0" />
<line x1="258.44" y1="587.9" x2="254.24" y2="592.2" stroke="#222" stroke-width="1.0" />
<text x="237.94" y="606.9" font-size="11" text-anchor="middle" >1531</text>
<line x1="277.36" y1="587.9" x2="273.16" y2="592.2" stroke="#222" stroke-width="1.0" />
<line x1="296.28" y1="587.9" x2="292.08" y2="592.2" stroke="#222" stroke-width="1.0" />
<text x="275.78" y="606.9" font-size="11" text-anchor="middle" >1532</text>
<line x1="364.58" y1="510.4" x2="380.08" y2="510.4" stroke="#111" stroke-width="1.2" />
<text x="386.3" y="510.7" font-size="12" text-anchor="start" >-65</text>
<line x1="364.58" y1="501.15" x2="372.78" y2="501.15" stroke="#666" stroke-width="1.2" />
<line x1="364.58" y1="491.9" x2="380.08" y2="491.9" stroke="#111" stroke-width="1.2" />
<text x="386.3" y="492.2" font-size="12" text-anchor="start" >-60</text>
<line x1="364.58" y1="482.65" x2="372.78" y2="482.65" stroke="#666" stroke-width="1.2" />
<line x1="364.58" y1="473.4" x2="380.08" y2="473.4" stroke="#111" stroke-width="1.2" />
<text x="386.3" y="473.7" font-size="12" text-anchor="start" >-55</text>
<line x1="364.58" y1="464.15" x2="372.78" y2="464.15" stroke="#666" stroke-width="1.2" />
<line x1="364.58" y1="454.9" x2="380.08" y2="454.9" stroke="#111" stroke-width="1.2" />
<text x="386.3" y="455.2" font-size="12" text-anchor="start" >-50</text>
<line x1="364.58" y1="445.65" x2="372.78" y2="445.65" stroke="#666" stroke-width="1.2" />
<line x1="364.58" y1="436.4" x2="380.08" y2="436.4" stroke="#111" stroke-width="1.2" />
<text x="386.3" y="436.7" font-size="12" text-anchor="start" >-45</text>
<line x1="364.58" y1="427.15" x2="372.78" y2="427.15" stroke="#666" stroke-width="1.2" />
<line x1="364.58" y1="417.9" x2="380.08" y2="417.9" stroke="#111" stroke-width="1.2" />
<text x="386.3" y="418.2" font-size="12" text-anchor="start" >-40</text>
<line x1="364.58" y1="408.65" x2="372.78" y2="408.65" stroke="#666" stroke-width="1.2" />
<line x1="364.58" y1="399.4" x2="380.08" y2="399.4" stroke="#111" stroke-width="1.2" />
<text x="386.3" y="399.7" font-size="12" text-anchor="start" >-35</text>
<line x1="364.58" y1="390.15" x2="372.78" y2="390.15" stroke="#666" stroke-width="1.2" />
<line x1="364.58" y1="380.9" x2="380.08" y2="380.9" stroke="#111" stroke-width="1.2" />
<text x="386.3" y="381.2" font-size="12" text-anchor="start" >-30</text>
<line x1="364.58" y1="371.65" x2="372.78" y2="371.65" stroke="#666" stroke-width="1.2" />
<line x1="364.58" y1="362.4" x2="380.08" y2="362.4" stroke="#111" stroke-width="1.2" />
<text x="386.3" y="362.7" font-size="12" text-anchor="start" >-25</text>
<line x1="354.35" y1="528.3" x2="360.85" y2="528.3" stroke="#444" stroke-width="1.2" />
<line x1="343.34" y1="539.6" x2="359.14" y2="539.6" stroke="#111" stroke-width="1.2" />
<line x1="332.33" y1="550.9" x2="339.13" y2="550.9" stroke="#444" stroke-width="1.2" />
<line x1="321.42" y1="562.1" x2="337.22" y2="562.1" stroke="#111" stroke-width="1.2" />
<line x1="309.92" y1="573.9" x2="317.42" y2="573.9" stroke="#444" stroke-width="1.2" />
<line x1="298.62" y1="585.5" x2="315.12" y2="585.5" stroke="#111" stroke-width="1.2" />
<text x="378.5" y="522.5" font-size="11" text-anchor="middle" >0</text>
<text x="324.3" y="592.4" font-size="11" text-anchor="middle" >50</text>
<text x="358" y="560.9" font-size="13.2" text-anchor="middle" transform="rotate(-47 358.0 560.9)">Time Scan</text>
<text x="102.2" y="349" font-size="18" text-anchor="start" letter-spacing="1.5">c)</text>
<text x="151.25" y="625" font-size="14.5" text-anchor="middle" >Wavelength, nm</text>
<rect x="56.3" y="22.6" width="316" height="259.1" fill="none" stroke="#3a3a3a" stroke-width="1.3"/>
<line x1="56.3" y1="22" x2="56.3" y2="282.5" stroke="#555" stroke-width="1.9" />
<line x1="55.5" y1="281.7" x2="372.3" y2="281.7" stroke="#444" stroke-width="1.6" />
<line x1="56.3" y1="281.7" x2="56.3" y2="286.7" stroke="#222" stroke-width="1.2" />
<text x="56.3" y="298.6" font-size="11" text-anchor="middle" >1525</text>
<line x1="78.87" y1="281.7" x2="78.87" y2="284.7" stroke="#222" stroke-width="1.2" />
<line x1="101.44" y1="281.7" x2="101.44" y2="286.7" stroke="#222" stroke-width="1.2" />
<text x="101.44" y="298.6" font-size="11" text-anchor="middle" >1526</text>
<line x1="124.01" y1="281.7" x2="124.01" y2="284.7" stroke="#222" stroke-width="1.2" />
<line x1="146.58" y1="281.7" x2="146.58" y2="286.7" stroke="#222" stroke-width="1.2" />
<text x="146.58" y="298.6" font-size="11" text-anchor="middle" >1527</text>
<line x1="169.15" y1="281.7" x2="169.15" y2="284.7" stroke="#222" stroke-width="1.2" />
<line x1="191.72" y1="281.7" x2="191.72" y2="286.7" stroke="#222" stroke-width="1.2" />
<text x="191.72" y="298.6" font-size="11" text-anchor="middle" >1528</text>
<line x1="214.29" y1="281.7" x2="214.29" y2="284.7" stroke="#222" stroke-width="1.2" />
<line x1="236.86" y1="281.7" x2="236.86" y2="286.7" stroke="#222" stroke-width="1.2" />
<text x="236.86" y="298.6" font-size="11" text-anchor="middle" >1529</text>
<line x1="259.43" y1="281.7" x2="259.43" y2="284.7" stroke="#222" stroke-width="1.2" />
<line x1="282" y1="281.7" x2="282" y2="286.7" stroke="#222" stroke-width="1.2" />
<text x="282" y="298.6" font-size="11" text-anchor="middle" >1530</text>
<line x1="304.57" y1="281.7" x2="304.57" y2="284.7" stroke="#222" stroke-width="1.2" />
<line x1="327.14" y1="281.7" x2="327.14" y2="286.7" stroke="#222" stroke-width="1.2" />
<text x="327.14" y="298.6" font-size="11" text-anchor="middle" >1531</text>
<line x1="349.71" y1="281.7" x2="349.71" y2="284.7" stroke="#222" stroke-width="1.2" />
<line x1="372.28" y1="281.7" x2="372.28" y2="286.7" stroke="#222" stroke-width="1.2" />
<text x="372.28" y="298.6" font-size="11" text-anchor="middle" >1532</text>
<line x1="51.3" y1="269.4" x2="56.3" y2="269.4" stroke="#222" stroke-width="1.2" />
<text x="48.4" y="272.4" font-size="11" text-anchor="end" >-65</text>
<line x1="53.3" y1="254.37" x2="56.3" y2="254.37" stroke="#222" stroke-width="1.2" />
<line x1="51.3" y1="239.34" x2="56.3" y2="239.34" stroke="#222" stroke-width="1.2" />
<text x="48.4" y="242.34" font-size="11" text-anchor="end" >-60</text>
<line x1="53.3" y1="224.31" x2="56.3" y2="224.31" stroke="#222" stroke-width="1.2" />
<line x1="51.3" y1="209.28" x2="56.3" y2="209.28" stroke="#222" stroke-width="1.2" />
<text x="48.4" y="212.28" font-size="11" text-anchor="end" >-55</text>
<line x1="53.3" y1="194.25" x2="56.3" y2="194.25" stroke="#222" stroke-width="1.2" />
<line x1="51.3" y1="179.22" x2="56.3" y2="179.22" stroke="#222" stroke-width="1.2" />
<text x="48.4" y="182.22" font-size="11" text-anchor="end" >-50</text>
<line x1="53.3" y1="164.19" x2="56.3" y2="164.19" stroke="#222" stroke-width="1.2" />
<line x1="51.3" y1="149.16" x2="56.3" y2="149.16" stroke="#222" stroke-width="1.2" />
<text x="48.4" y="152.16" font-size="11" text-anchor="end" >-45</text>
<line x1="53.3" y1="134.13" x2="56.3" y2="134.13" stroke="#222" stroke-width="1.2" />
<line x1="51.3" y1="119.1" x2="56.3" y2="119.1" stroke="#222" stroke-width="1.2" />
<text x="48.4" y="122.1" font-size="11" text-anchor="end" >-40</text>
<line x1="53.3" y1="104.07" x2="56.3" y2="104.07" stroke="#222" stroke-width="1.2" />
<line x1="51.3" y1="89.04" x2="56.3" y2="89.04" stroke="#222" stroke-width="1.2" />
<text x="48.4" y="92.04" font-size="11" text-anchor="end" >-35</text>
<line x1="53.3" y1="74.01" x2="56.3" y2="74.01" stroke="#222" stroke-width="1.2" />
<line x1="51.3" y1="58.98" x2="56.3" y2="58.98" stroke="#222" stroke-width="1.2" />
<text x="48.4" y="61.98" font-size="11" text-anchor="end" >-30</text>
<line x1="53.3" y1="43.95" x2="56.3" y2="43.95" stroke="#222" stroke-width="1.2" />
<line x1="51.3" y1="28.92" x2="56.3" y2="28.92" stroke="#222" stroke-width="1.2" />
<text x="48.4" y="31.92" font-size="11" text-anchor="end" >-25</text>
<text x="59.4" y="13.9" font-size="18" text-anchor="start" letter-spacing="1.6">a)</text>
<text x="22.8" y="159.35" font-size="14.2" text-anchor="middle" transform="rotate(-90 22.8 159.35)">Output Power, dBm</text>
<text x="214.35" y="320" font-size="14.3" text-anchor="middle" >Wavelength, nm</text>
<text x="230" y="40.2" font-size="12" text-anchor="start" >λ=1528.36nm</text>
<line x1="229.5" y1="36.6" x2="217.3" y2="36.6" stroke="#000" stroke-width="0.9" /><path d="M211.3 36.6 L217.3 35 L217.3 38.2 Z" fill="#000"/>
<path d="M56.8 281.6L60.46 280.64L64.11 279.72L67.76 278.8L71.42 277.84L75.1 276.79L78.8 275.6L82.6 274.24L86.51 272.74L90.44 271.14L94.3 269.52L97.98 267.92L101.4 266.4L104.58 264.98L107.59 263.6L110.43 262.25L113.09 260.9L115.59 259.52L117.9 258.1L119.99 256.61L121.84 255.08L123.51 253.52L125.07 251.96L126.58 250.41L128.1 248.9L129.59 247.38L131.01 245.81L132.37 244.26L133.71 242.78L135.04 241.44L136.4 240.3L137.72 239.36L138.99 238.57L140.25 237.91L141.57 237.38L143 236.95L144.6 236.6L146.41 236.36L148.39 236.23L150.49 236.21L152.64 236.27L154.8 236.41L156.9 236.6L159.03 236.91L161.24 237.36L163.45 237.89L165.59 238.41L167.56 238.88L169.3 239.2L170.77 239.39L172.02 239.5L173.11 239.54L174.1 239.53L175.05 239.48L176 239.4L176.91 239.35L177.73 239.33L178.5 239.28L179.27 239.11L180.09 238.78L181 238.2L182.02 237.36L183.12 236.3L184.27 235.06L185.43 233.7L186.59 232.27L187.7 230.8L188.8 229.29L189.92 227.7L191.03 226.03L192.1 224.28L193.1 222.47L194 220.6L194.79 218.64L195.5 216.58L196.13 214.46L196.71 212.3L197.27 210.13L197.8 208L198.31 205.92L198.78 203.87L199.22 201.81L199.63 199.72L200.02 197.56L200.4 195.3L200.76 193.08L201.11 190.97L201.43 188.79L201.74 186.36L202.03 183.52L202.3 180.1L202.55 176.06L202.78 171.54L202.99 166.6L203.2 161.32L203.4 155.76L203.6 150L203.81 143.88L204.01 137.31L204.22 130.47L204.42 123.52L204.61 116.64L204.8 110L204.98 103.53L205.14 97.08L205.3 90.69L205.46 84.42L205.63 78.31L205.8 72.4L205.99 66.49L206.19 60.51L206.39 54.69L206.59 49.26L206.78 44.45L206.95 40.5L207.1 37.4L207.23 34.97L207.34 33.16L207.46 31.93L207.57 31.22L207.7 31L207.83 31.22L207.96 31.93L208.09 33.16L208.23 34.97L208.38 37.4L208.55 40.5L208.74 44.45L208.95 49.26L209.18 54.69L209.4 60.51L209.61 66.49L209.8 72.4L209.95 78.37L210.09 84.61L210.2 91.01L210.32 97.45L210.45 103.82L210.6 110L210.77 116.1L210.94 122.23L211.13 128.29L211.33 134.17L211.55 139.78L211.8 145L212.08 149.84L212.38 154.39L212.71 158.66L213.04 162.67L213.38 166.44L213.7 170L214 173.24L214.29 176.13L214.57 178.79L214.88 181.32L215.21 183.85L215.6 186.5L216.05 189.3L216.54 192.16L217.07 195.02L217.61 197.81L218.16 200.46L218.7 202.9L219.21 205.1L219.69 207.12L220.17 208.99L220.69 210.78L221.26 212.53L221.9 214.3L222.61 216.07L223.37 217.81L224.18 219.51L225.04 221.17L225.98 222.8L227 224.4L228.11 225.99L229.3 227.57L230.57 229.12L231.89 230.61L233.23 232.02L234.6 233.3L236.02 234.47L237.53 235.56L239.06 236.56L240.59 237.47L242.05 238.28L243.4 239L244.59 239.63L245.63 240.19L246.61 240.66L247.61 241.01L248.72 241.23L250 241.3L251.49 241.18L253.13 240.89L254.86 240.46L256.65 239.95L258.45 239.41L260.2 238.9L261.94 238.32L263.7 237.61L265.46 236.88L267.21 236.21L268.93 235.72L270.6 235.5L272.16 235.51L273.63 235.65L275.06 235.97L276.52 236.49L278.08 237.26L279.8 238.3L281.75 239.77L283.9 241.66L286.14 243.79L288.39 245.98L290.54 248.04L292.5 249.8L294.19 251.26L295.68 252.57L297.07 253.76L298.49 254.85L300.02 255.85L301.8 256.8L303.8 257.66L305.92 258.41L308.18 259.08L310.56 259.7L313.06 260.3L315.7 260.9L318.57 261.5L321.7 262.07L324.95 262.62L328.2 263.15L331.33 263.68L334.2 264.2L336.66 264.66L338.79 265.03L340.79 265.4L342.87 265.83L345.24 266.41L348.1 267.2L351.54 268.25L355.4 269.52L359.56 270.93L363.85 272.41L368.15 273.89L372.3 275.3" fill="none" stroke="#000" stroke-width="1.5" stroke-linejoin="round"/>
<rect x="485.8" y="364.5" width="287.4" height="231.6" fill="none" stroke="#222" stroke-width="1.4"/>
<line x1="485.8" y1="596.1" x2="485.8" y2="600.6" stroke="#222" stroke-width="1.2" />
<text x="485.8" y="611" font-size="10" text-anchor="middle" >0</text>
<line x1="514.54" y1="596.1" x2="514.54" y2="599.1" stroke="#222" stroke-width="1.2" />
<line x1="543.28" y1="596.1" x2="543.28" y2="600.6" stroke="#222" stroke-width="1.2" />
<text x="543.28" y="611" font-size="10" text-anchor="middle" >10</text>
<line x1="572.02" y1="596.1" x2="572.02" y2="599.1" stroke="#222" stroke-width="1.2" />
<line x1="600.76" y1="596.1" x2="600.76" y2="600.6" stroke="#222" stroke-width="1.2" />
<text x="600.76" y="611" font-size="10" text-anchor="middle" >20</text>
<line x1="629.5" y1="596.1" x2="629.5" y2="599.1" stroke="#222" stroke-width="1.2" />
<line x1="658.24" y1="596.1" x2="658.24" y2="600.6" stroke="#222" stroke-width="1.2" />
<text x="658.24" y="611" font-size="10" text-anchor="middle" >30</text>
<line x1="686.98" y1="596.1" x2="686.98" y2="599.1" stroke="#222" stroke-width="1.2" />
<line x1="715.72" y1="596.1" x2="715.72" y2="600.6" stroke="#222" stroke-width="1.2" />
<text x="715.72" y="611" font-size="10" text-anchor="middle" >40</text>
<line x1="744.46" y1="596.1" x2="744.46" y2="599.1" stroke="#222" stroke-width="1.2" />
<line x1="773.2" y1="596.1" x2="773.2" y2="600.6" stroke="#222" stroke-width="1.2" />
<text x="773.2" y="611" font-size="10" text-anchor="middle" >50</text>
<line x1="481.3" y1="596.1" x2="485.8" y2="596.1" stroke="#222" stroke-width="1.2" />
<text x="479.2" y="599.6" font-size="10" text-anchor="end" >-26.0</text>
<line x1="482.8" y1="572.94" x2="485.8" y2="572.94" stroke="#222" stroke-width="1.2" />
<line x1="481.3" y1="549.78" x2="485.8" y2="549.78" stroke="#222" stroke-width="1.2" />
<text x="479.2" y="553.28" font-size="10" text-anchor="end" >-25.8</text>
<line x1="482.8" y1="526.62" x2="485.8" y2="526.62" stroke="#222" stroke-width="1.2" />
<line x1="481.3" y1="503.46" x2="485.8" y2="503.46" stroke="#222" stroke-width="1.2" />
<text x="479.2" y="506.96" font-size="10" text-anchor="end" >-25.6</text>
<line x1="482.8" y1="480.3" x2="485.8" y2="480.3" stroke="#222" stroke-width="1.2" />
<line x1="481.3" y1="457.14" x2="485.8" y2="457.14" stroke="#222" stroke-width="1.2" />
<text x="479.2" y="460.64" font-size="10" text-anchor="end" >-25.4</text>
<line x1="482.8" y1="433.98" x2="485.8" y2="433.98" stroke="#222" stroke-width="1.2" />
<line x1="481.3" y1="410.82" x2="485.8" y2="410.82" stroke="#222" stroke-width="1.2" />
<text x="479.2" y="414.32" font-size="10" text-anchor="end" >-25.2</text>
<line x1="482.8" y1="387.66" x2="485.8" y2="387.66" stroke="#222" stroke-width="1.2" />
<line x1="481.3" y1="364.5" x2="485.8" y2="364.5" stroke="#222" stroke-width="1.2" />
<text x="479.2" y="368" font-size="10" text-anchor="end" >-25.0</text>
<text x="487.9" y="355.2" font-size="18" text-anchor="start" letter-spacing="1">d)</text>
<text x="449.6" y="487.7" font-size="13" text-anchor="middle" transform="rotate(-90 449.6 487.7)">Output Power, dBm</text>
<text x="629.2" y="629.7" font-size="13" text-anchor="middle" >Time, min</text>
<path d="M485.8 457.14L497.3 528.94L508.79 480.3L520.29 487.25L531.78 498.83L543.28 517.36L554.78 487.25L566.27 496.51L577.77 503.46L589.26 491.88L600.76 542.83L612.26 526.62L623.75 505.78L635.25 528.94L646.74 528.94L658.24 508.09L669.74 503.46L681.23 508.09L692.73 531.25L704.22 538.2L715.72 540.52L727.22 505.78L738.71 505.78L750.21 505.78L761.7 535.88L773.2 510.41" fill="none" stroke="#000" stroke-width="1.4" stroke-linejoin="miter"/>
<rect x="483.5" y="454.84" width="4.6" height="4.6" fill="#000"/>
<rect x="495" y="526.64" width="4.6" height="4.6" fill="#000"/>
<rect x="506.49" y="478" width="4.6" height="4.6" fill="#000"/>
<rect x="517.99" y="484.95" width="4.6" height="4.6" fill="#000"/>
<rect x="529.48" y="496.53" width="4.6" height="4.6" fill="#000"/>
<rect x="540.98" y="515.06" width="4.6" height="4.6" fill="#000"/>
<rect x="552.48" y="484.95" width="4.6" height="4.6" fill="#000"/>
<rect x="563.97" y="494.21" width="4.6" height="4.6" fill="#000"/>
<rect x="575.47" y="501.16" width="4.6" height="4.6" fill="#000"/>
<rect x="586.96" y="489.58" width="4.6" height="4.6" fill="#000"/>
<rect x="598.46" y="540.53" width="4.6" height="4.6" fill="#000"/>
<rect x="609.96" y="524.32" width="4.6" height="4.6" fill="#000"/>
<rect x="621.45" y="503.48" width="4.6" height="4.6" fill="#000"/>
<rect x="632.95" y="526.64" width="4.6" height="4.6" fill="#000"/>
<rect x="644.44" y="526.64" width="4.6" height="4.6" fill="#000"/>
<rect x="655.94" y="505.79" width="4.6" height="4.6" fill="#000"/>
<rect x="667.44" y="501.16" width="4.6" height="4.6" fill="#000"/>
<rect x="678.93" y="505.79" width="4.6" height="4.6" fill="#000"/>
<rect x="690.43" y="528.95" width="4.6" height="4.6" fill="#000"/>
<rect x="701.92" y="535.9" width="4.6" height="4.6" fill="#000"/>
<rect x="713.42" y="538.22" width="4.6" height="4.6" fill="#000"/>
<rect x="724.92" y="503.48" width="4.6" height="4.6" fill="#000"/>
<rect x="736.41" y="503.48" width="4.6" height="4.6" fill="#000"/>
<rect x="747.91" y="503.48" width="4.6" height="4.6" fill="#000"/>
<rect x="759.4" y="533.58" width="4.6" height="4.6" fill="#000"/>
<rect x="770.9" y="508.11" width="4.6" height="4.6" fill="#000"/>
<line x1="625.9" y1="422.7" x2="650.1" y2="422.7" stroke="#000" stroke-width="1.4" />
<rect x="636" y="420.4" width="4.6" height="4.6" fill="#000"/>
<text x="653" y="426.3" font-size="11" text-anchor="start" >λ=1528nm</text>
</svg></body></html>
